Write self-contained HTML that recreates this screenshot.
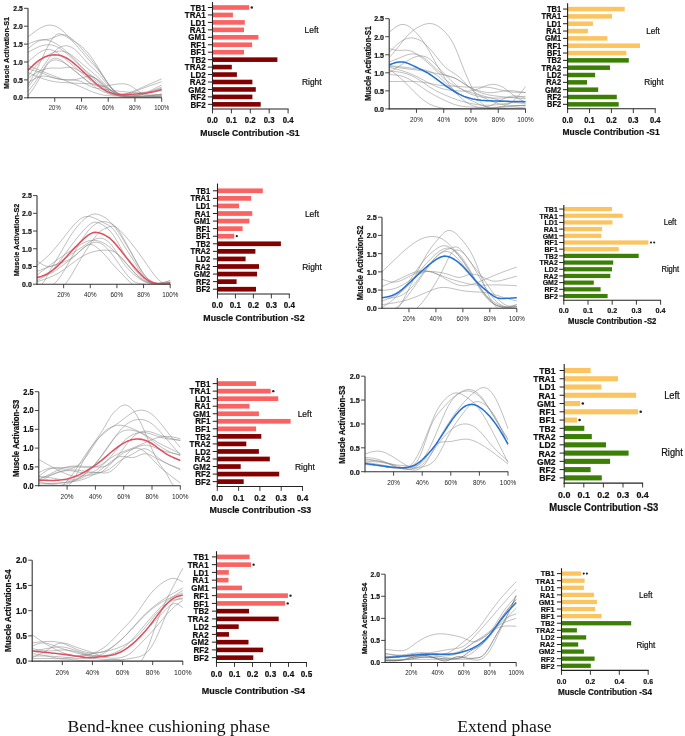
<!DOCTYPE html>
<html><head><meta charset="utf-8"><title>Muscle activation</title>
<style>html,body{margin:0;padding:0;background:#fff;width:685px;height:736px;overflow:hidden}svg{display:block;filter:blur(0.45px)}</style>
</head><body>
<svg width="685" height="736" viewBox="0 0 685 736">
<rect width="685" height="736" fill="#fff"/>
<clipPath id="c1"><rect x="28" y="-21.7" width="145.7" height="119.5"/></clipPath>
<g clip-path="url(#c1)" fill="none" stroke-linejoin="round">
<path d="M28,36.94L29.67,35.61L31.34,34.3L33.01,33.02L34.69,31.78L36.36,30.59L38.03,29.48L39.7,28.46L41.37,27.54L43.04,26.75L44.71,26.09L46.38,25.58L48.05,25.25L49.73,25.11L51.4,25.18L53.07,25.45L54.74,25.92L56.41,26.59L58.08,27.46L59.75,28.52L61.42,29.78L63.1,31.23L64.77,32.83L66.44,34.56L68.11,36.38L69.78,38.24L71.45,40.13L73.12,41.99L74.8,43.84L76.47,45.67L78.14,47.51L79.81,49.37L81.48,51.26L83.15,53.2L84.82,55.16L86.49,57.12L88.16,59.04L89.84,60.91L91.51,62.71L93.18,64.43L94.85,66.17L96.52,67.99L98.19,69.98L99.86,72.15L101.53,74.44L103.21,76.79L104.88,79.15L106.55,81.47L108.22,83.72L109.89,85.85L111.56,87.83L113.23,89.63L114.91,91.24L116.58,92.64L118.25,93.81L119.92,94.76L121.59,95.47L123.26,96L124.93,96.36L126.6,96.6L128.28,96.73L129.95,96.78L131.62,96.78L133.29,96.73L134.96,96.63L136.63,96.5L138.3,96.35L139.97,96.18L141.64,96.01L143.32,95.84L144.99,95.68L146.66,95.52L148.33,95.37L150,95.22L151.67,95.07L153.34,94.92L155.01,94.78L156.69,94.64L158.36,94.5L160.03,94.36L161.7,94.22" stroke="#8a8a8a" stroke-width="0.55"/>
<path d="M28,48.75L29.67,47.32L31.34,45.92L33.01,44.6L34.69,43.38L36.36,42.3L38.03,41.4L39.7,40.71L41.37,40.23L43.04,39.92L44.71,39.69L46.38,39.5L48.05,39.28L49.73,38.96L51.4,38.48L53.07,37.85L54.74,37.13L56.41,36.4L58.08,35.73L59.75,35.18L61.42,34.84L63.1,34.76L64.77,34.96L66.44,35.44L68.11,36.17L69.78,37.16L71.45,38.37L73.12,39.79L74.8,41.36L76.47,43.05L78.14,44.81L79.81,46.62L81.48,48.45L83.15,50.31L84.82,52.2L86.49,54.13L88.16,56.1L89.84,58.11L91.51,60.17L93.18,62.28L94.85,64.45L96.52,66.7L98.19,69.03L99.86,71.43L101.53,73.89L103.21,76.39L104.88,78.9L106.55,81.4L108.22,83.85L109.89,86.18L111.56,88.35L113.23,90.29L114.91,91.94L116.58,93.31L118.25,94.43L119.92,95.32L121.59,96.01L123.26,96.52L124.93,96.88L126.6,97.11L128.28,97.23L129.95,97.27L131.62,97.24L133.29,97.17L134.96,97.08L136.63,97L138.3,96.91L139.97,96.83L141.64,96.76L143.32,96.69L144.99,96.62L146.66,96.55L148.33,96.48L150,96.42L151.67,96.36L153.34,96.3L155.01,96.24L156.69,96.18L158.36,96.12L160.03,96.07L161.7,96.01" stroke="#8a8a8a" stroke-width="0.55"/>
<path d="M28,44.1L29.67,43.37L31.34,42.67L33.01,41.99L34.69,41.38L36.36,40.83L38.03,40.37L39.7,40.03L41.37,39.8L43.04,39.72L44.71,39.78L46.38,39.98L48.05,40.31L49.73,40.78L51.4,41.38L53.07,42.11L54.74,42.96L56.41,43.92L58.08,44.99L59.75,46.14L61.42,47.37L63.1,48.67L64.77,50.03L66.44,51.46L68.11,52.94L69.78,54.49L71.45,56.1L73.12,57.77L74.8,59.5L76.47,61.27L78.14,63.04L79.81,64.81L81.48,66.54L83.15,68.2L84.82,69.78L86.49,71.27L88.16,72.69L89.84,74.06L91.51,75.4L93.18,76.75L94.85,78.11L96.52,79.51L98.19,80.96L99.86,82.46L101.53,84L103.21,85.59L104.88,87.22L106.55,88.83L108.22,90.34L109.89,91.71L111.56,92.86L113.23,93.78L114.91,94.49L116.58,95.04L118.25,95.45L119.92,95.76L121.59,96.01L123.26,96.22L124.93,96.41L126.6,96.57L128.28,96.71L129.95,96.82L131.62,96.91L133.29,96.98L134.96,97.03L136.63,97.06L138.3,97.07L139.97,97.06L141.64,97.04L143.32,97L144.99,96.96L146.66,96.89L148.33,96.82L150,96.74L151.67,96.65L153.34,96.56L155.01,96.45L156.69,96.35L158.36,96.24L160.03,96.12L161.7,96.01" stroke="#8a8a8a" stroke-width="0.55"/>
<path d="M28,84.91L29.67,82.08L31.34,79.22L33.01,76.31L34.69,73.31L36.36,70.19L38.03,66.93L39.7,63.5L41.37,59.94L43.04,56.32L44.71,52.72L46.38,49.22L48.05,45.89L49.73,42.82L51.4,40.08L53.07,37.74L54.74,35.87L56.41,34.57L58.08,33.88L59.75,33.8L61.42,34.2L63.1,34.92L64.77,35.84L66.44,36.8L68.11,37.76L69.78,38.73L71.45,39.7L73.12,40.68L74.8,41.69L76.47,42.73L78.14,43.85L79.81,45.05L81.48,46.36L83.15,47.81L84.82,49.42L86.49,51.19L88.16,53.13L89.84,55.23L91.51,57.48L93.18,59.87L94.85,62.39L96.52,65L98.19,67.68L99.86,70.4L101.53,73.13L103.21,75.84L104.88,78.49L106.55,81.04L108.22,83.48L109.89,85.76L111.56,87.85L113.23,89.72L114.91,91.34L116.58,92.67L118.25,93.71L119.92,94.49L121.59,95.06L123.26,95.45L124.93,95.71L126.6,95.88L128.28,96.01L129.95,96.12L131.62,96.23L133.29,96.34L134.96,96.45L136.63,96.55L138.3,96.64L139.97,96.74L141.64,96.83L143.32,96.92L144.99,97.01L146.66,97.09L148.33,97.17L150,97.26L151.67,97.34L153.34,97.42L155.01,97.49L156.69,97.57L158.36,97.65L160.03,97.72L161.7,97.8" stroke="#8a8a8a" stroke-width="0.55"/>
<path d="M28,52.33L29.67,51.39L31.34,50.45L33.01,49.55L34.69,48.68L36.36,47.87L38.03,47.12L39.7,46.46L41.37,45.89L43.04,45.43L44.71,45.08L46.38,44.86L48.05,44.77L49.73,44.82L51.4,45.02L53.07,45.37L54.74,45.89L56.41,46.58L58.08,47.42L59.75,48.4L61.42,49.51L63.1,50.72L64.77,52.02L66.44,53.4L68.11,54.84L69.78,56.32L71.45,57.84L73.12,59.39L74.8,60.96L76.47,62.55L78.14,64.16L79.81,65.76L81.48,67.37L83.15,68.97L84.82,70.56L86.49,72.14L88.16,73.72L89.84,75.28L91.51,76.83L93.18,78.37L94.85,79.9L96.52,81.41L98.19,82.9L99.86,84.35L101.53,85.76L103.21,87.1L104.88,88.37L106.55,89.55L108.22,90.65L109.89,91.66L111.56,92.59L113.23,93.44L114.91,94.22L116.58,94.92L118.25,95.56L119.92,96.13L121.59,96.63L123.26,97.07L124.93,97.45L126.6,97.77L128.28,98.04L129.95,98.26L131.62,98.43L133.29,98.55L134.96,98.63L136.63,98.67L138.3,98.67L139.97,98.63L141.64,98.55L143.32,98.45L144.99,98.32L146.66,98.16L148.33,97.98L150,97.78L151.67,97.56L153.34,97.33L155.01,97.08L156.69,96.82L158.36,96.55L160.03,96.28L161.7,96.01" stroke="#8a8a8a" stroke-width="0.55"/>
<path d="M28,78.11L29.67,77L31.34,75.9L33.01,74.83L34.69,73.8L36.36,72.82L38.03,71.91L39.7,71.09L41.37,70.35L43.04,69.71L44.71,69.17L46.38,68.73L48.05,68.39L49.73,68.16L51.4,68.04L53.07,68.02L54.74,68.06L56.41,68.12L58.08,68.18L59.75,68.19L61.42,68.12L63.1,67.94L64.77,67.7L66.44,67.46L68.11,67.29L69.78,67.28L71.45,67.48L73.12,67.92L74.8,68.56L76.47,69.35L78.14,70.23L79.81,71.16L81.48,72.09L83.15,72.97L84.82,73.76L86.49,74.43L88.16,75.04L89.84,75.63L91.51,76.24L93.18,76.91L94.85,77.69L96.52,78.61L98.19,79.7L99.86,80.94L101.53,82.3L103.21,83.78L104.88,85.35L106.55,86.93L108.22,88.46L109.89,89.88L111.56,91.1L113.23,92.12L114.91,92.94L116.58,93.61L118.25,94.15L119.92,94.58L121.59,94.94L123.26,95.24L124.93,95.51L126.6,95.73L128.28,95.92L129.95,96.07L131.62,96.18L133.29,96.26L134.96,96.3L136.63,96.32L138.3,96.3L139.97,96.27L141.64,96.2L143.32,96.12L144.99,96.01L146.66,95.88L148.33,95.74L150,95.58L151.67,95.41L153.34,95.23L155.01,95.04L156.69,94.84L158.36,94.64L160.03,94.43L161.7,94.22" stroke="#8a8a8a" stroke-width="0.55"/>
<path d="M28,72.38L29.67,73.15L31.34,73.91L33.01,74.66L34.69,75.4L36.36,76.11L38.03,76.81L39.7,77.48L41.37,78.11L43.04,78.71L44.71,79.26L46.38,79.78L48.05,80.26L49.73,80.68L51.4,81.07L53.07,81.4L54.74,81.69L56.41,81.93L58.08,82.12L59.75,82.27L61.42,82.4L63.1,82.51L64.77,82.6L66.44,82.68L68.11,82.76L69.78,82.85L71.45,82.95L73.12,83.05L74.8,83.15L76.47,83.24L78.14,83.33L79.81,83.41L81.48,83.48L83.15,83.54L84.82,83.59L86.49,83.64L88.16,83.71L89.84,83.78L91.51,83.89L93.18,84.02L94.85,84.2L96.52,84.42L98.19,84.7L99.86,85.06L101.53,85.51L103.21,86.07L104.88,86.75L106.55,87.56L108.22,88.49L109.89,89.49L111.56,90.51L113.23,91.5L114.91,92.43L116.58,93.25L118.25,93.95L119.92,94.55L121.59,95.03L123.26,95.42L124.93,95.71L126.6,95.91L128.28,96.01L129.95,96.03L131.62,95.96L133.29,95.82L134.96,95.62L136.63,95.35L138.3,95.02L139.97,94.64L141.64,94.22L143.32,93.76L144.99,93.26L146.66,92.73L148.33,92.18L150,91.59L151.67,90.99L153.34,90.36L155.01,89.72L156.69,89.07L158.36,88.4L160.03,87.73L161.7,87.06" stroke="#8a8a8a" stroke-width="0.55"/>
<path d="M28,82.76L29.67,81.69L31.34,80.65L33.01,79.65L34.69,78.73L36.36,77.91L38.03,77.22L39.7,76.68L41.37,76.32L43.04,76.15L44.71,76.15L46.38,76.3L48.05,76.55L49.73,76.89L51.4,77.29L53.07,77.7L54.74,78.11L56.41,78.49L58.08,78.82L59.75,79.12L61.42,79.37L63.1,79.57L64.77,79.73L66.44,79.84L68.11,79.9L69.78,79.9L71.45,79.85L73.12,79.74L74.8,79.56L76.47,79.31L78.14,78.99L79.81,78.59L81.48,78.11L83.15,77.56L84.82,77.01L86.49,76.54L88.16,76.24L89.84,76.19L91.51,76.48L93.18,77.13L94.85,78.07L96.52,79.24L98.19,80.58L99.86,82.01L101.53,83.48L103.21,84.92L104.88,86.32L106.55,87.64L108.22,88.88L109.89,90.02L111.56,91.03L113.23,91.91L114.91,92.65L116.58,93.26L118.25,93.72L119.92,94.04L121.59,94.22L123.26,94.25L124.93,94.15L126.6,93.93L128.28,93.61L129.95,93.19L131.62,92.69L133.29,92.13L134.96,91.52L136.63,90.88L138.3,90.21L139.97,89.53L141.64,88.85L143.32,88.19L144.99,87.55L146.66,86.92L148.33,86.3L150,85.7L151.67,85.11L153.34,84.52L155.01,83.95L156.69,83.38L158.36,82.81L160.03,82.25L161.7,81.69" stroke="#8a8a8a" stroke-width="0.55"/>
<path d="M28,91.71L29.67,89.53L31.34,87.33L33.01,85.09L34.69,82.8L36.36,80.44L38.03,77.98L39.7,75.42L41.37,72.74L43.04,69.94L44.71,67.17L46.38,64.59L48.05,62.36L49.73,60.62L51.4,59.37L53.07,58.57L54.74,58.2L56.41,58.23L58.08,58.62L59.75,59.32L61.42,60.29L63.1,61.46L64.77,62.77L66.44,64.16L68.11,65.58L69.78,66.98L71.45,68.34L73.12,69.69L74.8,71.02L76.47,72.34L78.14,73.66L79.81,74.99L81.48,76.32L83.15,77.66L84.82,79L86.49,80.3L88.16,81.53L89.84,82.67L91.51,83.69L93.18,84.57L94.85,85.27L96.52,85.78L98.19,86.12L99.86,86.29L101.53,86.34L103.21,86.27L104.88,86.12L106.55,85.9L108.22,85.63L109.89,85.34L111.56,85.03L113.23,84.74L114.91,84.46L116.58,84.21L118.25,84L119.92,83.86L121.59,83.79L123.26,83.81L124.93,83.96L126.6,84.27L128.28,84.76L129.95,85.45L131.62,86.39L133.29,87.54L134.96,88.8L136.63,90.08L138.3,91.28L139.97,92.3L141.64,93.11L143.32,93.75L144.99,94.25L146.66,94.63L148.33,94.94L150,95.18L151.67,95.38L153.34,95.55L155.01,95.68L156.69,95.78L158.36,95.87L160.03,95.94L161.7,96.01" stroke="#8a8a8a" stroke-width="0.55"/>
<path d="M28,87.06L29.67,84.9L31.34,82.74L33.01,80.56L34.69,78.36L36.36,76.12L38.03,73.85L39.7,71.53L41.37,69.16L43.04,66.73L44.71,64.28L46.38,61.85L48.05,59.47L49.73,57.18L51.4,55.02L53.07,53.04L54.74,51.26L56.41,49.72L58.08,48.43L59.75,47.4L61.42,46.61L63.1,46.08L64.77,45.81L66.44,45.8L68.11,46.03L69.78,46.52L71.45,47.26L73.12,48.24L74.8,49.47L76.47,50.93L78.14,52.58L79.81,54.37L81.48,56.26L83.15,58.19L84.82,60.13L86.49,62.01L88.16,63.79L89.84,65.44L91.51,67L93.18,68.53L94.85,70.08L96.52,71.7L98.19,73.46L99.86,75.36L101.53,77.36L103.21,79.4L104.88,81.44L106.55,83.41L108.22,85.27L109.89,86.98L111.56,88.52L113.23,89.91L114.91,91.15L116.58,92.23L118.25,93.17L119.92,93.96L121.59,94.62L123.26,95.15L124.93,95.55L126.6,95.83L128.28,96.01L129.95,96.08L131.62,96.06L133.29,95.95L134.96,95.75L136.63,95.46L138.3,95.11L139.97,94.68L141.64,94.18L143.32,93.62L144.99,93.01L146.66,92.34L148.33,91.63L150,90.88L151.67,90.1L153.34,89.28L155.01,88.44L156.69,87.57L158.36,86.69L160.03,85.81L161.7,84.91" stroke="#8a8a8a" stroke-width="0.55"/>
<path d="M28,62L29.67,60.47L31.34,58.96L33.01,57.49L34.69,56.08L36.36,54.74L38.03,53.51L39.7,52.4L41.37,51.42L43.04,50.62L44.71,50L46.38,49.59L48.05,49.42L49.73,49.51L51.4,49.87L53.07,50.47L54.74,51.27L56.41,52.25L58.08,53.36L59.75,54.59L61.42,55.88L63.1,57.23L64.77,58.63L66.44,60.05L68.11,61.49L69.78,62.93L71.45,64.36L73.12,65.77L74.8,67.17L76.47,68.56L78.14,69.95L79.81,71.34L81.48,72.74L83.15,74.15L84.82,75.56L86.49,76.97L88.16,78.37L89.84,79.77L91.51,81.15L93.18,82.5L94.85,83.83L96.52,85.13L98.19,86.4L99.86,87.64L101.53,88.85L103.21,90.02L104.88,91.13L106.55,92.16L108.22,93.07L109.89,93.84L111.56,94.44L113.23,94.86L114.91,95.12L116.58,95.23L118.25,95.2L119.92,95.05L121.59,94.8L123.26,94.46L124.93,94.05L126.6,93.57L128.28,93.04L129.95,92.47L131.62,91.86L133.29,91.22L134.96,90.54L136.63,89.84L138.3,89.12L139.97,88.39L141.64,87.65L143.32,86.91L144.99,86.17L146.66,85.43L148.33,84.7L150,83.96L151.67,83.22L153.34,82.49L155.01,81.76L156.69,81.02L158.36,80.29L160.03,79.56L161.7,78.83" stroke="#8a8a8a" stroke-width="0.55"/>
<path d="M28,65.58L29.67,66.25L31.34,66.92L33.01,67.6L34.69,68.27L36.36,68.94L38.03,69.61L39.7,70.28L41.37,70.95L43.04,71.62L44.71,72.29L46.38,72.96L48.05,73.63L49.73,74.3L51.4,74.97L53.07,75.65L54.74,76.32L56.41,77L58.08,77.67L59.75,78.35L61.42,79.02L63.1,79.7L64.77,80.36L66.44,81.03L68.11,81.69L69.78,82.35L71.45,83L73.12,83.65L74.8,84.31L76.47,84.98L78.14,85.65L79.81,86.35L81.48,87.06L83.15,87.79L84.82,88.54L86.49,89.28L88.16,90.02L89.84,90.75L91.51,91.44L93.18,92.11L94.85,92.72L96.52,93.29L98.19,93.81L99.86,94.27L101.53,94.67L103.21,95L104.88,95.26L106.55,95.46L108.22,95.62L109.89,95.75L111.56,95.84L113.23,95.93L114.91,96.01L116.58,96.1L118.25,96.19L119.92,96.28L121.59,96.36L123.26,96.42L124.93,96.47L126.6,96.49L128.28,96.48L129.95,96.43L131.62,96.34L133.29,96.2L134.96,96.01L136.63,95.76L138.3,95.46L139.97,95.11L141.64,94.71L143.32,94.28L144.99,93.81L146.66,93.31L148.33,92.79L150,92.25L151.67,91.69L153.34,91.12L155.01,90.54L156.69,89.94L158.36,89.34L160.03,88.74L161.7,88.13" stroke="#8a8a8a" stroke-width="0.55"/>
<path d="M28,76.32L29.67,74.09L31.34,71.88L33.01,69.72L34.69,67.61L36.36,65.59L38.03,63.66L39.7,61.87L41.37,60.21L43.04,58.71L44.71,57.37L46.38,56.17L48.05,55.11L49.73,54.17L51.4,53.35L53.07,52.63L54.74,52.03L56.41,51.56L58.08,51.23L59.75,51.07L61.42,51.1L63.1,51.32L64.77,51.76L66.44,52.38L68.11,53.17L69.78,54.12L71.45,55.2L73.12,56.38L74.8,57.66L76.47,59L78.14,60.4L79.81,61.83L81.48,63.28L83.15,64.72L84.82,66.15L86.49,67.54L88.16,68.92L89.84,70.3L91.51,71.68L93.18,73.09L94.85,74.53L96.52,76.01L98.19,77.55L99.86,79.13L101.53,80.76L103.21,82.44L104.88,84.18L106.55,85.95L108.22,87.69L109.89,89.35L111.56,90.87L113.23,92.19L114.91,93.28L116.58,94.13L118.25,94.78L119.92,95.26L121.59,95.62L123.26,95.88L124.93,96.09L126.6,96.25L128.28,96.39L129.95,96.48L131.62,96.55L133.29,96.59L134.96,96.59L136.63,96.58L138.3,96.53L139.97,96.46L141.64,96.37L143.32,96.27L144.99,96.14L146.66,95.99L148.33,95.83L150,95.66L151.67,95.48L153.34,95.28L155.01,95.08L156.69,94.87L158.36,94.66L160.03,94.44L161.7,94.22" stroke="#8a8a8a" stroke-width="0.55"/>
<path d="M28,96.01L29.67,93.73L31.34,91.42L33.01,89.03L34.69,86.54L36.36,83.9L38.03,81.09L39.7,78.06L41.37,74.89L43.04,71.73L44.71,68.73L46.38,66.03L48.05,63.79L49.73,62.11L51.4,60.97L53.07,60.3L54.74,60.01L56.41,60.06L58.08,60.36L59.75,60.86L61.42,61.55L63.1,62.38L64.77,63.35L66.44,64.43L68.11,65.58L69.78,66.79L71.45,68.05L73.12,69.36L74.8,70.7L76.47,72.07L78.14,73.47L79.81,74.89L81.48,76.32L83.15,77.76L84.82,79.19L86.49,80.61L88.16,82L89.84,83.36L91.51,84.66L93.18,85.9L94.85,87.06L96.52,88.14L98.19,89.14L99.86,90.05L101.53,90.89L103.21,91.65L104.88,92.34L106.55,92.95L108.22,93.5L109.89,93.99L111.56,94.41L113.23,94.78L114.91,95.1L116.58,95.38L118.25,95.62L119.92,95.83L121.59,96.01L123.26,96.17L124.93,96.31L126.6,96.43L128.28,96.53L129.95,96.61L131.62,96.68L133.29,96.73L134.96,96.76L136.63,96.78L138.3,96.79L139.97,96.79L141.64,96.77L143.32,96.75L144.99,96.71L146.66,96.67L148.33,96.61L150,96.55L151.67,96.49L153.34,96.42L155.01,96.34L156.69,96.26L158.36,96.18L160.03,96.09L161.7,96.01" stroke="#8a8a8a" stroke-width="0.55"/>
<path d="M28,69.16L29.67,69.52L31.34,69.89L33.01,70.28L34.69,70.69L36.36,71.13L38.03,71.61L39.7,72.15L41.37,72.74L43.04,73.39L44.71,74.09L46.38,74.81L48.05,75.54L49.73,76.26L51.4,76.94L53.07,77.56L54.74,78.11L56.41,78.57L58.08,78.94L59.75,79.24L61.42,79.47L63.1,79.64L64.77,79.76L66.44,79.84L68.11,79.9L69.78,79.94L71.45,79.98L73.12,80.05L74.8,80.18L76.47,80.38L78.14,80.68L79.81,81.11L81.48,81.69L83.15,82.43L84.82,83.29L86.49,84.21L88.16,85.13L89.84,86.01L91.51,86.79L93.18,87.41L94.85,87.88L96.52,88.22L98.19,88.47L99.86,88.67L101.53,88.85L103.21,89.04L104.88,89.25L106.55,89.47L108.22,89.7L109.89,89.93L111.56,90.17L113.23,90.41L114.91,90.64L116.58,90.87L118.25,91.08L119.92,91.29L121.59,91.49L123.26,91.67L124.93,91.84L126.6,91.99L128.28,92.12L129.95,92.23L131.62,92.32L133.29,92.39L134.96,92.43L136.63,92.45L138.3,92.44L139.97,92.41L141.64,92.35L143.32,92.28L144.99,92.19L146.66,92.08L148.33,91.96L150,91.82L151.67,91.68L153.34,91.52L155.01,91.35L156.69,91.18L158.36,91L160.03,90.82L161.7,90.64" stroke="#8a8a8a" stroke-width="0.55"/>
<path d="M28,70.23L29.67,68.59L31.34,66.97L33.01,65.38L34.69,63.86L36.36,62.43L38.03,61.09L39.7,59.89L41.37,58.81L43.04,57.88L44.71,57.07L46.38,56.39L48.05,55.84L49.73,55.4L51.4,55.09L53.07,54.91L54.74,54.84L56.41,54.9L58.08,55.08L59.75,55.39L61.42,55.84L63.1,56.42L64.77,57.15L66.44,58.02L68.11,59.03L69.78,60.15L71.45,61.38L73.12,62.7L74.8,64.08L76.47,65.52L78.14,67L79.81,68.52L81.48,70.05L83.15,71.61L84.82,73.18L86.49,74.76L88.16,76.34L89.84,77.91L91.51,79.47L93.18,81L94.85,82.51L96.52,83.97L98.19,85.38L99.86,86.73L101.53,88L103.21,89.16L104.88,90.19L106.55,91.1L108.22,91.87L109.89,92.54L111.56,93.09L113.23,93.55L114.91,93.91L116.58,94.19L118.25,94.39L119.92,94.53L121.59,94.6L123.26,94.62L124.93,94.6L126.6,94.55L128.28,94.48L129.95,94.38L131.62,94.27L133.29,94.15L134.96,94.02L136.63,93.9L138.3,93.78L139.97,93.66L141.64,93.54L143.32,93.39L144.99,93.23L146.66,93.03L148.33,92.79L150,92.5L151.67,92.16L153.34,91.79L155.01,91.38L156.69,90.95L158.36,90.5L160.03,90.04L161.7,89.57" stroke="#e0505e" stroke-width="1.55"/>
</g>
<line x1="28" y1="8.3" x2="28" y2="98.35" stroke="#333" stroke-width="1.1"/>
<line x1="27.45" y1="97.8" x2="161.9" y2="97.8" stroke="#333" stroke-width="1.1"/>
<line x1="24" y1="97.8" x2="28" y2="97.8" stroke="#333" stroke-width="0.9"/>
<text x="22.8" y="100.25" font-size="6.8" font-weight="bold" text-anchor="end" fill="#111" stroke="#111" stroke-width="0.2" font-family='"Liberation Sans", sans-serif' transform="translate(0 97.8) scale(1 1.1) translate(0 -97.8)" >0.0</text>
<line x1="24" y1="79.9" x2="28" y2="79.9" stroke="#333" stroke-width="0.9"/>
<text x="22.8" y="82.35" font-size="6.8" font-weight="bold" text-anchor="end" fill="#111" stroke="#111" stroke-width="0.2" font-family='"Liberation Sans", sans-serif' transform="translate(0 79.9) scale(1 1.1) translate(0 -79.9)" >0.5</text>
<line x1="24" y1="62" x2="28" y2="62" stroke="#333" stroke-width="0.9"/>
<text x="22.8" y="64.45" font-size="6.8" font-weight="bold" text-anchor="end" fill="#111" stroke="#111" stroke-width="0.2" font-family='"Liberation Sans", sans-serif' transform="translate(0 62) scale(1 1.1) translate(0 -62)" >1.0</text>
<line x1="24" y1="44.1" x2="28" y2="44.1" stroke="#333" stroke-width="0.9"/>
<text x="22.8" y="46.55" font-size="6.8" font-weight="bold" text-anchor="end" fill="#111" stroke="#111" stroke-width="0.2" font-family='"Liberation Sans", sans-serif' transform="translate(0 44.1) scale(1 1.1) translate(0 -44.1)" >1.5</text>
<line x1="24" y1="26.2" x2="28" y2="26.2" stroke="#333" stroke-width="0.9"/>
<text x="22.8" y="28.65" font-size="6.8" font-weight="bold" text-anchor="end" fill="#111" stroke="#111" stroke-width="0.2" font-family='"Liberation Sans", sans-serif' transform="translate(0 26.2) scale(1 1.1) translate(0 -26.2)" >2.0</text>
<line x1="24" y1="8.3" x2="28" y2="8.3" stroke="#333" stroke-width="0.9"/>
<text x="22.8" y="10.75" font-size="6.8" font-weight="bold" text-anchor="end" fill="#111" stroke="#111" stroke-width="0.2" font-family='"Liberation Sans", sans-serif' transform="translate(0 8.3) scale(1 1.1) translate(0 -8.3)" >2.5</text>
<line x1="54.74" y1="97.8" x2="54.74" y2="101.8" stroke="#333" stroke-width="0.9"/>
<text x="54.74" y="109.82" font-size="5.9" font-weight="normal" text-anchor="middle" fill="#222" font-family='"Liberation Sans", sans-serif' transform="translate(0 107.7) scale(1 1.1) translate(0 -107.7)" >20%</text>
<line x1="81.48" y1="97.8" x2="81.48" y2="101.8" stroke="#333" stroke-width="0.9"/>
<text x="81.48" y="109.82" font-size="5.9" font-weight="normal" text-anchor="middle" fill="#222" font-family='"Liberation Sans", sans-serif' transform="translate(0 107.7) scale(1 1.1) translate(0 -107.7)" >40%</text>
<line x1="108.22" y1="97.8" x2="108.22" y2="101.8" stroke="#333" stroke-width="0.9"/>
<text x="108.22" y="109.82" font-size="5.9" font-weight="normal" text-anchor="middle" fill="#222" font-family='"Liberation Sans", sans-serif' transform="translate(0 107.7) scale(1 1.1) translate(0 -107.7)" >60%</text>
<line x1="134.96" y1="97.8" x2="134.96" y2="101.8" stroke="#333" stroke-width="0.9"/>
<text x="134.96" y="109.82" font-size="5.9" font-weight="normal" text-anchor="middle" fill="#222" font-family='"Liberation Sans", sans-serif' transform="translate(0 107.7) scale(1 1.1) translate(0 -107.7)" >80%</text>
<line x1="161.7" y1="97.8" x2="161.7" y2="101.8" stroke="#333" stroke-width="0.9"/>
<text x="161.7" y="109.82" font-size="5.9" font-weight="normal" text-anchor="middle" fill="#222" font-family='"Liberation Sans", sans-serif' transform="translate(0 107.7) scale(1 1.1) translate(0 -107.7)" >100%</text>
<text x="6.8" y="53" font-size="7.19" font-weight="bold" text-anchor="middle" fill="#111" stroke="#111" stroke-width="0.2" font-family='"Liberation Sans", sans-serif' transform="translate(6.8 53) scale(1.1 1) rotate(-90) translate(-6.8 -53)" dominant-baseline="central">Muscle Activation-S1</text>
<clipPath id="c2"><rect x="389.2" y="-11.35" width="148.3" height="120.25"/></clipPath>
<g clip-path="url(#c2)" fill="none" stroke-linejoin="round">
<path d="M389.2,32.37L390.9,30.87L392.61,29.42L394.31,28.07L396.01,26.86L397.72,25.84L399.42,25.06L401.13,24.56L402.83,24.4L404.53,24.59L406.24,25.1L407.94,25.89L409.64,26.94L411.35,28.22L413.05,29.68L414.76,31.3L416.46,33.06L418.16,34.95L419.87,36.98L421.57,39.18L423.27,41.55L424.98,44.11L426.68,46.86L428.39,49.78L430.09,52.8L431.79,55.87L433.5,58.95L435.2,61.97L436.9,64.91L438.61,67.8L440.31,70.62L442.02,73.39L443.72,76.12L445.42,78.81L447.13,81.43L448.83,83.94L450.53,86.33L452.24,88.56L453.94,90.63L455.65,92.56L457.35,94.36L459.05,96.07L460.76,97.68L462.46,99.21L464.16,100.62L465.87,101.91L467.57,103.06L469.28,104.07L470.98,104.92L472.68,105.64L474.39,106.23L476.09,106.71L477.79,107.09L479.5,107.39L481.2,107.6L482.91,107.74L484.61,107.82L486.31,107.85L488.02,107.82L489.72,107.75L491.42,107.66L493.13,107.53L494.83,107.39L496.54,107.24L498.24,107.09L499.94,106.95L501.65,106.81L503.35,106.68L505.06,106.55L506.76,106.43L508.46,106.31L510.17,106.2L511.87,106.09L513.57,105.98L515.28,105.88L516.98,105.77L518.68,105.68L520.39,105.58L522.09,105.48L523.8,105.39L525.5,105.29" stroke="#8a8a8a" stroke-width="0.55"/>
<path d="M389.2,57.64L390.9,55.72L392.61,53.78L394.31,51.8L396.01,49.78L397.72,47.68L399.42,45.53L401.13,43.35L402.83,41.19L404.53,39.08L406.24,37.06L407.94,35.17L409.64,33.45L411.35,31.9L413.05,30.51L414.76,29.27L416.46,28.15L418.16,27.14L419.87,26.24L421.57,25.44L423.27,24.75L424.98,24.2L426.68,23.8L428.39,23.57L430.09,23.53L431.79,23.69L433.5,24.07L435.2,24.67L436.9,25.48L438.61,26.49L440.31,27.69L442.02,29.09L443.72,30.67L445.42,32.42L447.13,34.34L448.83,36.48L450.53,38.9L452.24,41.69L453.94,44.92L455.65,48.61L457.35,52.68L459.05,56.98L460.76,61.39L462.46,65.8L464.16,70.07L465.87,74.17L467.57,78.12L469.28,81.92L470.98,85.58L472.68,89.08L474.39,92.37L476.09,95.43L477.79,98.18L479.5,100.6L481.2,102.67L482.91,104.4L484.61,105.82L486.31,106.93L488.02,107.76L489.72,108.33L491.42,108.7L493.13,108.9L494.83,108.98L496.54,108.96L498.24,108.9L499.94,108.82L501.65,108.74L503.35,108.65L505.06,108.55L506.76,108.45L508.46,108.35L510.17,108.23L511.87,108.12L513.57,108L515.28,107.88L516.98,107.75L518.68,107.62L520.39,107.49L522.09,107.36L523.8,107.23L525.5,107.09" stroke="#8a8a8a" stroke-width="0.55"/>
<path d="M389.2,52.58L390.9,50.76L392.61,48.96L394.31,47.22L396.01,45.56L397.72,44L399.42,42.59L401.13,41.33L402.83,40.27L404.53,39.41L406.24,38.75L407.94,38.29L409.64,38.02L411.35,37.94L413.05,38.05L414.76,38.34L416.46,38.81L418.16,39.46L419.87,40.29L421.57,41.31L423.27,42.52L424.98,43.92L426.68,45.48L428.39,47.19L430.09,49.04L431.79,51.01L433.5,53.09L435.2,55.25L436.9,57.44L438.61,59.61L440.31,61.73L442.02,63.73L443.72,65.58L445.42,67.23L447.13,68.67L448.83,69.94L450.53,71.1L452.24,72.19L453.94,73.27L455.65,74.4L457.35,75.61L459.05,76.96L460.76,78.49L462.46,80.17L464.16,81.95L465.87,83.79L467.57,85.61L469.28,87.38L470.98,89.05L472.68,90.56L474.39,91.93L476.09,93.18L477.79,94.31L479.5,95.35L481.2,96.31L482.91,97.21L484.61,98.07L486.31,98.9L488.02,99.69L489.72,100.44L491.42,101.15L493.13,101.82L494.83,102.43L496.54,102.99L498.24,103.48L499.94,103.92L501.65,104.29L503.35,104.6L505.06,104.86L506.76,105.07L508.46,105.23L510.17,105.35L511.87,105.44L513.57,105.49L515.28,105.52L516.98,105.52L518.68,105.5L520.39,105.46L522.09,105.41L523.8,105.35L525.5,105.29" stroke="#8a8a8a" stroke-width="0.55"/>
<path d="M389.2,48.61L390.9,49.07L392.61,49.49L394.31,49.87L396.01,50.17L397.72,50.36L399.42,50.43L401.13,50.38L402.83,50.28L404.53,50.19L406.24,50.18L407.94,50.32L409.64,50.67L411.35,51.23L413.05,51.99L414.76,52.91L416.46,53.97L418.16,55.14L419.87,56.39L421.57,57.69L423.27,59.03L424.98,60.41L426.68,61.82L428.39,63.29L430.09,64.81L431.79,66.4L433.5,68.06L435.2,69.77L436.9,71.52L438.61,73.27L440.31,74.99L442.02,76.65L443.72,78.22L445.42,79.67L447.13,81.01L448.83,82.25L450.53,83.39L452.24,84.46L453.94,85.45L455.65,86.37L457.35,87.24L459.05,88.06L460.76,88.84L462.46,89.58L464.16,90.27L465.87,90.92L467.57,91.54L469.28,92.11L470.98,92.66L472.68,93.16L474.39,93.64L476.09,94.09L477.79,94.53L479.5,94.96L481.2,95.39L482.91,95.82L484.61,96.27L486.31,96.72L488.02,97.19L489.72,97.66L491.42,98.13L493.13,98.59L494.83,99.04L496.54,99.47L498.24,99.88L499.94,100.25L501.65,100.6L503.35,100.92L505.06,101.21L506.76,101.48L508.46,101.73L510.17,101.96L511.87,102.18L513.57,102.37L515.28,102.56L516.98,102.73L518.68,102.89L520.39,103.05L522.09,103.2L523.8,103.34L525.5,103.48" stroke="#8a8a8a" stroke-width="0.55"/>
<path d="M389.2,61.97L390.9,61.31L392.61,60.65L394.31,59.99L396.01,59.31L397.72,58.63L399.42,57.92L401.13,57.21L402.83,56.49L404.53,55.8L406.24,55.17L407.94,54.64L409.64,54.24L411.35,53.99L413.05,53.93L414.76,54.04L416.46,54.34L418.16,54.83L419.87,55.5L421.57,56.36L423.27,57.41L424.98,58.62L426.68,59.97L428.39,61.44L430.09,62.99L431.79,64.6L433.5,66.24L435.2,67.88L436.9,69.47L438.61,70.98L440.31,72.37L442.02,73.59L443.72,74.61L445.42,75.39L447.13,75.99L448.83,76.48L450.53,76.92L452.24,77.39L453.94,77.95L455.65,78.67L457.35,79.54L459.05,80.55L460.76,81.64L462.46,82.78L464.16,83.93L465.87,85.06L467.57,86.12L469.28,87.08L470.98,87.93L472.68,88.68L474.39,89.34L476.09,89.93L477.79,90.46L479.5,90.94L481.2,91.38L482.91,91.77L484.61,92.1L486.31,92.37L488.02,92.55L489.72,92.65L491.42,92.66L493.13,92.56L494.83,92.38L496.54,92.14L498.24,91.86L499.94,91.57L501.65,91.29L503.35,91.04L505.06,90.85L506.76,90.73L508.46,90.68L510.17,90.69L511.87,90.76L513.57,90.89L515.28,91.06L516.98,91.26L518.68,91.5L520.39,91.77L522.09,92.05L523.8,92.35L525.5,92.66" stroke="#8a8a8a" stroke-width="0.55"/>
<path d="M389.2,81.46L390.9,81.48L392.61,81.49L394.31,81.49L396.01,81.5L397.72,81.5L399.42,81.49L401.13,81.48L402.83,81.46L404.53,81.44L406.24,81.41L407.94,81.38L409.64,81.37L411.35,81.37L413.05,81.4L414.76,81.45L416.46,81.54L418.16,81.66L419.87,81.82L421.57,82.01L423.27,82.24L424.98,82.5L426.68,82.78L428.39,83.1L430.09,83.44L431.79,83.79L433.5,84.14L435.2,84.49L436.9,84.81L438.61,85.1L440.31,85.35L442.02,85.55L443.72,85.7L445.42,85.8L447.13,85.88L448.83,85.94L450.53,86L452.24,86.05L453.94,86.12L455.65,86.22L457.35,86.33L459.05,86.47L460.76,86.61L462.46,86.76L464.16,86.89L465.87,87.02L467.57,87.12L469.28,87.2L470.98,87.24L472.68,87.24L474.39,87.21L476.09,87.16L477.79,87.1L479.5,87.05L481.2,87.02L482.91,87.02L484.61,87.06L486.31,87.15L488.02,87.31L489.72,87.54L491.42,87.83L493.13,88.17L494.83,88.54L496.54,88.94L498.24,89.36L499.94,89.78L501.65,90.19L503.35,90.58L505.06,90.95L506.76,91.27L508.46,91.55L510.17,91.79L511.87,91.98L513.57,92.14L515.28,92.27L516.98,92.37L518.68,92.46L520.39,92.52L522.09,92.57L523.8,92.62L525.5,92.66" stroke="#8a8a8a" stroke-width="0.55"/>
<path d="M389.2,69.19L390.9,70.47L392.61,71.76L394.31,73.07L396.01,74.41L397.72,75.79L399.42,77.23L401.13,78.73L402.83,80.3L404.53,81.94L406.24,83.63L407.94,85.36L409.64,87.11L411.35,88.87L413.05,90.61L414.76,92.32L416.46,93.98L418.16,95.58L419.87,97.11L421.57,98.56L423.27,99.92L424.98,101.18L426.68,102.34L428.39,103.37L430.09,104.28L431.79,105.08L433.5,105.78L435.2,106.38L436.9,106.9L438.61,107.33L440.31,107.69L442.02,107.99L443.72,108.23L445.42,108.42L447.13,108.56L448.83,108.67L450.53,108.75L452.24,108.8L453.94,108.84L455.65,108.87L457.35,108.9L459.05,108.93L460.76,108.96L462.46,109L464.16,109.03L465.87,109.07L467.57,109.1L469.28,109.12L470.98,109.14L472.68,109.16L474.39,109.16L476.09,109.15L477.79,109.13L479.5,109.1L481.2,109.05L482.91,108.98L484.61,108.9L486.31,108.8L488.02,108.67L489.72,108.52L491.42,108.33L493.13,108.11L494.83,107.85L496.54,107.55L498.24,107.21L499.94,106.81L501.65,106.36L503.35,105.86L505.06,105.29L506.76,104.65L508.46,103.92L510.17,103.04L511.87,102L513.57,100.74L515.28,99.25L516.98,97.5L518.68,95.55L520.39,93.44L522.09,91.2L523.8,88.88L525.5,86.52" stroke="#8a8a8a" stroke-width="0.55"/>
<path d="M389.2,71L390.9,71.14L392.61,71.29L394.31,71.45L396.01,71.64L397.72,71.86L399.42,72.13L401.13,72.43L402.83,72.8L404.53,73.23L406.24,73.72L407.94,74.29L409.64,74.92L411.35,75.63L413.05,76.41L414.76,77.27L416.46,78.22L418.16,79.24L419.87,80.33L421.57,81.46L423.27,82.63L424.98,83.81L426.68,84.98L428.39,86.13L430.09,87.24L431.79,88.3L433.5,89.3L435.2,90.25L436.9,91.16L438.61,92.03L440.31,92.87L442.02,93.68L443.72,94.46L445.42,95.22L447.13,95.96L448.83,96.68L450.53,97.37L452.24,98.04L453.94,98.68L455.65,99.29L457.35,99.88L459.05,100.42L460.76,100.94L462.46,101.43L464.16,101.9L465.87,102.33L467.57,102.74L469.28,103.12L470.98,103.48L472.68,103.82L474.39,104.14L476.09,104.42L477.79,104.67L479.5,104.89L481.2,105.07L482.91,105.2L484.61,105.29L486.31,105.33L488.02,105.33L489.72,105.28L491.42,105.2L493.13,105.08L494.83,104.94L496.54,104.76L498.24,104.57L499.94,104.35L501.65,104.13L503.35,103.89L505.06,103.65L506.76,103.42L508.46,103.19L510.17,102.97L511.87,102.76L513.57,102.58L515.28,102.42L516.98,102.27L518.68,102.14L520.39,102.01L522.09,101.9L523.8,101.79L525.5,101.68" stroke="#8a8a8a" stroke-width="0.55"/>
<path d="M389.2,67.39L390.9,67.79L392.61,68.21L394.31,68.63L396.01,69.06L397.72,69.51L399.42,69.98L401.13,70.47L402.83,71L404.53,71.55L406.24,72.13L407.94,72.75L409.64,73.4L411.35,74.1L413.05,74.83L414.76,75.6L416.46,76.41L418.16,77.26L419.87,78.15L421.57,79.06L423.27,79.99L424.98,80.91L426.68,81.84L428.39,82.75L430.09,83.63L431.79,84.48L433.5,85.29L435.2,86.06L436.9,86.78L438.61,87.44L440.31,88.04L442.02,88.58L443.72,89.05L445.42,89.44L447.13,89.77L448.83,90.04L450.53,90.26L452.24,90.45L453.94,90.6L455.65,90.73L457.35,90.85L459.05,90.96L460.76,91.06L462.46,91.14L464.16,91.18L465.87,91.17L467.57,91.12L469.28,90.99L470.98,90.8L472.68,90.52L474.39,90.14L476.09,89.66L477.79,89.08L479.5,88.42L481.2,87.72L482.91,87.01L484.61,86.33L486.31,85.69L488.02,85.14L489.72,84.72L491.42,84.44L493.13,84.34L494.83,84.44L496.54,84.73L498.24,85.2L499.94,85.83L501.65,86.62L503.35,87.55L505.06,88.62L506.76,89.82L508.46,91.12L510.17,92.48L511.87,93.87L513.57,95.22L515.28,96.5L516.98,97.67L518.68,98.67L520.39,99.54L522.09,100.31L523.8,101.01L525.5,101.68" stroke="#8a8a8a" stroke-width="0.55"/>
<path d="M389.2,66.3L390.9,66.56L392.61,66.81L394.31,67.06L396.01,67.31L397.72,67.56L399.42,67.81L401.13,68.05L402.83,68.29L404.53,68.52L406.24,68.75L407.94,68.97L409.64,69.19L411.35,69.4L413.05,69.61L414.76,69.81L416.46,70.03L418.16,70.25L419.87,70.48L421.57,70.73L423.27,71L424.98,71.28L426.68,71.59L428.39,71.91L430.09,72.24L431.79,72.57L433.5,72.9L435.2,73.22L436.9,73.52L438.61,73.81L440.31,74.1L442.02,74.39L443.72,74.7L445.42,75.05L447.13,75.44L448.83,75.89L450.53,76.41L452.24,77.01L453.94,77.71L455.65,78.52L457.35,79.42L459.05,80.41L460.76,81.45L462.46,82.55L464.16,83.66L465.87,84.77L467.57,85.87L469.28,86.93L470.98,87.96L472.68,88.94L474.39,89.86L476.09,90.73L477.79,91.53L479.5,92.26L481.2,92.9L482.91,93.47L484.61,93.97L486.31,94.4L488.02,94.77L489.72,95.1L491.42,95.38L493.13,95.63L494.83,95.86L496.54,96.07L498.24,96.27L499.94,96.46L501.65,96.65L503.35,96.84L505.06,97.03L506.76,97.21L508.46,97.38L510.17,97.55L511.87,97.71L513.57,97.86L515.28,98.01L516.98,98.15L518.68,98.28L520.39,98.41L522.09,98.54L523.8,98.67L525.5,98.79" stroke="#8a8a8a" stroke-width="0.55"/>
<path d="M389.2,74.61L390.9,74.67L392.61,74.75L394.31,74.87L396.01,75.02L397.72,75.24L399.42,75.54L401.13,75.92L402.83,76.41L404.53,77.02L406.24,77.73L407.94,78.55L409.64,79.44L411.35,80.41L413.05,81.44L414.76,82.52L416.46,83.63L418.16,84.77L419.87,85.92L421.57,87.08L423.27,88.23L424.98,89.38L426.68,90.5L428.39,91.6L430.09,92.66L431.79,93.67L433.5,94.65L435.2,95.58L436.9,96.49L438.61,97.37L440.31,98.22L442.02,99.05L443.72,99.88L445.42,100.68L447.13,101.47L448.83,102.23L450.53,102.95L452.24,103.63L453.94,104.25L455.65,104.81L457.35,105.29L459.05,105.69L460.76,106.03L462.46,106.3L464.16,106.51L465.87,106.69L467.57,106.84L469.28,106.97L470.98,107.09L472.68,107.21L474.39,107.32L476.09,107.41L477.79,107.47L479.5,107.48L481.2,107.43L482.91,107.31L484.61,107.12L486.31,106.83L488.02,106.44L489.72,105.93L491.42,105.29L493.13,104.52L494.83,103.65L496.54,102.7L498.24,101.72L499.94,100.73L501.65,99.77L503.35,98.87L505.06,98.07L506.76,97.39L508.46,96.85L510.17,96.43L511.87,96.14L513.57,95.98L515.28,95.95L516.98,96.04L518.68,96.27L520.39,96.61L522.09,97.04L523.8,97.54L525.5,98.07" stroke="#8a8a8a" stroke-width="0.55"/>
<path d="M389.2,65.58L390.9,65.76L392.61,65.93L394.31,66.11L396.01,66.29L397.72,66.48L399.42,66.67L401.13,66.86L402.83,67.06L404.53,67.26L406.24,67.47L407.94,67.69L409.64,67.91L411.35,68.14L413.05,68.36L414.76,68.59L416.46,68.83L418.16,69.05L419.87,69.28L421.57,69.51L423.27,69.77L424.98,70.08L426.68,70.47L428.39,70.95L430.09,71.54L431.79,72.28L433.5,73.18L435.2,74.24L436.9,75.45L438.61,76.77L440.31,78.18L442.02,79.66L443.72,81.18L445.42,82.71L447.13,84.24L448.83,85.74L450.53,87.2L452.24,88.63L453.94,90.01L455.65,91.33L457.35,92.59L459.05,93.78L460.76,94.9L462.46,95.94L464.16,96.91L465.87,97.83L467.57,98.71L469.28,99.56L470.98,100.38L472.68,101.19L474.39,102.01L476.09,102.82L477.79,103.61L479.5,104.38L481.2,105.1L482.91,105.76L484.61,106.35L486.31,106.85L488.02,107.24L489.72,107.52L491.42,107.71L493.13,107.82L494.83,107.84L496.54,107.81L498.24,107.72L499.94,107.6L501.65,107.44L503.35,107.27L505.06,107.09L506.76,106.92L508.46,106.76L510.17,106.6L511.87,106.44L513.57,106.29L515.28,106.14L516.98,105.99L518.68,105.85L520.39,105.71L522.09,105.57L523.8,105.43L525.5,105.29" stroke="#8a8a8a" stroke-width="0.55"/>
<path d="M389.2,72.8L390.9,71.67L392.61,70.54L394.31,69.41L396.01,68.28L397.72,67.15L399.42,66.02L401.13,64.9L402.83,63.78L404.53,62.66L406.24,61.56L407.94,60.51L409.64,59.51L411.35,58.6L413.05,57.79L414.76,57.1L416.46,56.56L418.16,56.17L419.87,55.96L421.57,55.95L423.27,56.16L424.98,56.6L426.68,57.29L428.39,58.25L430.09,59.45L431.79,60.87L433.5,62.45L435.2,64.15L436.9,65.93L438.61,67.75L440.31,69.56L442.02,71.37L443.72,73.16L445.42,74.93L447.13,76.67L448.83,78.37L450.53,80.02L452.24,81.62L453.94,83.16L455.65,84.64L457.35,86.05L459.05,87.38L460.76,88.63L462.46,89.78L464.16,90.85L465.87,91.82L467.57,92.69L469.28,93.47L470.98,94.17L472.68,94.8L474.39,95.35L476.09,95.84L477.79,96.27L479.5,96.64L481.2,96.96L482.91,97.23L484.61,97.46L486.31,97.65L488.02,97.8L489.72,97.92L491.42,98L493.13,98.05L494.83,98.08L496.54,98.09L498.24,98.07L499.94,98.04L501.65,97.99L503.35,97.93L505.06,97.85L506.76,97.76L508.46,97.66L510.17,97.55L511.87,97.43L513.57,97.31L515.28,97.17L516.98,97.03L518.68,96.88L520.39,96.73L522.09,96.58L523.8,96.42L525.5,96.27" stroke="#8a8a8a" stroke-width="0.55"/>
<path d="M389.2,64.86L390.9,64.23L392.61,63.62L394.31,63.07L396.01,62.6L397.72,62.23L399.42,62L401.13,61.93L402.83,62.04L404.53,62.34L406.24,62.8L407.94,63.39L409.64,64.09L411.35,64.85L413.05,65.67L414.76,66.5L416.46,67.32L418.16,68.13L419.87,68.94L421.57,69.77L423.27,70.62L424.98,71.51L426.68,72.45L428.39,73.45L430.09,74.51L431.79,75.64L433.5,76.81L435.2,78.02L436.9,79.26L438.61,80.51L440.31,81.78L442.02,83.05L443.72,84.3L445.42,85.55L447.13,86.77L448.83,87.96L450.53,89.11L452.24,90.22L453.94,91.28L455.65,92.29L457.35,93.23L459.05,94.11L460.76,94.92L462.46,95.68L464.16,96.37L465.87,97.01L467.57,97.58L469.28,98.09L470.98,98.55L472.68,98.95L474.39,99.3L476.09,99.61L477.79,99.87L479.5,100.09L481.2,100.28L482.91,100.43L484.61,100.56L486.31,100.67L488.02,100.75L489.72,100.82L491.42,100.88L493.13,100.94L494.83,100.99L496.54,101.04L498.24,101.09L499.94,101.14L501.65,101.19L503.35,101.23L505.06,101.28L506.76,101.32L508.46,101.36L510.17,101.4L511.87,101.43L513.57,101.47L515.28,101.5L516.98,101.53L518.68,101.56L520.39,101.59L522.09,101.62L523.8,101.65L525.5,101.68" stroke="#2472d4" stroke-width="1.55"/>
</g>
<line x1="389.2" y1="18.65" x2="389.2" y2="109.45" stroke="#333" stroke-width="1.1"/>
<line x1="388.65" y1="108.9" x2="525.7" y2="108.9" stroke="#333" stroke-width="1.1"/>
<line x1="385.2" y1="108.9" x2="389.2" y2="108.9" stroke="#333" stroke-width="0.9"/>
<text x="384" y="111.46" font-size="7.1" font-weight="bold" text-anchor="end" fill="#111" stroke="#111" stroke-width="0.2" font-family='"Liberation Sans", sans-serif' transform="translate(0 108.9) scale(1 1.1) translate(0 -108.9)" >0.0</text>
<line x1="385.2" y1="90.85" x2="389.2" y2="90.85" stroke="#333" stroke-width="0.9"/>
<text x="384" y="93.41" font-size="7.1" font-weight="bold" text-anchor="end" fill="#111" stroke="#111" stroke-width="0.2" font-family='"Liberation Sans", sans-serif' transform="translate(0 90.85) scale(1 1.1) translate(0 -90.85)" >0.5</text>
<line x1="385.2" y1="72.8" x2="389.2" y2="72.8" stroke="#333" stroke-width="0.9"/>
<text x="384" y="75.36" font-size="7.1" font-weight="bold" text-anchor="end" fill="#111" stroke="#111" stroke-width="0.2" font-family='"Liberation Sans", sans-serif' transform="translate(0 72.8) scale(1 1.1) translate(0 -72.8)" >1.0</text>
<line x1="385.2" y1="54.75" x2="389.2" y2="54.75" stroke="#333" stroke-width="0.9"/>
<text x="384" y="57.31" font-size="7.1" font-weight="bold" text-anchor="end" fill="#111" stroke="#111" stroke-width="0.2" font-family='"Liberation Sans", sans-serif' transform="translate(0 54.75) scale(1 1.1) translate(0 -54.75)" >1.5</text>
<line x1="385.2" y1="36.7" x2="389.2" y2="36.7" stroke="#333" stroke-width="0.9"/>
<text x="384" y="39.26" font-size="7.1" font-weight="bold" text-anchor="end" fill="#111" stroke="#111" stroke-width="0.2" font-family='"Liberation Sans", sans-serif' transform="translate(0 36.7) scale(1 1.1) translate(0 -36.7)" >2.0</text>
<line x1="385.2" y1="18.65" x2="389.2" y2="18.65" stroke="#333" stroke-width="0.9"/>
<text x="384" y="21.21" font-size="7.1" font-weight="bold" text-anchor="end" fill="#111" stroke="#111" stroke-width="0.2" font-family='"Liberation Sans", sans-serif' transform="translate(0 18.65) scale(1 1.1) translate(0 -18.65)" >2.5</text>
<line x1="416.46" y1="108.9" x2="416.46" y2="112.9" stroke="#333" stroke-width="0.9"/>
<text x="416.46" y="122.1" font-size="6.4" font-weight="normal" text-anchor="middle" fill="#222" font-family='"Liberation Sans", sans-serif' transform="translate(0 119.8) scale(1 1.1) translate(0 -119.8)" >20%</text>
<line x1="443.72" y1="108.9" x2="443.72" y2="112.9" stroke="#333" stroke-width="0.9"/>
<text x="443.72" y="122.1" font-size="6.4" font-weight="normal" text-anchor="middle" fill="#222" font-family='"Liberation Sans", sans-serif' transform="translate(0 119.8) scale(1 1.1) translate(0 -119.8)" >40%</text>
<line x1="470.98" y1="108.9" x2="470.98" y2="112.9" stroke="#333" stroke-width="0.9"/>
<text x="470.98" y="122.1" font-size="6.4" font-weight="normal" text-anchor="middle" fill="#222" font-family='"Liberation Sans", sans-serif' transform="translate(0 119.8) scale(1 1.1) translate(0 -119.8)" >60%</text>
<line x1="498.24" y1="108.9" x2="498.24" y2="112.9" stroke="#333" stroke-width="0.9"/>
<text x="498.24" y="122.1" font-size="6.4" font-weight="normal" text-anchor="middle" fill="#222" font-family='"Liberation Sans", sans-serif' transform="translate(0 119.8) scale(1 1.1) translate(0 -119.8)" >80%</text>
<line x1="525.5" y1="108.9" x2="525.5" y2="112.9" stroke="#333" stroke-width="0.9"/>
<text x="525.5" y="122.1" font-size="6.4" font-weight="normal" text-anchor="middle" fill="#222" font-family='"Liberation Sans", sans-serif' transform="translate(0 119.8) scale(1 1.1) translate(0 -119.8)" >100%</text>
<text x="368.3" y="63.6" font-size="7.48" font-weight="bold" text-anchor="middle" fill="#111" stroke="#111" stroke-width="0.2" font-family='"Liberation Sans", sans-serif' transform="translate(368.3 63.6) scale(1.1 1) rotate(-90) translate(-368.3 -63.6)" dominant-baseline="central">Muscle Activation-S1</text>
<clipPath id="c3"><rect x="37" y="165.6" width="145.2" height="118.6"/></clipPath>
<g clip-path="url(#c3)" fill="none" stroke-linejoin="round">
<path d="M37,265.42L38.66,264.06L40.33,262.69L41.99,261.3L43.66,259.87L45.33,258.39L46.99,256.84L48.66,255.22L50.32,253.52L51.98,251.75L53.65,249.9L55.31,247.99L56.98,246.02L58.64,244L60.31,241.92L61.98,239.8L63.64,237.66L65.3,235.51L66.97,233.37L68.63,231.26L70.3,229.18L71.97,227.16L73.63,225.23L75.29,223.41L76.96,221.74L78.62,220.25L80.29,218.97L81.95,217.94L83.62,217.18L85.28,216.71L86.95,216.49L88.62,216.51L90.28,216.75L91.94,217.18L93.61,217.76L95.27,218.45L96.94,219.24L98.6,220.07L100.27,220.94L101.93,221.82L103.6,222.7L105.26,223.57L106.93,224.43L108.59,225.33L110.26,226.41L111.92,227.81L113.59,229.6L115.25,231.72L116.92,234.12L118.58,236.71L120.25,239.42L121.92,242.19L123.58,244.94L125.25,247.63L126.91,250.26L128.57,252.86L130.24,255.43L131.91,258.01L133.57,260.61L135.24,263.26L136.9,265.94L138.56,268.61L140.23,271.21L141.89,273.68L143.56,275.96L145.22,277.99L146.89,279.72L148.55,281.1L150.22,282.16L151.88,282.96L153.55,283.53L155.21,283.93L156.88,284.2L158.54,284.38L160.21,284.49L161.88,284.54L163.54,284.53L165.2,284.49L166.87,284.41L168.53,284.31L170.2,284.2" stroke="#8a8a8a" stroke-width="0.55"/>
<path d="M37,284.2L38.66,284.74L40.33,284.83L41.99,284.04L43.66,282.13L45.33,279.4L46.99,276.26L48.66,273.11L50.32,270.1L51.98,267.19L53.65,264.37L55.31,261.59L56.98,258.82L58.64,256.03L60.31,253.18L61.98,250.29L63.64,247.38L65.3,244.48L66.97,241.62L68.63,238.84L70.3,236.17L71.97,233.64L73.63,231.26L75.29,229.03L76.96,226.94L78.62,224.98L80.29,223.15L81.95,221.44L83.62,219.85L85.28,218.4L86.95,217.11L88.62,216.01L90.28,215.12L91.94,214.48L93.61,214.1L95.27,214.01L96.94,214.2L98.6,214.61L100.27,215.19L101.93,215.91L103.6,216.76L105.26,217.77L106.93,218.95L108.59,220.3L110.26,221.85L111.92,223.61L113.59,225.58L115.25,227.73L116.92,230.04L118.58,232.48L120.25,235.03L121.92,237.65L123.58,240.33L125.25,243.04L126.91,245.79L128.57,248.57L130.24,251.39L131.91,254.25L133.57,257.15L135.24,260.1L136.9,263.09L138.56,266.03L140.23,268.87L141.89,271.54L143.56,273.94L145.22,276.02L146.89,277.77L148.55,279.21L150.22,280.39L151.88,281.35L153.55,282.14L155.21,282.77L156.88,283.27L158.54,283.65L160.21,283.93L161.88,284.11L163.54,284.22L165.2,284.27L166.87,284.27L168.53,284.24L170.2,284.2" stroke="#8a8a8a" stroke-width="0.55"/>
<path d="M37,284.2L38.66,284.79L40.33,285.35L41.99,285.84L43.66,286.21L45.33,286.44L46.99,286.48L48.66,286.31L50.32,285.88L51.98,285.16L53.65,284.1L55.31,282.7L56.98,280.97L58.64,278.96L60.31,276.69L61.98,274.21L63.64,271.54L65.3,268.73L66.97,265.81L68.63,262.82L70.3,259.79L71.97,256.75L73.63,253.74L75.29,250.78L76.96,247.86L78.62,245.02L80.29,242.26L81.95,239.61L83.62,237.08L85.28,234.68L86.95,232.44L88.62,230.38L90.28,228.51L91.94,226.85L93.61,225.42L95.27,224.22L96.94,223.24L98.6,222.5L100.27,221.97L101.93,221.67L103.6,221.58L105.26,221.7L106.93,222.03L108.59,222.54L110.26,223.24L111.92,224.12L113.59,225.16L115.25,226.36L116.92,227.69L118.58,229.15L120.25,230.73L121.92,232.4L123.58,234.16L125.25,236L126.91,237.91L128.57,239.88L130.24,241.91L131.91,244L133.57,246.14L135.24,248.31L136.9,250.53L138.56,252.79L140.23,255.08L141.89,257.4L143.56,259.76L145.22,262.14L146.89,264.55L148.55,266.97L150.22,269.38L151.88,271.73L153.55,273.98L155.21,276.08L156.88,278.01L158.54,279.72L160.21,281.14L161.88,282.24L163.54,282.96L165.2,283.27L166.87,283.19L168.53,282.87L170.2,282.43" stroke="#8a8a8a" stroke-width="0.55"/>
<path d="M37,284.2L38.66,285.17L40.33,286.12L41.99,287.03L43.66,287.88L45.33,288.65L46.99,289.32L48.66,289.86L50.32,290.26L51.98,290.5L53.65,290.56L55.31,290.41L56.98,290.04L58.64,289.43L60.31,288.55L61.98,287.38L63.64,285.92L65.3,284.12L66.97,282L68.63,279.59L70.3,276.96L71.97,274.17L73.63,271.27L75.29,268.34L76.96,265.42L78.62,262.56L80.29,259.78L81.95,257.05L83.62,254.37L85.28,251.73L86.95,249.12L88.62,246.53L90.28,243.96L91.94,241.44L93.61,239.04L95.27,236.78L96.94,234.72L98.6,232.91L100.27,231.39L101.93,230.2L103.6,229.25L105.26,228.47L106.93,227.77L108.59,227.08L110.26,226.45L111.92,226.08L113.59,226.15L115.25,226.83L116.92,228.25L118.58,230.29L120.25,232.81L121.92,235.63L123.58,238.61L125.25,241.61L126.91,244.63L128.57,247.66L130.24,250.69L131.91,253.71L133.57,256.74L135.24,259.75L136.9,262.75L138.56,265.68L140.23,268.5L141.89,271.18L143.56,273.66L145.22,275.9L146.89,277.86L148.55,279.52L150.22,280.89L151.88,282L153.55,282.86L155.21,283.49L156.88,283.9L158.54,284.13L160.21,284.19L161.88,284.11L163.54,283.92L165.2,283.63L166.87,283.27L168.53,282.86L170.2,282.43" stroke="#8a8a8a" stroke-width="0.55"/>
<path d="M37,281.72L38.66,281.2L40.33,280.67L41.99,280.13L43.66,279.58L45.33,279L46.99,278.39L48.66,277.76L50.32,277.08L51.98,276.36L53.65,275.6L55.31,274.77L56.98,273.89L58.64,272.94L60.31,271.93L61.98,270.84L63.64,269.7L65.3,268.51L66.97,267.29L68.63,266.05L70.3,264.8L71.97,263.54L73.63,262.3L75.29,261.08L76.96,259.89L78.62,258.74L80.29,257.65L81.95,256.63L83.62,255.68L85.28,254.82L86.95,254.03L88.62,253.32L90.28,252.69L91.94,252.13L93.61,251.65L95.27,251.24L96.94,250.89L98.6,250.62L100.27,250.41L101.93,250.27L103.6,250.19L105.26,250.17L106.93,250.21L108.59,250.33L110.26,250.56L111.92,250.93L113.59,251.48L115.25,252.24L116.92,253.25L118.58,254.52L120.25,256.05L121.92,257.79L123.58,259.68L125.25,261.67L126.91,263.71L128.57,265.76L130.24,267.75L131.91,269.66L133.57,271.48L135.24,273.2L136.9,274.81L138.56,276.31L140.23,277.67L141.89,278.89L143.56,279.97L145.22,280.9L146.89,281.69L148.55,282.34L150.22,282.84L151.88,283.2L153.55,283.41L155.21,283.5L156.88,283.48L158.54,283.35L160.21,283.13L161.88,282.84L163.54,282.48L165.2,282.07L166.87,281.62L168.53,281.14L170.2,280.66" stroke="#8a8a8a" stroke-width="0.55"/>
<path d="M37,271.44L38.66,270.79L40.33,270.14L41.99,269.5L43.66,268.86L45.33,268.24L46.99,267.62L48.66,267.03L50.32,266.46L51.98,265.9L53.65,265.38L55.31,264.87L56.98,264.38L58.64,263.88L60.31,263.36L61.98,262.79L63.64,262.18L65.3,261.49L66.97,260.72L68.63,259.85L70.3,258.85L71.97,257.72L73.63,256.47L75.29,255.12L76.96,253.7L78.62,252.25L80.29,250.79L81.95,249.35L83.62,247.98L85.28,246.68L86.95,245.5L88.62,244.47L90.28,243.61L91.94,242.95L93.61,242.5L95.27,242.28L96.94,242.31L98.6,242.61L100.27,243.2L101.93,244.09L103.6,245.25L105.26,246.65L106.93,248.27L108.59,250.08L110.26,252.05L111.92,254.15L113.59,256.36L115.25,258.64L116.92,260.98L118.58,263.35L120.25,265.73L121.92,268.08L123.58,270.39L125.25,272.62L126.91,274.74L128.57,276.69L130.24,278.45L131.91,279.97L133.57,281.21L135.24,282.17L136.9,282.89L138.56,283.41L140.23,283.77L141.89,284.02L143.56,284.2L145.22,284.34L146.89,284.46L148.55,284.54L150.22,284.61L151.88,284.65L153.55,284.68L155.21,284.68L156.88,284.67L158.54,284.64L160.21,284.6L161.88,284.55L163.54,284.49L165.2,284.43L166.87,284.35L168.53,284.28L170.2,284.2" stroke="#8a8a8a" stroke-width="0.55"/>
<path d="M37,277.11L38.66,276.84L40.33,276.55L41.99,276.22L43.66,275.85L45.33,275.42L46.99,274.9L48.66,274.29L50.32,273.57L51.98,272.72L53.65,271.77L55.31,270.72L56.98,269.59L58.64,268.41L60.31,267.19L61.98,265.95L63.64,264.71L65.3,263.47L66.97,262.24L68.63,260.99L70.3,259.72L71.97,258.4L73.63,257.03L75.29,255.6L76.96,254.08L78.62,252.47L80.29,250.85L81.95,249.26L83.62,247.8L85.28,246.52L86.95,245.49L88.62,244.8L90.28,244.5L91.94,244.66L93.61,245.27L95.27,246.24L96.94,247.48L98.6,248.9L100.27,250.42L101.93,252L103.6,253.64L105.26,255.39L106.93,257.28L108.59,259.29L110.26,261.33L111.92,263.33L113.59,265.22L115.25,267.03L116.92,268.78L118.58,270.49L120.25,272.18L121.92,273.88L123.58,275.62L125.25,277.39L126.91,279.16L128.57,280.85L130.24,282.43L131.91,283.83L133.57,285.07L135.24,286.15L136.9,287.06L138.56,287.84L140.23,288.47L141.89,288.96L143.56,289.33L145.22,289.59L146.89,289.73L148.55,289.77L150.22,289.71L151.88,289.56L153.55,289.33L155.21,289.03L156.88,288.66L158.54,288.23L160.21,287.75L161.88,287.23L163.54,286.67L165.2,286.08L166.87,285.46L168.53,284.84L170.2,284.2" stroke="#8a8a8a" stroke-width="0.55"/>
<path d="M37,274.99L38.66,273.72L40.33,272.45L41.99,271.18L43.66,269.92L45.33,268.66L46.99,267.41L48.66,266.16L50.32,264.92L51.98,263.69L53.65,262.46L55.31,261.25L56.98,260.04L58.64,258.85L60.31,257.67L61.98,256.5L63.64,255.35L65.3,254.21L66.97,253.08L68.63,251.97L70.3,250.88L71.97,249.79L73.63,248.73L75.29,247.67L76.96,246.63L78.62,245.61L80.29,244.63L81.95,243.7L83.62,242.85L85.28,242.09L86.95,241.45L88.62,240.95L90.28,240.59L91.94,240.39L93.61,240.35L95.27,240.45L96.94,240.69L98.6,241.08L100.27,241.62L101.93,242.29L103.6,243.1L105.26,244.05L106.93,245.13L108.59,246.33L110.26,247.64L111.92,249.05L113.59,250.55L115.25,252.11L116.92,253.72L118.58,255.38L120.25,257.07L121.92,258.81L123.58,260.58L125.25,262.38L126.91,264.23L128.57,266.1L130.24,268.01L131.91,269.92L133.57,271.8L135.24,273.62L136.9,275.34L138.56,276.94L140.23,278.37L141.89,279.6L143.56,280.63L145.22,281.48L146.89,282.17L148.55,282.72L150.22,283.14L151.88,283.45L153.55,283.67L155.21,283.79L156.88,283.84L158.54,283.82L160.21,283.73L161.88,283.6L163.54,283.42L165.2,283.2L166.87,282.96L168.53,282.7L170.2,282.43" stroke="#8a8a8a" stroke-width="0.55"/>
<path d="M37,260.81L38.66,262.01L40.33,263.16L41.99,264.22L43.66,265.14L45.33,265.86L46.99,266.36L48.66,266.57L50.32,266.51L51.98,266.18L53.65,265.63L55.31,264.88L56.98,263.96L58.64,262.91L60.31,261.77L61.98,260.58L63.64,259.39L65.3,258.23L66.97,257.1L68.63,255.99L70.3,254.9L71.97,253.82L73.63,252.73L75.29,251.64L76.96,250.53L78.62,249.4L80.29,248.26L81.95,247.11L83.62,245.97L85.28,244.85L86.95,243.75L88.62,242.69L90.28,241.67L91.94,240.71L93.61,239.85L95.27,239.12L96.94,238.57L98.6,238.22L100.27,238.13L101.93,238.32L103.6,238.8L105.26,239.57L106.93,240.64L108.59,242L110.26,243.67L111.92,245.63L113.59,247.89L115.25,250.36L116.92,252.96L118.58,255.64L120.25,258.31L121.92,260.89L123.58,263.31L125.25,265.52L126.91,267.54L128.57,269.38L130.24,271.08L131.91,272.65L133.57,274.12L135.24,275.5L136.9,276.83L138.56,278.07L140.23,279.23L141.89,280.29L143.56,281.22L145.22,282.02L146.89,282.67L148.55,283.17L150.22,283.52L151.88,283.75L153.55,283.85L155.21,283.84L156.88,283.74L158.54,283.54L160.21,283.27L161.88,282.94L163.54,282.55L165.2,282.11L166.87,281.65L168.53,281.16L170.2,280.66" stroke="#8a8a8a" stroke-width="0.55"/>
<path d="M37,280.66L38.66,279.76L40.33,278.85L41.99,277.89L43.66,276.88L45.33,275.78L46.99,274.58L48.66,273.26L50.32,271.8L51.98,270.18L53.65,268.41L55.31,266.52L56.98,264.53L58.64,262.44L60.31,260.29L61.98,258.09L63.64,255.85L65.3,253.59L66.97,251.34L68.63,249.08L70.3,246.83L71.97,244.61L73.63,242.41L75.29,240.25L76.96,238.13L78.62,236.06L80.29,234.06L81.95,232.13L83.62,230.27L85.28,228.51L86.95,226.84L88.62,225.31L90.28,224L91.94,222.97L93.61,222.32L95.27,222.11L96.94,222.32L98.6,222.85L100.27,223.61L101.93,224.49L103.6,225.48L105.26,226.61L106.93,227.91L108.59,229.43L110.26,231.2L111.92,233.25L113.59,235.59L115.25,238.18L116.92,240.96L118.58,243.87L120.25,246.84L121.92,249.83L123.58,252.77L125.25,255.62L126.91,258.36L128.57,261L130.24,263.51L131.91,265.9L133.57,268.16L135.24,270.27L136.9,272.24L138.56,274.05L140.23,275.71L141.89,277.21L143.56,278.55L145.22,279.73L146.89,280.73L148.55,281.57L150.22,282.24L151.88,282.77L153.55,283.17L155.21,283.44L156.88,283.61L158.54,283.67L160.21,283.66L161.88,283.56L163.54,283.41L165.2,283.21L166.87,282.97L168.53,282.7L170.2,282.43" stroke="#8a8a8a" stroke-width="0.55"/>
<path d="M37,277.82L38.66,277.28L40.33,276.72L41.99,276.13L43.66,275.48L45.33,274.75L46.99,273.93L48.66,272.99L50.32,271.94L51.98,270.77L53.65,269.5L55.31,268.12L56.98,266.64L58.64,265.07L60.31,263.41L61.98,261.68L63.64,259.88L65.3,258.04L66.97,256.18L68.63,254.32L70.3,252.47L71.97,250.66L73.63,248.88L75.29,247.14L76.96,245.45L78.62,243.79L80.29,242.17L81.95,240.58L83.62,239.04L85.28,237.56L86.95,236.18L88.62,234.95L90.28,233.91L91.94,233.11L93.61,232.58L95.27,232.37L96.94,232.46L98.6,232.78L100.27,233.25L101.93,233.83L103.6,234.52L105.26,235.35L106.93,236.31L108.59,237.43L110.26,238.73L111.92,240.21L113.59,241.88L115.25,243.71L116.92,245.66L118.58,247.71L120.25,249.81L121.92,251.94L123.58,254.06L125.25,256.15L126.91,258.21L128.57,260.24L130.24,262.24L131.91,264.22L133.57,266.18L135.24,268.13L136.9,270.06L138.56,271.94L140.23,273.75L141.89,275.46L143.56,277.04L145.22,278.45L146.89,279.68L148.55,280.71L150.22,281.54L151.88,282.2L153.55,282.7L155.21,283.07L156.88,283.33L158.54,283.5L160.21,283.58L161.88,283.61L163.54,283.58L165.2,283.5L166.87,283.4L168.53,283.27L170.2,283.14" stroke="#e0505e" stroke-width="1.55"/>
</g>
<line x1="37" y1="195.6" x2="37" y2="284.75" stroke="#333" stroke-width="1.1"/>
<line x1="36.45" y1="284.2" x2="170.4" y2="284.2" stroke="#333" stroke-width="1.1"/>
<line x1="33" y1="284.2" x2="37" y2="284.2" stroke="#333" stroke-width="0.9"/>
<text x="31.8" y="286.72" font-size="7" font-weight="bold" text-anchor="end" fill="#111" stroke="#111" stroke-width="0.2" font-family='"Liberation Sans", sans-serif' transform="translate(0 284.2) scale(1 1.1) translate(0 -284.2)" >0.0</text>
<line x1="33" y1="266.48" x2="37" y2="266.48" stroke="#333" stroke-width="0.9"/>
<text x="31.8" y="269" font-size="7" font-weight="bold" text-anchor="end" fill="#111" stroke="#111" stroke-width="0.2" font-family='"Liberation Sans", sans-serif' transform="translate(0 266.48) scale(1 1.1) translate(0 -266.48)" >0.5</text>
<line x1="33" y1="248.76" x2="37" y2="248.76" stroke="#333" stroke-width="0.9"/>
<text x="31.8" y="251.28" font-size="7" font-weight="bold" text-anchor="end" fill="#111" stroke="#111" stroke-width="0.2" font-family='"Liberation Sans", sans-serif' transform="translate(0 248.76) scale(1 1.1) translate(0 -248.76)" >1.0</text>
<line x1="33" y1="231.04" x2="37" y2="231.04" stroke="#333" stroke-width="0.9"/>
<text x="31.8" y="233.56" font-size="7" font-weight="bold" text-anchor="end" fill="#111" stroke="#111" stroke-width="0.2" font-family='"Liberation Sans", sans-serif' transform="translate(0 231.04) scale(1 1.1) translate(0 -231.04)" >1.5</text>
<line x1="33" y1="213.32" x2="37" y2="213.32" stroke="#333" stroke-width="0.9"/>
<text x="31.8" y="215.84" font-size="7" font-weight="bold" text-anchor="end" fill="#111" stroke="#111" stroke-width="0.2" font-family='"Liberation Sans", sans-serif' transform="translate(0 213.32) scale(1 1.1) translate(0 -213.32)" >2.0</text>
<line x1="33" y1="195.6" x2="37" y2="195.6" stroke="#333" stroke-width="0.9"/>
<text x="31.8" y="198.12" font-size="7" font-weight="bold" text-anchor="end" fill="#111" stroke="#111" stroke-width="0.2" font-family='"Liberation Sans", sans-serif' transform="translate(0 195.6) scale(1 1.1) translate(0 -195.6)" >2.5</text>
<line x1="63.64" y1="284.2" x2="63.64" y2="288.2" stroke="#333" stroke-width="0.9"/>
<text x="63.64" y="297.07" font-size="6.3" font-weight="normal" text-anchor="middle" fill="#222" font-family='"Liberation Sans", sans-serif' transform="translate(0 294.8) scale(1 1.1) translate(0 -294.8)" >20%</text>
<line x1="90.28" y1="284.2" x2="90.28" y2="288.2" stroke="#333" stroke-width="0.9"/>
<text x="90.28" y="297.07" font-size="6.3" font-weight="normal" text-anchor="middle" fill="#222" font-family='"Liberation Sans", sans-serif' transform="translate(0 294.8) scale(1 1.1) translate(0 -294.8)" >40%</text>
<line x1="116.92" y1="284.2" x2="116.92" y2="288.2" stroke="#333" stroke-width="0.9"/>
<text x="116.92" y="297.07" font-size="6.3" font-weight="normal" text-anchor="middle" fill="#222" font-family='"Liberation Sans", sans-serif' transform="translate(0 294.8) scale(1 1.1) translate(0 -294.8)" >60%</text>
<line x1="143.56" y1="284.2" x2="143.56" y2="288.2" stroke="#333" stroke-width="0.9"/>
<text x="143.56" y="297.07" font-size="6.3" font-weight="normal" text-anchor="middle" fill="#222" font-family='"Liberation Sans", sans-serif' transform="translate(0 294.8) scale(1 1.1) translate(0 -294.8)" >80%</text>
<line x1="170.2" y1="284.2" x2="170.2" y2="288.2" stroke="#333" stroke-width="0.9"/>
<text x="170.2" y="297.07" font-size="6.3" font-weight="normal" text-anchor="middle" fill="#222" font-family='"Liberation Sans", sans-serif' transform="translate(0 294.8) scale(1 1.1) translate(0 -294.8)" >100%</text>
<text x="16" y="240" font-size="7.24" font-weight="bold" text-anchor="middle" fill="#111" stroke="#111" stroke-width="0.2" font-family='"Liberation Sans", sans-serif' transform="translate(16 240) scale(1.1 1) rotate(-90) translate(-16 -240)" dominant-baseline="central">Muscle Activation-S2</text>
<clipPath id="c4"><rect x="382" y="187.2" width="146.8" height="121.1"/></clipPath>
<g clip-path="url(#c4)" fill="none" stroke-linejoin="round">
<path d="M382,271.86L383.69,270.22L385.37,268.59L387.06,266.96L388.74,265.33L390.43,263.7L392.11,262.08L393.8,260.46L395.48,258.85L397.17,257.25L398.85,255.66L400.53,254.09L402.22,252.55L403.9,251.04L405.59,249.57L407.27,248.15L408.96,246.78L410.64,245.47L412.33,244.22L414.01,243.04L415.7,241.95L417.38,240.93L419.07,240.01L420.75,239.19L422.44,238.47L424.12,237.86L425.81,237.36L427.5,236.98L429.18,236.72L430.87,236.56L432.55,236.51L434.24,236.58L435.92,236.78L437.6,237.13L439.29,237.65L440.97,238.37L442.66,239.29L444.34,240.41L446.03,241.71L447.71,243.15L449.4,244.73L451.08,246.42L452.77,248.21L454.45,250.09L456.14,252.08L457.82,254.17L459.51,256.37L461.19,258.69L462.88,261.1L464.56,263.61L466.25,266.19L467.93,268.83L469.62,271.52L471.3,274.23L472.99,276.94L474.67,279.64L476.36,282.29L478.04,284.86L479.73,287.32L481.41,289.64L483.1,291.79L484.78,293.78L486.47,295.61L488.15,297.29L489.84,298.82L491.52,300.23L493.21,301.51L494.89,302.67L496.58,303.7L498.26,304.61L499.95,305.37L501.63,306L503.32,306.48L505,306.81L506.69,307.01L508.37,307.09L510.06,307.08L511.75,307L513.43,306.86L515.12,306.68L516.8,306.48" stroke="#8a8a8a" stroke-width="0.55"/>
<path d="M382,308.3L383.69,309.11L385.37,309.85L387.06,310.48L388.74,310.94L390.43,311.17L392.11,311.1L393.8,310.69L395.48,309.87L397.17,308.59L398.85,306.78L400.53,304.47L402.22,301.75L403.9,298.72L405.59,295.49L407.27,292.15L408.96,288.79L410.64,285.41L412.33,282.01L414.01,278.61L415.7,275.21L417.38,271.83L419.07,268.48L420.75,265.19L422.44,261.98L424.12,258.88L425.81,255.93L427.5,253.14L429.18,250.54L430.87,248.13L432.55,245.87L434.24,243.72L435.92,241.65L437.6,239.63L439.29,237.62L440.97,235.69L442.66,233.92L444.34,232.42L446.03,231.27L447.71,230.59L449.4,230.41L451.08,230.69L452.77,231.39L454.45,232.43L456.14,233.77L457.82,235.35L459.51,237.11L461.19,238.99L462.88,240.95L464.56,243.02L466.25,245.23L467.93,247.63L469.62,250.27L471.3,253.18L472.99,256.41L474.67,260L476.36,263.99L478.04,268.33L479.73,272.88L481.41,277.5L483.1,282.04L484.78,286.4L486.47,290.51L488.15,294.31L489.84,297.73L491.52,300.74L493.21,303.33L494.89,305.52L496.58,307.32L498.26,308.74L499.95,309.81L501.63,310.57L503.32,311.03L505,311.25L506.69,311.24L508.37,311.04L510.06,310.68L511.75,310.2L513.43,309.62L515.12,308.98L516.8,308.3" stroke="#8a8a8a" stroke-width="0.55"/>
<path d="M382,307.57L383.69,306.47L385.37,305.36L387.06,304.22L388.74,303.03L390.43,301.77L392.11,300.44L393.8,299.01L395.48,297.48L397.17,295.82L398.85,294.05L400.53,292.17L402.22,290.19L403.9,288.11L405.59,285.95L407.27,283.69L408.96,281.37L410.64,278.97L412.33,276.52L414.01,274.04L415.7,271.57L417.38,269.13L419.07,266.74L420.75,264.43L422.44,262.23L424.12,260.16L425.81,258.24L427.5,256.46L429.18,254.81L430.87,253.28L432.55,251.85L434.24,250.52L435.92,249.27L437.6,248.1L439.29,247.07L440.97,246.27L442.66,245.76L444.34,245.62L446.03,245.87L447.71,246.47L449.4,247.36L451.08,248.49L452.77,249.82L454.45,251.3L456.14,252.93L457.82,254.72L459.51,256.65L461.19,258.72L462.88,260.93L464.56,263.27L466.25,265.72L467.93,268.26L469.62,270.88L471.3,273.55L472.99,276.24L474.67,278.95L476.36,281.65L478.04,284.31L479.73,286.91L481.41,289.44L483.1,291.87L484.78,294.17L486.47,296.34L488.15,298.34L489.84,300.17L491.52,301.81L493.21,303.24L494.89,304.44L496.58,305.41L498.26,306.15L499.95,306.68L501.63,307.02L503.32,307.19L505,307.21L506.69,307.09L508.37,306.86L510.06,306.53L511.75,306.13L513.43,305.67L515.12,305.17L516.8,304.66" stroke="#8a8a8a" stroke-width="0.55"/>
<path d="M382,308.3L383.69,308.71L385.37,309.08L387.06,309.37L388.74,309.53L390.43,309.54L392.11,309.34L393.8,308.89L395.48,308.16L397.17,307.13L398.85,305.81L400.53,304.26L402.22,302.5L403.9,300.56L405.59,298.49L407.27,296.32L408.96,294.08L410.64,291.81L412.33,289.53L414.01,287.22L415.7,284.88L417.38,282.53L419.07,280.14L420.75,277.73L422.44,275.29L424.12,272.82L425.81,270.33L427.5,267.85L429.18,265.41L430.87,263.06L432.55,260.82L434.24,258.73L435.92,256.83L437.6,255.16L439.29,253.74L440.97,252.55L442.66,251.57L444.34,250.74L446.03,250.02L447.71,249.38L449.4,248.77L451.08,248.15L452.77,247.52L454.45,247.06L456.14,246.95L457.82,247.39L459.51,248.42L461.19,249.94L462.88,251.83L464.56,253.99L466.25,256.3L467.93,258.64L469.62,260.93L471.3,263.14L472.99,265.3L474.67,267.42L476.36,269.55L478.04,271.69L479.73,273.87L481.41,276.12L483.1,278.45L484.78,280.87L486.47,283.35L488.15,285.84L489.84,288.33L491.52,290.76L493.21,293.11L494.89,295.34L496.58,297.42L498.26,299.3L499.95,300.98L501.63,302.45L503.32,303.68L505,304.68L506.69,305.42L508.37,305.91L510.06,306.12L511.75,306.06L513.43,305.73L515.12,305.24L516.8,304.66" stroke="#8a8a8a" stroke-width="0.55"/>
<path d="M382,308.3L383.69,309.01L385.37,309.71L387.06,310.39L388.74,311.05L390.43,311.66L392.11,312.22L393.8,312.71L395.48,313.14L397.17,313.49L398.85,313.75L400.53,313.9L402.22,313.94L403.9,313.87L405.59,313.66L407.27,313.3L408.96,312.8L410.64,312.14L412.33,311.3L414.01,310.28L415.7,309.07L417.38,307.65L419.07,306.04L420.75,304.24L422.44,302.28L424.12,300.16L425.81,297.91L427.5,295.55L429.18,293.09L430.87,290.55L432.55,287.94L434.24,285.25L435.92,282.47L437.6,279.59L439.29,276.59L440.97,273.47L442.66,270.2L444.34,266.78L446.03,263.2L447.71,259.6L449.4,256.28L451.08,253.55L452.77,251.63L454.45,250.49L456.14,249.99L457.82,250.04L459.51,250.55L461.19,251.46L462.88,252.74L464.56,254.35L466.25,256.26L467.93,258.43L469.62,260.82L471.3,263.39L472.99,266.12L474.67,268.95L476.36,271.86L478.04,274.8L479.73,277.76L481.41,280.69L483.1,283.56L484.78,286.36L486.47,289.04L488.15,291.59L489.84,293.98L491.52,296.19L493.21,298.22L494.89,300.06L496.58,301.69L498.26,303.1L499.95,304.29L501.63,305.27L503.32,306.07L505,306.71L506.69,307.2L508.37,307.57L510.06,307.84L511.75,308.03L513.43,308.15L515.12,308.24L516.8,308.3" stroke="#8a8a8a" stroke-width="0.55"/>
<path d="M382,279.15L383.69,279.78L385.37,280.38L387.06,280.94L388.74,281.41L390.43,281.79L392.11,282.03L393.8,282.12L395.48,282.04L397.17,281.76L398.85,281.3L400.53,280.71L402.22,280L403.9,279.2L405.59,278.33L407.27,277.43L408.96,276.52L410.64,275.63L412.33,274.77L414.01,273.97L415.7,273.23L417.38,272.58L419.07,272.02L420.75,271.58L422.44,271.27L424.12,271.11L425.81,271.1L427.5,271.24L429.18,271.51L430.87,271.9L432.55,272.41L434.24,273.03L435.92,273.74L437.6,274.54L439.29,275.41L440.97,276.34L442.66,277.3L444.34,278.29L446.03,279.29L447.71,280.26L449.4,281.21L451.08,282.1L452.77,282.92L454.45,283.66L456.14,284.3L457.82,284.84L459.51,285.27L461.19,285.56L462.88,285.71L464.56,285.71L466.25,285.57L467.93,285.31L469.62,284.95L471.3,284.5L472.99,283.98L474.67,283.41L476.36,282.79L478.04,282.15L479.73,281.5L481.41,280.83L483.1,280.14L484.78,279.45L486.47,278.74L488.15,278.03L489.84,277.33L491.52,276.62L493.21,275.91L494.89,275.21L496.58,274.52L498.26,273.84L499.95,273.16L501.63,272.5L503.32,271.86L505,271.23L506.69,270.62L508.37,270.02L510.06,269.42L511.75,268.84L513.43,268.27L515.12,267.69L516.8,267.12" stroke="#8a8a8a" stroke-width="0.55"/>
<path d="M382,286.44L383.69,285.74L385.37,285.05L387.06,284.35L388.74,283.65L390.43,282.95L392.11,282.23L393.8,281.51L395.48,280.77L397.17,280.02L398.85,279.26L400.53,278.48L402.22,277.69L403.9,276.88L405.59,276.07L407.27,275.26L408.96,274.48L410.64,273.73L412.33,273.03L414.01,272.4L415.7,271.85L417.38,271.39L419.07,271.03L420.75,270.8L422.44,270.69L424.12,270.72L425.81,270.86L427.5,271.1L429.18,271.43L430.87,271.84L432.55,272.32L434.24,272.86L435.92,273.44L437.6,274.06L439.29,274.71L440.97,275.37L442.66,276.04L444.34,276.7L446.03,277.34L447.71,277.96L449.4,278.55L451.08,279.11L452.77,279.64L454.45,280.15L456.14,280.65L457.82,281.12L459.51,281.59L461.19,282.05L462.88,282.49L464.56,282.93L466.25,283.34L467.93,283.73L469.62,284.09L471.3,284.4L472.99,284.67L474.67,284.89L476.36,285.05L478.04,285.14L479.73,285.19L481.41,285.2L483.1,285.18L484.78,285.14L486.47,285.08L488.15,285.03L489.84,284.98L491.52,284.94L493.21,284.92L494.89,284.92L496.58,284.93L498.26,284.95L499.95,284.98L501.63,285.03L503.32,285.08L505,285.14L506.69,285.21L508.37,285.28L510.06,285.36L511.75,285.44L513.43,285.53L515.12,285.62L516.8,285.71" stroke="#8a8a8a" stroke-width="0.55"/>
<path d="M382,304.66L383.69,304.43L385.37,304.21L387.06,303.98L388.74,303.74L390.43,303.49L392.11,303.23L393.8,302.96L395.48,302.66L397.17,302.35L398.85,302.01L400.53,301.65L402.22,301.26L403.9,300.84L405.59,300.38L407.27,299.9L408.96,299.37L410.64,298.8L412.33,298.19L414.01,297.55L415.7,296.89L417.38,296.2L419.07,295.49L420.75,294.77L422.44,294.04L424.12,293.31L425.81,292.59L427.5,291.87L429.18,291.16L430.87,290.47L432.55,289.81L434.24,289.19L435.92,288.63L437.6,288.15L439.29,287.78L440.97,287.52L442.66,287.4L444.34,287.4L446.03,287.51L447.71,287.7L449.4,287.96L451.08,288.27L452.77,288.62L454.45,288.99L456.14,289.37L457.82,289.75L459.51,290.1L461.19,290.43L462.88,290.72L464.56,290.96L466.25,291.17L467.93,291.35L469.62,291.51L471.3,291.64L472.99,291.75L474.67,291.85L476.36,291.95L478.04,292.04L479.73,292.14L481.41,292.25L483.1,292.39L484.78,292.56L486.47,292.77L488.15,293.04L489.84,293.36L491.52,293.75L493.21,294.19L494.89,294.68L496.58,295.2L498.26,295.74L499.95,296.29L501.63,296.83L503.32,297.37L505,297.88L506.69,298.37L508.37,298.84L510.06,299.29L511.75,299.73L513.43,300.16L515.12,300.59L516.8,301.01" stroke="#8a8a8a" stroke-width="0.55"/>
<path d="M382,290.44L383.69,290.31L385.37,290.17L387.06,290L388.74,289.78L390.43,289.52L392.11,289.18L393.8,288.77L395.48,288.26L397.17,287.64L398.85,286.93L400.53,286.12L402.22,285.23L403.9,284.26L405.59,283.22L407.27,282.12L408.96,280.97L410.64,279.78L412.33,278.57L414.01,277.37L415.7,276.22L417.38,275.13L419.07,274.15L420.75,273.29L422.44,272.59L424.12,272.06L425.81,271.7L427.5,271.49L429.18,271.4L430.87,271.41L432.55,271.5L434.24,271.66L435.92,271.86L437.6,272.08L439.29,272.34L440.97,272.62L442.66,272.95L444.34,273.32L446.03,273.75L447.71,274.23L449.4,274.78L451.08,275.38L452.77,276L454.45,276.57L456.14,277.03L457.82,277.32L459.51,277.38L461.19,277.16L462.88,276.69L464.56,276.08L466.25,275.44L467.93,274.87L469.62,274.47L471.3,274.27L472.99,274.25L474.67,274.4L476.36,274.7L478.04,275.16L479.73,275.76L481.41,276.47L483.1,277.25L484.78,278.05L486.47,278.85L488.15,279.6L489.84,280.24L491.52,280.75L493.21,281.08L494.89,281.21L496.58,281.18L498.26,281L499.95,280.72L501.63,280.34L503.32,279.9L505,279.43L506.69,278.96L508.37,278.49L510.06,278.03L511.75,277.57L513.43,277.13L515.12,276.68L516.8,276.23" stroke="#8a8a8a" stroke-width="0.55"/>
<path d="M382,301.01L383.69,300.45L385.37,299.87L387.06,299.28L388.74,298.64L390.43,297.97L392.11,297.23L393.8,296.43L395.48,295.55L397.17,294.57L398.85,293.5L400.53,292.32L402.22,291.03L403.9,289.62L405.59,288.09L407.27,286.42L408.96,284.61L410.64,282.67L412.33,280.61L414.01,278.47L415.7,276.3L417.38,274.12L419.07,271.97L420.75,269.89L422.44,267.89L424.12,265.95L425.81,264.08L427.5,262.26L429.18,260.49L430.87,258.76L432.55,257.08L434.24,255.46L435.92,253.93L437.6,252.53L439.29,251.27L440.97,250.19L442.66,249.31L444.34,248.65L446.03,248.23L447.71,248.06L449.4,248.17L451.08,248.57L452.77,249.25L454.45,250.21L456.14,251.44L457.82,252.93L459.51,254.69L461.19,256.7L462.88,258.93L464.56,261.37L466.25,263.97L467.93,266.7L469.62,269.54L471.3,272.44L472.99,275.39L474.67,278.33L476.36,281.25L478.04,284.12L479.73,286.9L481.41,289.56L483.1,292.08L484.78,294.44L486.47,296.62L488.15,298.61L489.84,300.41L491.52,301.99L493.21,303.35L494.89,304.49L496.58,305.41L498.26,306.15L499.95,306.71L501.63,307.12L503.32,307.39L505,307.53L506.69,307.58L508.37,307.53L510.06,307.41L511.75,307.23L513.43,307L515.12,306.75L516.8,306.48" stroke="#8a8a8a" stroke-width="0.55"/>
<path d="M382,297.37L383.69,297.53L385.37,297.68L387.06,297.8L388.74,297.87L390.43,297.87L392.11,297.8L393.8,297.64L395.48,297.37L397.17,296.97L398.85,296.44L400.53,295.78L402.22,294.96L403.9,293.99L405.59,292.86L407.27,291.56L408.96,290.08L410.64,288.42L412.33,286.6L414.01,284.64L415.7,282.58L417.38,280.42L419.07,278.2L420.75,275.95L422.44,273.68L424.12,271.42L425.81,269.19L427.5,267.01L429.18,264.88L430.87,262.83L432.55,260.87L434.24,259.01L435.92,257.28L437.6,255.7L439.29,254.31L440.97,253.15L442.66,252.28L444.34,251.74L446.03,251.56L447.71,251.74L449.4,252.23L451.08,253.03L452.77,254.1L454.45,255.43L456.14,256.97L457.82,258.69L459.51,260.55L461.19,262.53L462.88,264.57L464.56,266.66L466.25,268.8L467.93,271L469.62,273.28L471.3,275.65L472.99,278.13L474.67,280.71L476.36,283.39L478.04,286.09L479.73,288.75L481.41,291.33L483.1,293.76L484.78,295.97L486.47,297.93L488.15,299.66L489.84,301.16L491.52,302.46L493.21,303.56L494.89,304.49L496.58,305.26L498.26,305.88L499.95,306.36L501.63,306.72L503.32,306.97L505,307.13L506.69,307.19L508.37,307.19L510.06,307.12L511.75,307L513.43,306.85L515.12,306.67L516.8,306.48" stroke="#8a8a8a" stroke-width="0.55"/>
<path d="M382,297.73L383.69,297.47L385.37,297.18L387.06,296.86L388.74,296.48L390.43,296.01L392.11,295.45L393.8,294.77L395.48,293.95L397.17,292.98L398.85,291.87L400.53,290.64L402.22,289.31L403.9,287.9L405.59,286.41L407.27,284.88L408.96,283.3L410.64,281.71L412.33,280.1L414.01,278.49L415.7,276.88L417.38,275.27L419.07,273.68L420.75,272.1L422.44,270.54L424.12,269.01L425.81,267.51L427.5,266.05L429.18,264.64L430.87,263.29L432.55,262L434.24,260.8L435.92,259.67L437.6,258.65L439.29,257.73L440.97,256.96L442.66,256.4L444.34,256.13L446.03,256.16L447.71,256.45L449.4,256.98L451.08,257.68L452.77,258.53L454.45,259.53L456.14,260.66L457.82,261.93L459.51,263.34L461.19,264.87L462.88,266.53L464.56,268.3L466.25,270.14L467.93,272.04L469.62,273.97L471.3,275.9L472.99,277.8L474.67,279.67L476.36,281.45L478.04,283.16L479.73,284.79L481.41,286.35L483.1,287.85L484.78,289.3L486.47,290.69L488.15,292.04L489.84,293.36L491.52,294.64L493.21,295.82L494.89,296.84L496.58,297.63L498.26,298.14L499.95,298.41L501.63,298.5L503.32,298.48L505,298.42L506.69,298.35L508.37,298.26L510.06,298.17L511.75,298.06L513.43,297.96L515.12,297.85L516.8,297.73" stroke="#2472d4" stroke-width="1.55"/>
</g>
<line x1="382" y1="217.2" x2="382" y2="308.85" stroke="#333" stroke-width="1.1"/>
<line x1="381.45" y1="308.3" x2="517" y2="308.3" stroke="#333" stroke-width="1.1"/>
<line x1="378" y1="308.3" x2="382" y2="308.3" stroke="#333" stroke-width="0.9"/>
<text x="376.8" y="310.93" font-size="7.3" font-weight="bold" text-anchor="end" fill="#111" stroke="#111" stroke-width="0.2" font-family='"Liberation Sans", sans-serif' transform="translate(0 308.3) scale(1 1.1) translate(0 -308.3)" >0.0</text>
<line x1="378" y1="290.08" x2="382" y2="290.08" stroke="#333" stroke-width="0.9"/>
<text x="376.8" y="292.71" font-size="7.3" font-weight="bold" text-anchor="end" fill="#111" stroke="#111" stroke-width="0.2" font-family='"Liberation Sans", sans-serif' transform="translate(0 290.08) scale(1 1.1) translate(0 -290.08)" >0.5</text>
<line x1="378" y1="271.86" x2="382" y2="271.86" stroke="#333" stroke-width="0.9"/>
<text x="376.8" y="274.49" font-size="7.3" font-weight="bold" text-anchor="end" fill="#111" stroke="#111" stroke-width="0.2" font-family='"Liberation Sans", sans-serif' transform="translate(0 271.86) scale(1 1.1) translate(0 -271.86)" >1.0</text>
<line x1="378" y1="253.64" x2="382" y2="253.64" stroke="#333" stroke-width="0.9"/>
<text x="376.8" y="256.27" font-size="7.3" font-weight="bold" text-anchor="end" fill="#111" stroke="#111" stroke-width="0.2" font-family='"Liberation Sans", sans-serif' transform="translate(0 253.64) scale(1 1.1) translate(0 -253.64)" >1.5</text>
<line x1="378" y1="235.42" x2="382" y2="235.42" stroke="#333" stroke-width="0.9"/>
<text x="376.8" y="238.05" font-size="7.3" font-weight="bold" text-anchor="end" fill="#111" stroke="#111" stroke-width="0.2" font-family='"Liberation Sans", sans-serif' transform="translate(0 235.42) scale(1 1.1) translate(0 -235.42)" >2.0</text>
<line x1="378" y1="217.2" x2="382" y2="217.2" stroke="#333" stroke-width="0.9"/>
<text x="376.8" y="219.83" font-size="7.3" font-weight="bold" text-anchor="end" fill="#111" stroke="#111" stroke-width="0.2" font-family='"Liberation Sans", sans-serif' transform="translate(0 217.2) scale(1 1.1) translate(0 -217.2)" >2.5</text>
<line x1="408.96" y1="308.3" x2="408.96" y2="312.3" stroke="#333" stroke-width="0.9"/>
<text x="408.96" y="320.97" font-size="6.3" font-weight="normal" text-anchor="middle" fill="#222" font-family='"Liberation Sans", sans-serif' transform="translate(0 318.7) scale(1 1.1) translate(0 -318.7)" >20%</text>
<line x1="435.92" y1="308.3" x2="435.92" y2="312.3" stroke="#333" stroke-width="0.9"/>
<text x="435.92" y="320.97" font-size="6.3" font-weight="normal" text-anchor="middle" fill="#222" font-family='"Liberation Sans", sans-serif' transform="translate(0 318.7) scale(1 1.1) translate(0 -318.7)" >40%</text>
<line x1="462.88" y1="308.3" x2="462.88" y2="312.3" stroke="#333" stroke-width="0.9"/>
<text x="462.88" y="320.97" font-size="6.3" font-weight="normal" text-anchor="middle" fill="#222" font-family='"Liberation Sans", sans-serif' transform="translate(0 318.7) scale(1 1.1) translate(0 -318.7)" >60%</text>
<line x1="489.84" y1="308.3" x2="489.84" y2="312.3" stroke="#333" stroke-width="0.9"/>
<text x="489.84" y="320.97" font-size="6.3" font-weight="normal" text-anchor="middle" fill="#222" font-family='"Liberation Sans", sans-serif' transform="translate(0 318.7) scale(1 1.1) translate(0 -318.7)" >80%</text>
<line x1="516.8" y1="308.3" x2="516.8" y2="312.3" stroke="#333" stroke-width="0.9"/>
<text x="516.8" y="320.97" font-size="6.3" font-weight="normal" text-anchor="middle" fill="#222" font-family='"Liberation Sans", sans-serif' transform="translate(0 318.7) scale(1 1.1) translate(0 -318.7)" >100%</text>
<text x="360" y="262.9" font-size="7.45" font-weight="bold" text-anchor="middle" fill="#111" stroke="#111" stroke-width="0.2" font-family='"Liberation Sans", sans-serif' transform="translate(360 262.9) scale(1.1 1) rotate(-90) translate(-360 -262.9)" dominant-baseline="central">Muscle Activation-S2</text>
<clipPath id="c5"><rect x="38.8" y="361.7" width="153.5" height="124"/></clipPath>
<g clip-path="url(#c5)" fill="none" stroke-linejoin="round">
<path d="M38.8,485.7L40.57,485.53L42.34,485.36L44.11,485.21L45.88,485.08L47.64,484.98L49.41,484.91L51.18,484.89L52.95,484.92L54.72,485.01L56.49,485.17L58.26,485.39L60.02,485.7L61.79,486.07L63.56,486.36L65.33,486.42L67.1,486.09L68.87,485.21L70.64,483.63L72.41,481.42L74.17,478.68L75.94,475.55L77.71,472.15L79.48,468.59L81.25,465.02L83.02,461.54L84.79,458.2L86.56,454.99L88.32,451.91L90.09,448.96L91.86,446.13L93.63,443.41L95.4,440.8L97.17,438.27L98.94,435.74L100.71,433.15L102.47,430.44L104.24,427.54L106.01,424.43L107.78,421.29L109.55,418.31L111.32,415.7L113.09,413.46L114.86,411.51L116.62,409.75L118.39,408.12L120.16,406.72L121.93,405.66L123.7,405.06L125.47,404.99L127.24,405.43L129.01,406.35L130.77,407.73L132.54,409.54L134.31,411.77L136.08,414.38L137.85,417.34L139.62,420.65L141.39,424.26L143.16,428.14L144.93,432.24L146.69,436.47L148.46,440.75L150.23,445L152,449.15L153.77,453.11L155.54,456.8L157.31,460.15L159.07,463.09L160.84,465.7L162.61,468.13L164.38,470.58L166.15,473.2L167.92,476.17L169.69,479.54L171.46,482.8L173.23,485.26L174.99,486.52L176.76,486.79L178.53,486.41L180.3,485.7" stroke="#8a8a8a" stroke-width="0.55"/>
<path d="M38.8,485.7L40.57,486.27L42.34,486.83L44.11,487.34L45.88,487.79L47.64,488.16L49.41,488.43L51.18,488.57L52.95,488.57L54.72,488.4L56.49,488.05L58.26,487.5L60.02,486.72L61.79,485.69L63.56,484.4L65.33,482.84L67.1,481.04L68.87,479.02L70.64,476.82L72.41,474.46L74.17,471.97L75.94,469.38L77.71,466.72L79.48,464L81.25,461.27L83.02,458.54L84.79,455.86L86.56,453.24L88.32,450.71L90.09,448.3L91.86,446L93.63,443.82L95.4,441.76L97.17,439.81L98.94,437.97L100.71,436.24L102.47,434.62L104.24,433.11L106.01,431.67L107.78,430.32L109.55,429.02L111.32,427.78L113.09,426.56L114.86,425.35L116.62,424.14L118.39,422.9L120.16,421.61L121.93,420.27L123.7,418.9L125.47,417.51L127.24,416.16L129.01,414.88L130.77,413.7L132.54,412.65L134.31,411.76L136.08,411.06L137.85,410.56L139.62,410.25L141.39,410.17L143.16,410.31L144.93,410.68L146.69,411.29L148.46,412.13L150.23,413.19L152,414.47L153.77,415.96L155.54,417.64L157.31,419.52L159.07,421.55L160.84,423.7L162.61,425.93L164.38,428.2L166.15,430.46L167.92,432.69L169.69,434.87L171.46,437.01L173.23,439.12L174.99,441.2L176.76,443.26L178.53,445.31L180.3,447.35" stroke="#8a8a8a" stroke-width="0.55"/>
<path d="M38.8,476.3L40.57,476.51L42.34,476.72L44.11,476.93L45.88,477.16L47.64,477.39L49.41,477.64L51.18,477.9L52.95,478.18L54.72,478.48L56.49,478.79L58.26,479.09L60.02,479.37L61.79,479.63L63.56,479.83L65.33,479.98L67.1,480.06L68.87,480.05L70.64,479.95L72.41,479.74L74.17,479.41L75.94,478.94L77.71,478.34L79.48,477.57L81.25,476.64L83.02,475.52L84.79,474.24L86.56,472.79L88.32,471.2L90.09,469.49L91.86,467.66L93.63,465.73L95.4,463.73L97.17,461.65L98.94,459.49L100.71,457.27L102.47,454.97L104.24,452.6L106.01,450.16L107.78,447.65L109.55,445.08L111.32,442.48L113.09,439.89L114.86,437.34L116.62,434.88L118.39,432.55L120.16,430.38L121.93,428.42L123.7,426.66L125.47,425.11L127.24,423.75L129.01,422.6L130.77,421.63L132.54,420.84L134.31,420.23L136.08,419.8L137.85,419.54L139.62,419.44L141.39,419.51L143.16,419.76L144.93,420.2L146.69,420.82L148.46,421.63L150.23,422.65L152,423.87L153.77,425.3L155.54,426.9L157.31,428.65L159.07,430.52L160.84,432.47L162.61,434.49L164.38,436.53L166.15,438.57L167.92,440.61L169.69,442.65L171.46,444.69L173.23,446.72L174.99,448.76L176.76,450.8L178.53,452.83L180.3,454.87" stroke="#8a8a8a" stroke-width="0.55"/>
<path d="M38.8,472.54L40.57,471.65L42.34,470.78L44.11,469.98L45.88,469.26L47.64,468.67L49.41,468.22L51.18,467.95L52.95,467.87L54.72,467.93L56.49,468.1L58.26,468.33L60.02,468.58L61.79,468.83L63.56,469.02L65.33,469.13L67.1,469.14L68.87,469.02L70.64,468.75L72.41,468.28L74.17,467.61L75.94,466.7L77.71,465.53L79.48,464.12L81.25,462.47L83.02,460.6L84.79,458.51L86.56,456.22L88.32,453.74L90.09,451.09L91.86,448.33L93.63,445.54L95.4,442.8L97.17,440.18L98.94,437.76L100.71,435.58L102.47,433.63L104.24,431.9L106.01,430.38L107.78,429.07L109.55,427.95L111.32,427.02L113.09,426.29L114.86,425.73L116.62,425.37L118.39,425.19L120.16,425.19L121.93,425.35L123.7,425.67L125.47,426.11L127.24,426.65L129.01,427.28L130.77,427.98L132.54,428.71L134.31,429.47L136.08,430.25L137.85,431.05L139.62,431.88L141.39,432.75L143.16,433.66L144.93,434.62L146.69,435.63L148.46,436.69L150.23,437.77L152,438.87L153.77,439.97L155.54,441.05L157.31,442.09L159.07,443.09L160.84,444.05L162.61,444.96L164.38,445.85L166.15,446.72L167.92,447.58L169.69,448.45L171.46,449.32L173.23,450.19L174.99,451.08L176.76,451.96L178.53,452.85L180.3,453.74" stroke="#8a8a8a" stroke-width="0.55"/>
<path d="M38.8,459.38L40.57,460.41L42.34,461.45L44.11,462.48L45.88,463.5L47.64,464.51L49.41,465.51L51.18,466.5L52.95,467.48L54.72,468.43L56.49,469.36L58.26,470.27L60.02,471.14L61.79,471.99L63.56,472.79L65.33,473.56L67.1,474.26L68.87,474.89L70.64,475.42L72.41,475.85L74.17,476.15L75.94,476.32L77.71,476.35L79.48,476.26L81.25,476.08L83.02,475.85L84.79,475.6L86.56,475.35L88.32,475.14L90.09,474.98L91.86,474.82L93.63,474.62L95.4,474.33L97.17,473.9L98.94,473.28L100.71,472.42L102.47,471.31L104.24,469.96L106.01,468.44L107.78,466.77L109.55,465.02L111.32,463.22L113.09,461.42L114.86,459.67L116.62,458L118.39,456.46L120.16,455.1L121.93,453.92L123.7,452.9L125.47,452.01L127.24,451.21L129.01,450.47L130.77,449.76L132.54,449.06L134.31,448.32L136.08,447.57L137.85,446.85L139.62,446.2L141.39,445.67L143.16,445.29L144.93,445.1L146.69,445.15L148.46,445.42L150.23,445.87L152,446.46L153.77,447.14L155.54,447.86L157.31,448.6L159.07,449.29L160.84,449.94L162.61,450.53L164.38,451.09L166.15,451.6L167.92,452.09L169.69,452.54L171.46,452.97L173.23,453.37L174.99,453.76L176.76,454.14L178.53,454.5L180.3,454.87" stroke="#8a8a8a" stroke-width="0.55"/>
<path d="M38.8,476.3L40.57,474.92L42.34,473.57L44.11,472.29L45.88,471.12L47.64,470.09L49.41,469.22L51.18,468.57L52.95,468.13L54.72,467.86L56.49,467.72L58.26,467.67L60.02,467.67L61.79,467.67L63.56,467.63L65.33,467.54L67.1,467.41L68.87,467.27L70.64,467.12L72.41,467L74.17,466.92L75.94,466.9L77.71,466.96L79.48,467.07L81.25,467.21L83.02,467.37L84.79,467.5L86.56,467.61L88.32,467.65L90.09,467.62L91.86,467.5L93.63,467.26L95.4,466.9L97.17,466.4L98.94,465.74L100.71,464.91L102.47,463.9L104.24,462.69L106.01,461.3L107.78,459.72L109.55,457.95L111.32,456L113.09,453.89L114.86,451.7L116.62,449.48L118.39,447.27L120.16,445.15L121.93,443.17L123.7,441.35L125.47,439.69L127.24,438.2L129.01,436.88L130.77,435.73L132.54,434.76L134.31,433.96L136.08,433.34L137.85,432.88L139.62,432.58L141.39,432.44L143.16,432.45L144.93,432.6L146.69,432.9L148.46,433.31L150.23,433.82L152,434.39L153.77,435L155.54,435.63L157.31,436.25L159.07,436.82L160.84,437.33L162.61,437.79L164.38,438.19L166.15,438.54L167.92,438.84L169.69,439.11L171.46,439.34L173.23,439.55L174.99,439.73L176.76,439.9L178.53,440.05L180.3,440.2" stroke="#8a8a8a" stroke-width="0.55"/>
<path d="M38.8,482.32L40.57,481.21L42.34,480.11L44.11,479.03L45.88,477.97L47.64,476.95L49.41,475.97L51.18,475.04L52.95,474.17L54.72,473.37L56.49,472.65L58.26,472.01L60.02,471.46L61.79,470.99L63.56,470.6L65.33,470.3L67.1,470.07L68.87,469.93L70.64,469.86L72.41,469.86L74.17,469.92L75.94,470.04L77.71,470.21L79.48,470.42L81.25,470.66L83.02,470.93L84.79,471.22L86.56,471.5L88.32,471.78L90.09,472.04L91.86,472.26L93.63,472.43L95.4,472.54L97.17,472.58L98.94,472.52L100.71,472.34L102.47,472.03L104.24,471.55L106.01,470.89L107.78,470.03L109.55,468.94L111.32,467.68L113.09,466.3L114.86,464.86L116.62,463.42L118.39,462.04L120.16,460.77L121.93,459.64L123.7,458.62L125.47,457.68L127.24,456.78L129.01,455.89L130.77,454.98L132.54,454.02L134.31,452.98L136.08,451.91L137.85,450.88L139.62,449.97L141.39,449.27L143.16,448.84L144.93,448.78L146.69,449.15L148.46,449.93L150.23,451.03L152,452.37L153.77,453.87L155.54,455.43L157.31,456.97L159.07,458.41L160.84,459.72L162.61,460.92L164.38,462.01L166.15,463L167.92,463.91L169.69,464.74L171.46,465.51L173.23,466.23L174.99,466.91L176.76,467.55L178.53,468.17L180.3,468.78" stroke="#8a8a8a" stroke-width="0.55"/>
<path d="M38.8,483.82L40.57,483.76L42.34,483.7L44.11,483.64L45.88,483.58L47.64,483.51L49.41,483.44L51.18,483.36L52.95,483.28L54.72,483.19L56.49,483.1L58.26,483L60.02,482.89L61.79,482.77L63.56,482.64L65.33,482.5L67.1,482.34L68.87,482.16L70.64,481.95L72.41,481.71L74.17,481.44L75.94,481.12L77.71,480.76L79.48,480.35L81.25,479.88L83.02,479.34L84.79,478.74L86.56,478.06L88.32,477.3L90.09,476.45L91.86,475.53L93.63,474.52L95.4,473.43L97.17,472.27L98.94,471.04L100.71,469.75L102.47,468.39L104.24,467L106.01,465.57L107.78,464.14L109.55,462.72L111.32,461.34L113.09,460.02L114.86,458.83L116.62,457.81L118.39,457.02L120.16,456.49L121.93,456.29L123.7,456.37L125.47,456.63L127.24,456.98L129.01,457.32L130.77,457.54L132.54,457.55L134.31,457.26L136.08,456.71L137.85,456L139.62,455.25L141.39,454.55L143.16,454.01L144.93,453.75L146.69,453.85L148.46,454.31L150.23,455.02L152,455.92L153.77,456.9L155.54,457.89L157.31,458.83L159.07,459.74L160.84,460.61L162.61,461.47L164.38,462.3L166.15,463.14L167.92,463.98L169.69,464.82L171.46,465.66L173.23,466.51L174.99,467.36L176.76,468.21L178.53,469.06L180.3,469.91" stroke="#8a8a8a" stroke-width="0.55"/>
<path d="M38.8,485.7L40.57,485.81L42.34,485.9L44.11,485.99L45.88,486.07L47.64,486.12L49.41,486.15L51.18,486.14L52.95,486.1L54.72,486.02L56.49,485.89L58.26,485.7L60.02,485.46L61.79,485.16L63.56,484.79L65.33,484.34L67.1,483.82L68.87,483.21L70.64,482.52L72.41,481.75L74.17,480.9L75.94,479.97L77.71,478.95L79.48,477.86L81.25,476.69L83.02,475.44L84.79,474.11L86.56,472.68L88.32,471.14L90.09,469.48L91.86,467.69L93.63,465.75L95.4,463.67L97.17,461.44L98.94,459.1L100.71,456.67L102.47,454.18L104.24,451.66L106.01,449.13L107.78,446.62L109.55,444.17L111.32,441.79L113.09,439.53L114.86,437.43L116.62,435.54L118.39,433.9L120.16,432.56L121.93,431.53L123.7,430.79L125.47,430.3L127.24,430.03L129.01,429.96L130.77,430.05L132.54,430.28L134.31,430.65L136.08,431.15L137.85,431.78L139.62,432.54L141.39,433.43L143.16,434.44L144.93,435.55L146.69,436.74L148.46,437.99L150.23,439.28L152,440.58L153.77,441.88L155.54,443.16L157.31,444.42L159.07,445.65L160.84,446.82L162.61,447.95L164.38,449L166.15,449.98L167.92,450.88L169.69,451.69L171.46,452.45L173.23,453.15L174.99,453.8L176.76,454.43L178.53,455.03L180.3,455.62" stroke="#8a8a8a" stroke-width="0.55"/>
<path d="M38.8,481.94L40.57,482.29L42.34,482.63L44.11,482.95L45.88,483.24L47.64,483.48L49.41,483.66L51.18,483.78L52.95,483.82L54.72,483.77L56.49,483.65L58.26,483.46L60.02,483.22L61.79,482.93L63.56,482.61L65.33,482.28L67.1,481.94L68.87,481.6L70.64,481.25L72.41,480.88L74.17,480.47L75.94,480.01L77.71,479.49L79.48,478.88L81.25,478.18L83.02,477.38L84.79,476.52L86.56,475.64L88.32,474.79L90.09,474L91.86,473.34L93.63,472.84L95.4,472.54L97.17,472.47L98.94,472.58L100.71,472.76L102.47,472.94L104.24,473.03L106.01,472.94L107.78,472.6L109.55,471.93L111.32,470.93L113.09,469.65L114.86,468.1L116.62,466.34L118.39,464.39L120.16,462.28L121.93,460.08L123.7,457.85L125.47,455.68L127.24,453.64L129.01,451.81L130.77,450.27L132.54,449.1L134.31,448.37L136.08,448.08L137.85,448.19L139.62,448.67L141.39,449.46L143.16,450.54L144.93,451.86L146.69,453.38L148.46,455.07L150.23,456.87L152,458.75L153.77,460.65L155.54,462.54L157.31,464.38L159.07,466.12L160.84,467.76L162.61,469.3L164.38,470.78L166.15,472.21L167.92,473.6L169.69,474.97L171.46,476.33L173.23,477.68L174.99,479.03L176.76,480.38L178.53,481.72L180.3,483.07" stroke="#8a8a8a" stroke-width="0.55"/>
<path d="M38.8,478.18L40.57,477.76L42.34,477.34L44.11,476.91L45.88,476.46L47.64,475.99L49.41,475.5L51.18,474.98L52.95,474.42L54.72,473.83L56.49,473.22L58.26,472.63L60.02,472.07L61.79,471.57L63.56,471.15L65.33,470.84L67.1,470.66L68.87,470.63L70.64,470.73L72.41,470.94L74.17,471.22L75.94,471.54L77.71,471.89L79.48,472.23L81.25,472.54L83.02,472.79L84.79,472.95L86.56,472.99L88.32,472.9L90.09,472.65L91.86,472.21L93.63,471.55L95.4,470.66L97.17,469.51L98.94,468.16L100.71,466.66L102.47,465.07L104.24,463.44L106.01,461.83L107.78,460.31L109.55,458.91L111.32,457.65L113.09,456.51L114.86,455.47L116.62,454.53L118.39,453.67L120.16,452.87L121.93,452.13L123.7,451.42L125.47,450.75L127.24,450.08L129.01,449.42L130.77,448.74L132.54,448.04L134.31,447.32L136.08,446.58L137.85,445.83L139.62,445.06L141.39,444.28L143.16,443.5L144.93,442.71L146.69,441.93L148.46,441.15L150.23,440.39L152,439.66L153.77,438.98L155.54,438.35L157.31,437.79L159.07,437.31L160.84,436.91L162.61,436.62L164.38,436.44L166.15,436.38L167.92,436.43L169.69,436.58L171.46,436.8L173.23,437.1L174.99,437.45L176.76,437.85L178.53,438.27L180.3,438.7" stroke="#8a8a8a" stroke-width="0.55"/>
<path d="M38.8,480.06L40.57,479.1L42.34,478.14L44.11,477.18L45.88,476.23L47.64,475.29L49.41,474.36L51.18,473.44L52.95,472.54L54.72,471.66L56.49,470.8L58.26,469.98L60.02,469.22L61.79,468.52L63.56,467.89L65.33,467.35L67.1,466.9L68.87,466.56L70.64,466.31L72.41,466.15L74.17,466.06L75.94,466.02L77.71,466.03L79.48,466.08L81.25,466.15L83.02,466.23L84.79,466.31L86.56,466.4L88.32,466.5L90.09,466.6L91.86,466.7L93.63,466.8L95.4,466.9L97.17,466.99L98.94,467.04L100.71,467L102.47,466.83L104.24,466.49L106.01,465.94L107.78,465.14L109.55,464.04L111.32,462.68L113.09,461.06L114.86,459.24L116.62,457.24L118.39,455.09L120.16,452.82L121.93,450.47L123.7,448.09L125.47,445.72L127.24,443.41L129.01,441.2L130.77,439.15L132.54,437.3L134.31,435.69L136.08,434.33L137.85,433.23L139.62,432.37L141.39,431.74L143.16,431.35L144.93,431.18L146.69,431.23L148.46,431.46L150.23,431.85L152,432.36L153.77,432.95L155.54,433.6L157.31,434.28L159.07,434.94L160.84,435.56L162.61,436.15L164.38,436.7L166.15,437.21L167.92,437.7L169.69,438.16L171.46,438.59L173.23,439.01L174.99,439.42L176.76,439.81L178.53,440.2L180.3,440.58" stroke="#8a8a8a" stroke-width="0.55"/>
<path d="M38.8,480.06L40.57,480.14L42.34,480.22L44.11,480.29L45.88,480.35L47.64,480.39L49.41,480.43L51.18,480.44L52.95,480.43L54.72,480.39L56.49,480.31L58.26,480.2L60.02,480.05L61.79,479.85L63.56,479.6L65.33,479.29L67.1,478.92L68.87,478.5L70.64,478.01L72.41,477.46L74.17,476.84L75.94,476.16L77.71,475.41L79.48,474.59L81.25,473.72L83.02,472.79L84.79,471.81L86.56,470.79L88.32,469.74L90.09,468.64L91.86,467.51L93.63,466.33L95.4,465.11L97.17,463.83L98.94,462.49L100.71,461.09L102.47,459.63L104.24,458.12L106.01,456.59L107.78,455.05L109.55,453.53L111.32,452.03L113.09,450.57L114.86,449.15L116.62,447.79L118.39,446.5L120.16,445.28L121.93,444.14L123.7,443.1L125.47,442.16L127.24,441.33L129.01,440.61L130.77,440.02L132.54,439.56L134.31,439.23L136.08,439.05L137.85,439.02L139.62,439.12L141.39,439.37L143.16,439.76L144.93,440.3L146.69,440.97L148.46,441.77L150.23,442.71L152,443.77L153.77,444.94L155.54,446.19L157.31,447.5L159.07,448.83L160.84,450.16L162.61,451.44L164.38,452.66L166.15,453.78L167.92,454.82L169.69,455.77L171.46,456.66L173.23,457.5L174.99,458.29L176.76,459.05L178.53,459.78L180.3,460.51" stroke="#e0505e" stroke-width="1.55"/>
</g>
<line x1="38.8" y1="391.7" x2="38.8" y2="486.25" stroke="#333" stroke-width="1.1"/>
<line x1="38.25" y1="485.7" x2="180.5" y2="485.7" stroke="#333" stroke-width="1.1"/>
<line x1="34.8" y1="485.7" x2="38.8" y2="485.7" stroke="#333" stroke-width="0.9"/>
<text x="33.6" y="488.36" font-size="7.4" font-weight="bold" text-anchor="end" fill="#111" stroke="#111" stroke-width="0.2" font-family='"Liberation Sans", sans-serif' transform="translate(0 485.7) scale(1 1.1) translate(0 -485.7)" >0.0</text>
<line x1="34.8" y1="466.9" x2="38.8" y2="466.9" stroke="#333" stroke-width="0.9"/>
<text x="33.6" y="469.56" font-size="7.4" font-weight="bold" text-anchor="end" fill="#111" stroke="#111" stroke-width="0.2" font-family='"Liberation Sans", sans-serif' transform="translate(0 466.9) scale(1 1.1) translate(0 -466.9)" >0.5</text>
<line x1="34.8" y1="448.1" x2="38.8" y2="448.1" stroke="#333" stroke-width="0.9"/>
<text x="33.6" y="450.76" font-size="7.4" font-weight="bold" text-anchor="end" fill="#111" stroke="#111" stroke-width="0.2" font-family='"Liberation Sans", sans-serif' transform="translate(0 448.1) scale(1 1.1) translate(0 -448.1)" >1.0</text>
<line x1="34.8" y1="429.3" x2="38.8" y2="429.3" stroke="#333" stroke-width="0.9"/>
<text x="33.6" y="431.96" font-size="7.4" font-weight="bold" text-anchor="end" fill="#111" stroke="#111" stroke-width="0.2" font-family='"Liberation Sans", sans-serif' transform="translate(0 429.3) scale(1 1.1) translate(0 -429.3)" >1.5</text>
<line x1="34.8" y1="410.5" x2="38.8" y2="410.5" stroke="#333" stroke-width="0.9"/>
<text x="33.6" y="413.16" font-size="7.4" font-weight="bold" text-anchor="end" fill="#111" stroke="#111" stroke-width="0.2" font-family='"Liberation Sans", sans-serif' transform="translate(0 410.5) scale(1 1.1) translate(0 -410.5)" >2.0</text>
<line x1="34.8" y1="391.7" x2="38.8" y2="391.7" stroke="#333" stroke-width="0.9"/>
<text x="33.6" y="394.36" font-size="7.4" font-weight="bold" text-anchor="end" fill="#111" stroke="#111" stroke-width="0.2" font-family='"Liberation Sans", sans-serif' transform="translate(0 391.7) scale(1 1.1) translate(0 -391.7)" >2.5</text>
<line x1="67.1" y1="485.7" x2="67.1" y2="489.7" stroke="#333" stroke-width="0.9"/>
<text x="67.1" y="499.24" font-size="6.5" font-weight="normal" text-anchor="middle" fill="#222" font-family='"Liberation Sans", sans-serif' transform="translate(0 496.9) scale(1 1.1) translate(0 -496.9)" >20%</text>
<line x1="95.4" y1="485.7" x2="95.4" y2="489.7" stroke="#333" stroke-width="0.9"/>
<text x="95.4" y="499.24" font-size="6.5" font-weight="normal" text-anchor="middle" fill="#222" font-family='"Liberation Sans", sans-serif' transform="translate(0 496.9) scale(1 1.1) translate(0 -496.9)" >40%</text>
<line x1="123.7" y1="485.7" x2="123.7" y2="489.7" stroke="#333" stroke-width="0.9"/>
<text x="123.7" y="499.24" font-size="6.5" font-weight="normal" text-anchor="middle" fill="#222" font-family='"Liberation Sans", sans-serif' transform="translate(0 496.9) scale(1 1.1) translate(0 -496.9)" >60%</text>
<line x1="152" y1="485.7" x2="152" y2="489.7" stroke="#333" stroke-width="0.9"/>
<text x="152" y="499.24" font-size="6.5" font-weight="normal" text-anchor="middle" fill="#222" font-family='"Liberation Sans", sans-serif' transform="translate(0 496.9) scale(1 1.1) translate(0 -496.9)" >80%</text>
<line x1="180.3" y1="485.7" x2="180.3" y2="489.7" stroke="#333" stroke-width="0.9"/>
<text x="180.3" y="499.24" font-size="6.5" font-weight="normal" text-anchor="middle" fill="#222" font-family='"Liberation Sans", sans-serif' transform="translate(0 496.9) scale(1 1.1) translate(0 -496.9)" >100%</text>
<text x="16.5" y="438.4" font-size="7.75" font-weight="bold" text-anchor="middle" fill="#111" stroke="#111" stroke-width="0.2" font-family='"Liberation Sans", sans-serif' transform="translate(16.5 438.4) scale(1.1 1) rotate(-90) translate(-16.5 -438.4)" dominant-baseline="central">Muscle Activation-S3</text>
<clipPath id="c6"><rect x="365" y="346.2" width="155" height="125.5"/></clipPath>
<g clip-path="url(#c6)" fill="none" stroke-linejoin="round">
<path d="M365,454.03L366.79,453.41L368.57,452.82L370.36,452.27L372.15,451.8L373.94,451.43L375.73,451.19L377.51,451.11L379.3,451.19L381.09,451.47L382.88,451.93L384.66,452.54L386.45,453.29L388.24,454.16L390.02,455.12L391.81,456.16L393.6,457.25L395.39,458.39L397.18,459.55L398.96,460.72L400.75,461.89L402.54,463.03L404.32,464.15L406.11,465.2L407.9,466.16L409.69,466.95L411.48,467.53L413.26,467.85L415.05,467.86L416.84,467.53L418.62,466.87L420.41,465.87L422.2,464.54L423.99,462.87L425.77,460.92L427.56,458.73L429.35,456.37L431.14,453.9L432.93,451.36L434.71,448.81L436.5,446.31L438.29,443.87L440.07,441.52L441.86,439.27L443.65,437.14L445.44,435.12L447.23,433.25L449.01,431.52L450.8,429.97L452.59,428.58L454.38,427.36L456.16,426.32L457.95,425.47L459.74,424.8L461.52,424.31L463.31,424.02L465.1,423.93L466.89,424.04L468.68,424.35L470.46,424.88L472.25,425.63L474.04,426.61L475.82,427.82L477.61,429.28L479.4,430.96L481.19,432.84L482.98,434.86L484.76,436.98L486.55,439.15L488.34,441.33L490.12,443.48L491.91,445.55L493.7,447.52L495.49,449.42L497.27,451.24L499.06,452.99L500.85,454.7L502.64,456.36L504.43,457.99L506.21,459.6L508,461.19" stroke="#8a8a8a" stroke-width="0.55"/>
<path d="M365,458.81L366.79,459.07L368.57,459.34L370.36,459.62L372.15,459.91L373.94,460.21L375.73,460.53L377.51,460.88L379.3,461.26L381.09,461.66L382.88,462.11L384.66,462.59L386.45,463.11L388.24,463.69L390.02,464.31L391.81,464.99L393.6,465.74L395.39,466.52L397.18,467.27L398.96,467.93L400.75,468.42L402.54,468.69L404.32,468.66L406.11,468.26L407.9,467.42L409.69,466.13L411.48,464.4L413.26,462.24L415.05,459.67L416.84,456.71L418.62,453.39L420.41,449.71L422.2,445.7L423.99,441.42L425.77,436.96L427.56,432.41L429.35,427.86L431.14,423.39L432.93,419.1L434.71,415.07L436.5,411.4L438.29,408.16L440.07,405.35L441.86,402.9L443.65,400.78L445.44,398.91L447.23,397.27L449.01,395.83L450.8,394.63L452.59,393.72L454.38,393.13L456.16,392.91L457.95,393.05L459.74,393.53L461.52,394.26L463.31,395.2L465.1,396.28L466.89,397.44L468.68,398.67L470.46,400.01L472.25,401.49L474.04,403.13L475.82,404.98L477.61,407.06L479.4,409.38L481.19,411.93L482.98,414.67L484.76,417.59L486.55,420.65L488.34,423.83L490.12,427.12L491.91,430.48L493.7,433.9L495.49,437.38L497.27,440.9L499.06,444.46L500.85,448.05L502.64,451.67L504.43,455.31L506.21,458.97L508,462.63" stroke="#8a8a8a" stroke-width="0.55"/>
<path d="M365,459.76L366.79,459.9L368.57,460.04L370.36,460.19L372.15,460.35L373.94,460.53L375.73,460.74L377.51,460.96L379.3,461.22L381.09,461.51L382.88,461.84L384.66,462.21L386.45,462.63L388.24,463.09L390.02,463.61L391.81,464.15L393.6,464.73L395.39,465.33L397.18,465.94L398.96,466.55L400.75,467.17L402.54,467.76L404.32,468.28L406.11,468.69L407.9,468.93L409.69,468.96L411.48,468.74L413.26,468.22L415.05,467.35L416.84,466.12L418.62,464.54L420.41,462.63L422.2,460.39L423.99,457.83L425.77,454.98L427.56,451.83L429.35,448.41L431.14,444.74L432.93,440.86L434.71,436.8L436.5,432.61L438.29,428.32L440.07,424L441.86,419.73L443.65,415.59L445.44,411.65L447.23,408.01L449.01,404.73L450.8,401.87L452.59,399.42L454.38,397.32L456.16,395.54L457.95,394.03L459.74,392.76L461.52,391.67L463.31,390.78L465.1,390.11L466.89,389.68L468.68,389.51L470.46,389.63L472.25,390.06L474.04,390.79L475.82,391.83L477.61,393.18L479.4,394.84L481.19,396.82L482.98,399.1L484.76,401.64L486.55,404.38L488.34,407.28L490.12,410.27L491.91,413.3L493.7,416.31L495.49,419.27L497.27,422.16L499.06,425.01L500.85,427.81L502.64,430.57L504.43,433.31L506.21,436.04L508,438.75" stroke="#8a8a8a" stroke-width="0.55"/>
<path d="M365,462.15L366.79,462.45L368.57,462.74L370.36,463.04L372.15,463.34L373.94,463.64L375.73,463.94L377.51,464.24L379.3,464.54L381.09,464.84L382.88,465.14L384.66,465.44L386.45,465.74L388.24,466.04L390.02,466.34L391.81,466.64L393.6,466.93L395.39,467.21L397.18,467.5L398.96,467.78L400.75,468.07L402.54,468.36L404.32,468.67L406.11,468.98L407.9,469.31L409.69,469.65L411.48,469.93L413.26,470.11L415.05,470.1L416.84,469.84L418.62,469.27L420.41,468.33L422.2,466.94L423.99,465.11L425.77,462.88L427.56,460.29L429.35,457.38L431.14,454.19L432.93,450.81L434.71,447.35L436.5,443.87L438.29,440.48L440.07,437.21L441.86,434.03L443.65,430.96L445.44,427.97L447.23,425.08L449.01,422.28L450.8,419.55L452.59,416.92L454.38,414.37L456.16,411.91L457.95,409.54L459.74,407.27L461.52,405.09L463.31,403.01L465.1,401.03L466.89,399.14L468.68,397.35L470.46,395.64L472.25,394.03L474.04,392.49L475.82,391.05L477.61,389.77L479.4,388.72L481.19,387.97L482.98,387.61L484.76,387.7L486.55,388.25L488.34,389.27L490.12,390.77L491.91,392.78L493.7,395.3L495.49,398.33L497.27,401.82L499.06,405.7L500.85,409.91L502.64,414.39L504.43,419.06L506.21,423.86L508,428.73" stroke="#8a8a8a" stroke-width="0.55"/>
<path d="M365,464.54L366.79,464.68L368.57,464.83L370.36,464.99L372.15,465.15L373.94,465.33L375.73,465.52L377.51,465.73L379.3,465.97L381.09,466.23L382.88,466.51L384.66,466.78L386.45,467.06L388.24,467.32L390.02,467.55L391.81,467.74L393.6,467.88L395.39,467.97L397.18,467.99L398.96,467.96L400.75,467.87L402.54,467.72L404.32,467.51L406.11,467.25L407.9,466.93L409.69,466.52L411.48,465.92L413.26,464.99L415.05,463.57L416.84,461.54L418.62,458.74L420.41,455.05L422.2,450.58L423.99,445.57L425.77,440.29L427.56,435L429.35,429.99L431.14,425.49L432.93,421.69L434.71,418.48L436.5,415.74L438.29,413.37L440.07,411.24L441.86,409.23L443.65,407.24L445.44,405.27L447.23,403.34L449.01,401.48L450.8,399.71L452.59,398.04L454.38,396.52L456.16,395.14L457.95,393.95L459.74,392.94L461.52,392.13L463.31,391.53L465.1,391.13L466.89,390.96L468.68,391.02L470.46,391.31L472.25,391.85L474.04,392.63L475.82,393.65L477.61,394.93L479.4,396.46L481.19,398.24L482.98,400.28L484.76,402.54L486.55,405L488.34,407.63L490.12,410.4L491.91,413.27L493.7,416.23L495.49,419.23L497.27,422.26L499.06,425.28L500.85,428.28L502.64,431.27L504.43,434.25L506.21,437.22L508,440.19" stroke="#8a8a8a" stroke-width="0.55"/>
<path d="M365,461.19L366.79,461.26L368.57,461.33L370.36,461.41L372.15,461.5L373.94,461.62L375.73,461.76L377.51,461.94L379.3,462.15L381.09,462.4L382.88,462.69L384.66,462.99L386.45,463.31L388.24,463.64L390.02,463.96L391.81,464.26L393.6,464.54L395.39,464.78L397.18,465L398.96,465.19L400.75,465.36L402.54,465.52L404.32,465.67L406.11,465.82L407.9,465.97L409.69,466.12L411.48,466.21L413.26,466.18L415.05,465.98L416.84,465.54L418.62,464.79L420.41,463.68L422.2,462.15L423.99,460.16L425.77,457.82L427.56,455.28L429.35,452.66L431.14,450.11L432.93,447.77L434.71,445.78L436.5,444.26L438.29,443.18L440.07,442.48L441.86,442.05L443.65,441.84L445.44,441.75L447.23,441.7L449.01,441.61L450.8,441.43L452.59,441.15L454.38,440.82L456.16,440.45L457.95,440.09L459.74,439.74L461.52,439.46L463.31,439.25L465.1,439.16L466.89,439.2L468.68,439.41L470.46,439.78L472.25,440.29L474.04,440.94L475.82,441.7L477.61,442.56L479.4,443.51L481.19,444.52L482.98,445.6L484.76,446.73L486.55,447.9L488.34,449.11L490.12,450.36L491.91,451.65L493.7,452.96L495.49,454.3L497.27,455.66L499.06,457.03L500.85,458.42L502.64,459.82L504.43,461.23L506.21,462.64L508,464.06" stroke="#8a8a8a" stroke-width="0.55"/>
<path d="M365,457.38L366.79,457.54L368.57,457.71L370.36,457.91L372.15,458.15L373.94,458.44L375.73,458.8L377.51,459.23L379.3,459.76L381.09,460.39L382.88,461.1L384.66,461.88L386.45,462.7L388.24,463.54L390.02,464.37L391.81,465.19L393.6,465.97L395.39,466.69L397.18,467.33L398.96,467.9L400.75,468.38L402.54,468.77L404.32,469.06L406.11,469.25L407.9,469.31L409.69,469.26L411.48,469.1L413.26,468.85L415.05,468.54L416.84,468.17L418.62,467.77L420.41,467.35L422.2,466.93L423.99,466.51L425.77,466.03L427.56,465.43L429.35,464.62L431.14,463.52L432.93,462.08L434.71,460.2L436.5,457.83L438.29,455.01L440.07,451.86L441.86,448.45L443.65,444.9L445.44,441.3L447.23,437.74L449.01,434.32L450.8,431.13L452.59,428.14L454.38,425.33L456.16,422.67L457.95,420.13L459.74,417.69L461.52,415.32L463.31,412.98L465.1,410.68L466.89,408.49L468.68,406.48L470.46,404.72L472.25,403.3L474.04,402.3L475.82,401.74L477.61,401.62L479.4,401.88L481.19,402.48L482.98,403.4L484.76,404.58L486.55,406.01L488.34,407.67L490.12,409.61L491.91,411.84L493.7,414.38L495.49,417.27L497.27,420.52L499.06,424.13L500.85,428.03L502.64,432.18L504.43,436.5L506.21,440.94L508,445.44" stroke="#8a8a8a" stroke-width="0.55"/>
<path d="M365,463.58L366.79,463.81L368.57,464.05L370.36,464.28L372.15,464.52L373.94,464.77L375.73,465.02L377.51,465.27L379.3,465.54L381.09,465.81L382.88,466.08L384.66,466.35L386.45,466.61L388.24,466.86L390.02,467.08L391.81,467.28L393.6,467.45L395.39,467.59L397.18,467.68L398.96,467.73L400.75,467.75L402.54,467.71L404.32,467.63L406.11,467.5L407.9,467.28L409.69,466.96L411.48,466.48L413.26,465.84L415.05,464.99L416.84,463.94L418.62,462.7L420.41,461.31L422.2,459.78L423.99,458.13L425.77,456.38L427.56,454.53L429.35,452.56L431.14,450.48L432.93,448.27L434.71,445.92L436.5,443.44L438.29,440.84L440.07,438.14L441.86,435.39L443.65,432.6L445.44,429.8L447.23,427.03L449.01,424.32L450.8,421.69L452.59,419.16L454.38,416.76L456.16,414.51L457.95,412.43L459.74,410.55L461.52,408.88L463.31,407.45L465.1,406.27L466.89,405.37L468.68,404.75L470.46,404.42L472.25,404.4L474.04,404.68L475.82,405.23L477.61,406.04L479.4,407.07L481.19,408.31L482.98,409.72L484.76,411.29L486.55,412.99L488.34,414.84L490.12,416.82L491.91,418.95L493.7,421.23L495.49,423.65L497.27,426.22L499.06,428.94L500.85,431.79L502.64,434.75L504.43,437.79L506.21,440.89L508,444" stroke="#2472d4" stroke-width="1.55"/>
</g>
<line x1="365" y1="376.2" x2="365" y2="472.25" stroke="#333" stroke-width="1.1"/>
<line x1="364.45" y1="471.7" x2="508.2" y2="471.7" stroke="#333" stroke-width="1.1"/>
<line x1="361" y1="471.7" x2="365" y2="471.7" stroke="#333" stroke-width="0.9"/>
<text x="359.8" y="474.33" font-size="7.3" font-weight="bold" text-anchor="end" fill="#111" stroke="#111" stroke-width="0.2" font-family='"Liberation Sans", sans-serif' transform="translate(0 471.7) scale(1 1.1) translate(0 -471.7)" >0.0</text>
<line x1="361" y1="447.82" x2="365" y2="447.82" stroke="#333" stroke-width="0.9"/>
<text x="359.8" y="450.45" font-size="7.3" font-weight="bold" text-anchor="end" fill="#111" stroke="#111" stroke-width="0.2" font-family='"Liberation Sans", sans-serif' transform="translate(0 447.82) scale(1 1.1) translate(0 -447.82)" >0.5</text>
<line x1="361" y1="423.95" x2="365" y2="423.95" stroke="#333" stroke-width="0.9"/>
<text x="359.8" y="426.58" font-size="7.3" font-weight="bold" text-anchor="end" fill="#111" stroke="#111" stroke-width="0.2" font-family='"Liberation Sans", sans-serif' transform="translate(0 423.95) scale(1 1.1) translate(0 -423.95)" >1.0</text>
<line x1="361" y1="400.07" x2="365" y2="400.07" stroke="#333" stroke-width="0.9"/>
<text x="359.8" y="402.7" font-size="7.3" font-weight="bold" text-anchor="end" fill="#111" stroke="#111" stroke-width="0.2" font-family='"Liberation Sans", sans-serif' transform="translate(0 400.07) scale(1 1.1) translate(0 -400.07)" >1.5</text>
<line x1="361" y1="376.2" x2="365" y2="376.2" stroke="#333" stroke-width="0.9"/>
<text x="359.8" y="378.83" font-size="7.3" font-weight="bold" text-anchor="end" fill="#111" stroke="#111" stroke-width="0.2" font-family='"Liberation Sans", sans-serif' transform="translate(0 376.2) scale(1 1.1) translate(0 -376.2)" >2.0</text>
<line x1="393.6" y1="471.7" x2="393.6" y2="475.7" stroke="#333" stroke-width="0.9"/>
<text x="393.6" y="484.9" font-size="6.4" font-weight="normal" text-anchor="middle" fill="#222" font-family='"Liberation Sans", sans-serif' transform="translate(0 482.6) scale(1 1.1) translate(0 -482.6)" >20%</text>
<line x1="422.2" y1="471.7" x2="422.2" y2="475.7" stroke="#333" stroke-width="0.9"/>
<text x="422.2" y="484.9" font-size="6.4" font-weight="normal" text-anchor="middle" fill="#222" font-family='"Liberation Sans", sans-serif' transform="translate(0 482.6) scale(1 1.1) translate(0 -482.6)" >40%</text>
<line x1="450.8" y1="471.7" x2="450.8" y2="475.7" stroke="#333" stroke-width="0.9"/>
<text x="450.8" y="484.9" font-size="6.4" font-weight="normal" text-anchor="middle" fill="#222" font-family='"Liberation Sans", sans-serif' transform="translate(0 482.6) scale(1 1.1) translate(0 -482.6)" >60%</text>
<line x1="479.4" y1="471.7" x2="479.4" y2="475.7" stroke="#333" stroke-width="0.9"/>
<text x="479.4" y="484.9" font-size="6.4" font-weight="normal" text-anchor="middle" fill="#222" font-family='"Liberation Sans", sans-serif' transform="translate(0 482.6) scale(1 1.1) translate(0 -482.6)" >80%</text>
<line x1="508" y1="471.7" x2="508" y2="475.7" stroke="#333" stroke-width="0.9"/>
<text x="508" y="484.9" font-size="6.4" font-weight="normal" text-anchor="middle" fill="#222" font-family='"Liberation Sans", sans-serif' transform="translate(0 482.6) scale(1 1.1) translate(0 -482.6)" >100%</text>
<text x="342.4" y="424.6" font-size="7.81" font-weight="bold" text-anchor="middle" fill="#111" stroke="#111" stroke-width="0.2" font-family='"Liberation Sans", sans-serif' transform="translate(342.4 424.6) scale(1.1 1) rotate(-90) translate(-342.4 -424.6)" dominant-baseline="central">Muscle Activation-S3</text>
<clipPath id="c7"><rect x="32.2" y="530.2" width="162.6" height="130.9"/></clipPath>
<g clip-path="url(#c7)" fill="none" stroke-linejoin="round">
<path d="M32.2,634.87L34.08,636.17L35.97,637.46L37.85,638.74L39.73,640.01L41.61,641.26L43.5,642.48L45.38,643.66L47.26,644.82L49.14,645.93L51.03,646.99L52.91,648.02L54.79,649L56.67,649.93L58.56,650.82L60.44,651.66L62.32,652.46L64.2,653.19L66.09,653.87L67.97,654.48L69.85,655L71.73,655.44L73.62,655.78L75.5,656.02L77.38,656.15L79.26,656.16L81.15,656.07L83.03,655.88L84.91,655.58L86.79,655.2L88.68,654.73L90.56,654.17L92.44,653.53L94.32,652.82L96.21,652.02L98.09,651.11L99.97,650.1L101.85,648.96L103.74,647.69L105.62,646.27L107.5,644.69L109.38,642.97L111.27,641.14L113.15,639.22L115.03,637.25L116.91,635.24L118.8,633.24L120.68,631.26L122.56,629.32L124.44,627.4L126.33,625.48L128.21,623.52L130.09,621.49L131.97,619.36L133.86,617.11L135.74,614.69L137.62,612.11L139.5,609.41L141.39,606.64L143.27,603.85L145.15,601.09L147.03,598.41L148.92,595.86L150.8,593.49L152.68,591.32L154.56,589.34L156.45,587.54L158.33,585.91L160.21,584.42L162.09,583.07L163.98,581.85L165.86,580.74L167.74,579.77L169.62,579.01L171.5,578.52L173.39,578.36L175.27,578.58L177.15,579.13L179.04,579.91L180.92,580.86L182.8,581.89" stroke="#8a8a8a" stroke-width="0.55"/>
<path d="M32.2,642.94L34.08,642.68L35.97,642.44L37.85,642.2L39.73,641.98L41.61,641.79L43.5,641.63L45.38,641.51L47.26,641.43L49.14,641.4L51.03,641.42L52.91,641.51L54.79,641.68L56.67,641.92L58.56,642.26L60.44,642.71L62.32,643.26L64.2,643.93L66.09,644.67L67.97,645.48L69.85,646.32L71.73,647.17L73.62,648.02L75.5,648.83L77.38,649.6L79.26,650.29L81.15,650.92L83.03,651.48L84.91,651.96L86.79,652.36L88.68,652.67L90.56,652.88L92.44,653L94.32,653.02L96.21,652.94L98.09,652.73L99.97,652.41L101.85,651.97L103.74,651.39L105.62,650.67L107.5,649.8L109.38,648.8L111.27,647.66L113.15,646.39L115.03,645L116.91,643.51L118.8,641.91L120.68,640.21L122.56,638.42L124.44,636.55L126.33,634.61L128.21,632.6L130.09,630.54L131.97,628.43L133.86,626.31L135.74,624.18L137.62,622.07L139.5,619.99L141.39,617.96L143.27,616.01L145.15,614.13L147.03,612.34L148.92,610.61L150.8,608.96L152.68,607.37L154.56,605.84L156.45,604.38L158.33,602.97L160.21,601.61L162.09,600.3L163.98,599.04L165.86,597.81L167.74,596.62L169.62,595.47L171.5,594.34L173.39,593.24L175.27,592.16L177.15,591.09L179.04,590.04L180.92,588.99L182.8,587.95" stroke="#8a8a8a" stroke-width="0.55"/>
<path d="M32.2,645.97L34.08,645.21L35.97,644.51L37.85,643.88L39.73,643.38L41.61,643.05L43.5,642.93L45.38,643.06L47.26,643.4L49.14,643.91L51.03,644.54L52.91,645.24L54.79,645.97L56.67,646.67L58.56,647.35L60.44,648L62.32,648.63L64.2,649.25L66.09,649.85L67.97,650.44L69.85,651.01L71.73,651.58L73.62,652.13L75.5,652.67L77.38,653.19L79.26,653.69L81.15,654.17L83.03,654.62L84.91,655.05L86.79,655.43L88.68,655.77L90.56,656.01L92.44,656.15L94.32,656.15L96.21,655.98L98.09,655.62L99.97,655.05L101.85,654.24L103.74,653.22L105.62,652.05L107.5,650.74L109.38,649.35L111.27,647.91L113.15,646.44L115.03,644.93L116.91,643.38L118.8,641.78L120.68,640.12L122.56,638.4L124.44,636.6L126.33,634.74L128.21,632.83L130.09,630.88L131.97,628.89L133.86,626.89L135.74,624.88L137.62,622.87L139.5,620.87L141.39,618.91L143.27,616.98L145.15,615.11L147.03,613.3L148.92,611.58L150.8,609.94L152.68,608.4L154.56,606.96L156.45,605.6L158.33,604.33L160.21,603.13L162.09,602.01L163.98,600.96L165.86,599.98L167.74,599.05L169.62,598.18L171.5,597.35L173.39,596.56L175.27,595.81L177.15,595.08L179.04,594.37L180.92,593.68L182.8,592.99" stroke="#8a8a8a" stroke-width="0.55"/>
<path d="M32.2,657.57L34.08,656.78L35.97,655.97L37.85,655.14L39.73,654.26L41.61,653.34L43.5,652.35L45.38,651.28L47.26,650.12L49.14,648.89L51.03,647.63L52.91,646.41L54.79,645.28L56.67,644.3L58.56,643.54L60.44,643.05L62.32,642.89L64.2,643.04L66.09,643.45L67.97,644.04L69.85,644.75L71.73,645.51L73.62,646.26L75.5,646.96L77.38,647.62L79.26,648.24L81.15,648.86L83.03,649.46L84.91,650.06L86.79,650.68L88.68,651.32L90.56,651.99L92.44,652.71L94.32,653.45L96.21,654.19L98.09,654.93L99.97,655.63L101.85,656.28L103.74,656.86L105.62,657.34L107.5,657.73L109.38,658.02L111.27,658.2L113.15,658.28L115.03,658.26L116.91,658.13L118.8,657.9L120.68,657.55L122.56,657.09L124.44,656.5L126.33,655.72L128.21,654.75L130.09,653.53L131.97,652.07L133.86,650.39L135.74,648.55L137.62,646.62L139.5,644.63L141.39,642.66L143.27,640.71L145.15,638.78L147.03,636.85L148.92,634.89L150.8,632.89L152.68,630.83L154.56,628.69L156.45,626.5L158.33,624.27L160.21,622.02L162.09,619.79L163.98,617.58L165.86,615.42L167.74,613.32L169.62,611.32L171.5,609.41L173.39,607.62L175.27,605.96L177.15,604.46L179.04,603.08L180.92,601.8L182.8,600.56" stroke="#8a8a8a" stroke-width="0.55"/>
<path d="M32.2,656.06L34.08,656.03L35.97,656.01L37.85,655.99L39.73,655.98L41.61,655.98L43.5,655.99L45.38,656.01L47.26,656.06L49.14,656.11L51.03,656.19L52.91,656.29L54.79,656.41L56.67,656.54L58.56,656.7L60.44,656.87L62.32,657.06L64.2,657.28L66.09,657.5L67.97,657.73L69.85,657.94L71.73,658.15L73.62,658.33L75.5,658.47L77.38,658.58L79.26,658.63L81.15,658.65L83.03,658.64L84.91,658.61L86.79,658.58L88.68,658.56L90.56,658.55L92.44,658.58L94.32,658.64L96.21,658.74L98.09,658.86L99.97,659L101.85,659.15L103.74,659.3L105.62,659.45L107.5,659.59L109.38,659.7L111.27,659.79L113.15,659.85L115.03,659.88L116.91,659.87L118.8,659.82L120.68,659.73L122.56,659.59L124.44,659.39L126.33,659.15L128.21,658.87L130.09,658.56L131.97,658.22L133.86,657.86L135.74,657.49L137.62,657.1L139.5,656.61L141.39,655.95L143.27,655.07L145.15,653.89L147.03,652.33L148.92,650.33L150.8,647.82L152.68,644.8L154.56,641.32L156.45,637.47L158.33,633.31L160.21,628.92L162.09,624.36L163.98,619.74L165.86,615.24L167.74,611.02L169.62,607.29L171.5,604.21L173.39,601.94L175.27,600.44L177.15,599.56L179.04,599.13L180.92,599.01L182.8,599.05" stroke="#8a8a8a" stroke-width="0.55"/>
<path d="M32.2,658.58L34.08,658.55L35.97,658.52L37.85,658.5L39.73,658.48L41.61,658.46L43.5,658.45L45.38,658.45L47.26,658.45L49.14,658.47L51.03,658.49L52.91,658.53L54.79,658.58L56.67,658.64L58.56,658.72L60.44,658.81L62.32,658.91L64.2,659.02L66.09,659.15L67.97,659.28L69.85,659.42L71.73,659.58L73.62,659.74L75.5,659.91L77.38,660.09L79.26,660.28L81.15,660.46L83.03,660.64L84.91,660.81L86.79,660.97L88.68,661.1L90.56,661.2L92.44,661.27L94.32,661.3L96.21,661.29L98.09,661.22L99.97,661.1L101.85,660.92L103.74,660.7L105.62,660.45L107.5,660.22L109.38,660L111.27,659.84L113.15,659.75L115.03,659.74L116.91,659.86L118.8,660.1L120.68,660.51L122.56,661.1L124.44,661.87L126.33,662.74L128.21,663.61L130.09,664.36L131.97,664.91L133.86,665.14L135.74,664.95L137.62,664.24L139.5,662.9L141.39,660.84L143.27,657.94L145.15,654.21L147.03,649.8L148.92,644.88L150.8,639.61L152.68,634.14L154.56,628.66L156.45,623.31L158.33,618.25L160.21,613.54L162.09,609.11L163.98,604.94L165.86,600.97L167.74,597.16L169.62,593.46L171.5,589.82L173.39,586.21L175.27,582.62L177.15,579.02L179.04,575.44L180.92,571.85L182.8,568.27" stroke="#8a8a8a" stroke-width="0.55"/>
<path d="M32.2,651.01L34.08,650.71L35.97,650.41L37.85,650.1L39.73,649.79L41.61,649.48L43.5,649.16L45.38,648.83L47.26,648.49L49.14,648.14L51.03,647.8L52.91,647.49L54.79,647.22L56.67,647.02L58.56,646.89L60.44,646.87L62.32,646.97L64.2,647.21L66.09,647.56L67.97,648.01L69.85,648.53L71.73,649.12L73.62,649.74L75.5,650.38L77.38,651.01L79.26,651.62L81.15,652.21L83.03,652.76L84.91,653.29L86.79,653.78L88.68,654.24L90.56,654.66L92.44,655.05L94.32,655.39L96.21,655.68L98.09,655.92L99.97,656.09L101.85,656.2L103.74,656.24L105.62,656.19L107.5,656.06L109.38,655.83L111.27,655.5L113.15,655.06L115.03,654.51L116.91,653.83L118.8,653.03L120.68,652.09L122.56,651.01L124.44,649.78L126.33,648.43L128.21,646.95L130.09,645.38L131.97,643.72L133.86,641.99L135.74,640.21L137.62,638.4L139.5,636.56L141.39,634.71L143.27,632.84L145.15,630.95L147.03,629.05L148.92,627.13L150.8,625.2L152.68,623.26L154.56,621.31L156.45,619.35L158.33,617.37L160.21,615.4L162.09,613.42L163.98,611.44L165.86,609.47L167.74,607.58L169.62,605.91L171.5,604.6L173.39,603.78L175.27,603.59L177.15,604.03L179.04,604.96L180.92,606.21L182.8,607.62" stroke="#8a8a8a" stroke-width="0.55"/>
<path d="M32.2,653.53L34.08,653.8L35.97,654.08L37.85,654.36L39.73,654.66L41.61,654.97L43.5,655.31L45.38,655.67L47.26,656.06L49.14,656.47L51.03,656.9L52.91,657.33L54.79,657.72L56.67,658.06L58.56,658.33L60.44,658.51L62.32,658.58L64.2,658.51L66.09,658.34L67.97,658.07L69.85,657.72L71.73,657.33L73.62,656.91L75.5,656.48L77.38,656.06L79.26,655.66L81.15,655.3L83.03,654.97L84.91,654.65L86.79,654.35L88.68,654.07L90.56,653.8L92.44,653.53L94.32,653.27L96.21,653L98.09,652.73L99.97,652.44L101.85,652.12L103.74,651.79L105.62,651.42L107.5,651.01L109.38,650.56L111.27,650.06L113.15,649.52L115.03,648.92L116.91,648.27L118.8,647.56L120.68,646.79L122.56,645.97L124.44,645.07L126.33,644.1L128.21,643.04L130.09,641.87L131.97,640.58L133.86,639.16L135.74,637.6L137.62,635.88L139.5,633.99L141.39,631.95L143.27,629.8L145.15,627.55L147.03,625.25L148.92,622.9L150.8,620.55L152.68,618.22L154.56,615.93L156.45,613.71L158.33,611.58L160.21,609.57L162.09,607.69L163.98,605.96L165.86,604.42L167.74,603.08L169.62,601.96L171.5,601.03L173.39,600.28L175.27,599.66L177.15,599.16L179.04,598.74L180.92,598.37L182.8,598.04" stroke="#8a8a8a" stroke-width="0.55"/>
<path d="M32.2,648.49L34.08,648.94L35.97,649.38L37.85,649.79L39.73,650.16L41.61,650.48L43.5,650.74L45.38,650.92L47.26,651.01L49.14,651L51.03,650.91L52.91,650.77L54.79,650.59L56.67,650.4L58.56,650.22L60.44,650.08L62.32,650L64.2,650L66.09,650.08L67.97,650.23L69.85,650.45L71.73,650.75L73.62,651.11L75.5,651.54L77.38,652.02L79.26,652.56L81.15,653.13L83.03,653.71L84.91,654.29L86.79,654.83L88.68,655.32L90.56,655.74L92.44,656.06L94.32,656.26L96.21,656.36L98.09,656.35L99.97,656.24L101.85,656.06L103.74,655.79L105.62,655.45L107.5,655.05L109.38,654.58L111.27,654.05L113.15,653.43L115.03,652.71L116.91,651.87L118.8,650.9L120.68,649.78L122.56,648.49L124.44,647.02L126.33,645.4L128.21,643.63L130.09,641.74L131.97,639.75L133.86,637.67L135.74,635.53L137.62,633.35L139.5,631.15L141.39,628.92L143.27,626.7L145.15,624.47L147.03,622.24L148.92,620.04L150.8,617.85L152.68,615.7L154.56,613.58L156.45,611.51L158.33,609.49L160.21,607.54L162.09,605.66L163.98,603.87L165.86,602.16L167.74,600.56L169.62,599.06L171.5,597.66L173.39,596.33L175.27,595.08L177.15,593.88L179.04,592.72L180.92,591.59L182.8,590.47" stroke="#8a8a8a" stroke-width="0.55"/>
<path d="M32.2,651.01L34.08,651.21L35.97,651.41L37.85,651.61L39.73,651.81L41.61,652.01L43.5,652.2L45.38,652.39L47.26,652.58L49.14,652.77L51.03,652.96L52.91,653.15L54.79,653.34L56.67,653.53L58.56,653.74L60.44,653.94L62.32,654.16L64.2,654.39L66.09,654.62L67.97,654.87L69.85,655.13L71.73,655.39L73.62,655.68L75.5,655.97L77.38,656.28L79.26,656.58L81.15,656.88L83.03,657.14L84.91,657.36L86.79,657.52L88.68,657.6L90.56,657.6L92.44,657.53L94.32,657.41L96.21,657.25L98.09,657.06L99.97,656.85L101.85,656.62L103.74,656.38L105.62,656.11L107.5,655.82L109.38,655.49L111.27,655.11L113.15,654.67L115.03,654.15L116.91,653.54L118.8,652.82L120.68,651.98L122.56,651.02L124.44,649.93L126.33,648.71L128.21,647.39L130.09,645.96L131.97,644.42L133.86,642.79L135.74,641.07L137.62,639.27L139.5,637.38L141.39,635.41L143.27,633.35L145.15,631.2L147.03,628.96L148.92,626.63L150.8,624.2L152.68,621.71L154.56,619.16L156.45,616.61L158.33,614.08L160.21,611.61L162.09,609.23L163.98,606.97L165.86,604.87L167.74,602.95L169.62,601.23L171.5,599.71L173.39,598.43L175.27,597.38L177.15,596.58L179.04,595.95L180.92,595.45L182.8,595.01" stroke="#e0505e" stroke-width="1.55"/>
</g>
<line x1="32.2" y1="560.2" x2="32.2" y2="661.65" stroke="#333" stroke-width="1.1"/>
<line x1="31.65" y1="661.1" x2="183" y2="661.1" stroke="#333" stroke-width="1.1"/>
<line x1="28.2" y1="661.1" x2="32.2" y2="661.1" stroke="#333" stroke-width="0.9"/>
<text x="27" y="663.98" font-size="8" font-weight="bold" text-anchor="end" fill="#111" stroke="#111" stroke-width="0.2" font-family='"Liberation Sans", sans-serif' transform="translate(0 661.1) scale(1 1.1) translate(0 -661.1)" >0.0</text>
<line x1="28.2" y1="635.88" x2="32.2" y2="635.88" stroke="#333" stroke-width="0.9"/>
<text x="27" y="638.75" font-size="8" font-weight="bold" text-anchor="end" fill="#111" stroke="#111" stroke-width="0.2" font-family='"Liberation Sans", sans-serif' transform="translate(0 635.88) scale(1 1.1) translate(0 -635.88)" >0.5</text>
<line x1="28.2" y1="610.65" x2="32.2" y2="610.65" stroke="#333" stroke-width="0.9"/>
<text x="27" y="613.53" font-size="8" font-weight="bold" text-anchor="end" fill="#111" stroke="#111" stroke-width="0.2" font-family='"Liberation Sans", sans-serif' transform="translate(0 610.65) scale(1 1.1) translate(0 -610.65)" >1.0</text>
<line x1="28.2" y1="585.42" x2="32.2" y2="585.42" stroke="#333" stroke-width="0.9"/>
<text x="27" y="588.3" font-size="8" font-weight="bold" text-anchor="end" fill="#111" stroke="#111" stroke-width="0.2" font-family='"Liberation Sans", sans-serif' transform="translate(0 585.42) scale(1 1.1) translate(0 -585.42)" >1.5</text>
<line x1="28.2" y1="560.2" x2="32.2" y2="560.2" stroke="#333" stroke-width="0.9"/>
<text x="27" y="563.08" font-size="8" font-weight="bold" text-anchor="end" fill="#111" stroke="#111" stroke-width="0.2" font-family='"Liberation Sans", sans-serif' transform="translate(0 560.2) scale(1 1.1) translate(0 -560.2)" >2.0</text>
<line x1="62.32" y1="661.1" x2="62.32" y2="665.1" stroke="#333" stroke-width="0.9"/>
<text x="62.32" y="675.18" font-size="6.9" font-weight="normal" text-anchor="middle" fill="#222" font-family='"Liberation Sans", sans-serif' transform="translate(0 672.7) scale(1 1.1) translate(0 -672.7)" >20%</text>
<line x1="92.44" y1="661.1" x2="92.44" y2="665.1" stroke="#333" stroke-width="0.9"/>
<text x="92.44" y="675.18" font-size="6.9" font-weight="normal" text-anchor="middle" fill="#222" font-family='"Liberation Sans", sans-serif' transform="translate(0 672.7) scale(1 1.1) translate(0 -672.7)" >40%</text>
<line x1="122.56" y1="661.1" x2="122.56" y2="665.1" stroke="#333" stroke-width="0.9"/>
<text x="122.56" y="675.18" font-size="6.9" font-weight="normal" text-anchor="middle" fill="#222" font-family='"Liberation Sans", sans-serif' transform="translate(0 672.7) scale(1 1.1) translate(0 -672.7)" >60%</text>
<line x1="152.68" y1="661.1" x2="152.68" y2="665.1" stroke="#333" stroke-width="0.9"/>
<text x="152.68" y="675.18" font-size="6.9" font-weight="normal" text-anchor="middle" fill="#222" font-family='"Liberation Sans", sans-serif' transform="translate(0 672.7) scale(1 1.1) translate(0 -672.7)" >80%</text>
<line x1="182.8" y1="661.1" x2="182.8" y2="665.1" stroke="#333" stroke-width="0.9"/>
<text x="182.8" y="675.18" font-size="6.9" font-weight="normal" text-anchor="middle" fill="#222" font-family='"Liberation Sans", sans-serif' transform="translate(0 672.7) scale(1 1.1) translate(0 -672.7)" >100%</text>
<text x="7.4" y="610.8" font-size="8.24" font-weight="bold" text-anchor="middle" fill="#111" stroke="#111" stroke-width="0.2" font-family='"Liberation Sans", sans-serif' transform="translate(7.4 610.8) scale(1.1 1) rotate(-90) translate(-7.4 -610.8)" dominant-baseline="central">Muscle Activation-S4</text>
<clipPath id="c8"><rect x="385.1" y="544.2" width="143.1" height="118.3"/></clipPath>
<g clip-path="url(#c8)" fill="none" stroke-linejoin="round">
<path d="M385.1,649.25L386.74,649.46L388.38,649.66L390.02,649.86L391.66,650.05L393.29,650.23L394.93,650.4L396.57,650.55L398.21,650.68L399.85,650.76L401.49,650.73L403.13,650.54L404.77,650.14L406.4,649.49L408.04,648.63L409.68,647.61L411.32,646.47L412.96,645.26L414.6,644.04L416.24,642.84L417.88,641.7L419.51,640.64L421.15,639.64L422.79,638.72L424.43,637.87L426.07,637.1L427.71,636.41L429.35,635.8L430.99,635.27L432.62,634.82L434.26,634.45L435.9,634.17L437.54,633.96L439.18,633.84L440.82,633.8L442.46,633.83L444.1,633.95L445.73,634.12L447.37,634.34L449.01,634.6L450.65,634.89L452.29,635.19L453.93,635.5L455.57,635.82L457.21,636.18L458.84,636.59L460.48,637.06L462.12,637.59L463.76,638.22L465.4,638.93L467.04,639.67L468.68,640.39L470.32,641.03L471.95,641.51L473.59,641.79L475.23,641.79L476.87,641.46L478.51,640.83L480.15,639.95L481.79,638.87L483.43,637.63L485.06,636.31L486.7,634.94L488.34,633.58L489.98,632.28L491.62,631.09L493.26,630.04L494.9,629.13L496.54,628.35L498.17,627.69L499.81,627.14L501.45,626.71L503.09,626.38L504.73,626.15L506.37,626.01L508.01,625.94L509.65,625.94L511.28,625.98L512.92,626.07L514.56,626.18L516.2,626.3" stroke="#8a8a8a" stroke-width="0.55"/>
<path d="M385.1,653.67L386.74,653.95L388.38,654.23L390.02,654.51L391.66,654.79L393.29,655.07L394.93,655.34L396.57,655.61L398.21,655.88L399.85,656.14L401.49,656.39L403.13,656.61L404.77,656.82L406.4,656.98L408.04,657.11L409.68,657.18L411.32,657.2L412.96,657.16L414.6,657.06L416.24,656.92L417.88,656.74L419.51,656.54L421.15,656.32L422.79,656.1L424.43,655.88L426.07,655.67L427.71,655.48L429.35,655.3L430.99,655.13L432.62,654.97L434.26,654.82L435.9,654.68L437.54,654.55L439.18,654.42L440.82,654.28L442.46,654.09L444.1,653.82L445.73,653.47L447.37,652.99L449.01,652.36L450.65,651.56L452.29,650.59L453.93,649.47L455.57,648.25L457.21,646.95L458.84,645.6L460.48,644.24L462.12,642.9L463.76,641.6L465.4,640.35L467.04,639.1L468.68,637.82L470.32,636.5L471.95,635.1L473.59,633.59L475.23,631.94L476.87,630.13L478.51,628.18L480.15,626.09L481.79,623.91L483.43,621.65L485.06,619.36L486.7,617.04L488.34,614.73L489.98,612.44L491.62,610.2L493.26,607.99L494.9,605.83L496.54,603.71L498.17,601.64L499.81,599.62L501.45,597.65L503.09,595.74L504.73,593.88L506.37,592.06L508.01,590.28L509.65,588.53L511.28,586.8L512.92,585.09L514.56,583.4L516.2,581.71" stroke="#8a8a8a" stroke-width="0.55"/>
<path d="M385.1,658.09L386.74,657.98L388.38,657.88L390.02,657.77L391.66,657.66L393.29,657.55L394.93,657.44L396.57,657.32L398.21,657.2L399.85,657.08L401.49,656.94L403.13,656.8L404.77,656.65L406.4,656.48L408.04,656.3L409.68,656.1L411.32,655.88L412.96,655.64L414.6,655.38L416.24,655.11L417.88,654.83L419.51,654.54L421.15,654.25L422.79,653.96L424.43,653.67L426.07,653.39L427.71,653.12L429.35,652.85L430.99,652.58L432.62,652.31L434.26,652.03L435.9,651.75L437.54,651.46L439.18,651.16L440.82,650.85L442.46,650.55L444.1,650.25L445.73,649.97L447.37,649.7L449.01,649.46L450.65,649.25L452.29,649.08L453.93,648.91L455.57,648.71L457.21,648.44L458.84,648.08L460.48,647.57L462.12,646.9L463.76,646.02L465.4,644.94L467.04,643.68L468.68,642.27L470.32,640.74L471.95,639.1L473.59,637.38L475.23,635.6L476.87,633.8L478.51,631.99L480.15,630.18L481.79,628.35L483.43,626.52L485.06,624.67L486.7,622.8L488.34,620.92L489.98,619.02L491.62,617.11L493.26,615.19L494.9,613.26L496.54,611.33L498.17,609.41L499.81,607.5L501.45,605.61L503.09,603.74L504.73,601.88L506.37,600.04L508.01,598.22L509.65,596.4L511.28,594.6L512.92,592.8L514.56,591L516.2,589.21" stroke="#8a8a8a" stroke-width="0.55"/>
<path d="M385.1,660.73L386.74,660.81L388.38,660.88L390.02,660.93L391.66,660.95L393.29,660.94L394.93,660.88L396.57,660.76L398.21,660.59L399.85,660.35L401.49,660.06L403.13,659.72L404.77,659.34L406.4,658.93L408.04,658.49L409.68,658.03L411.32,657.56L412.96,657.1L414.6,656.66L416.24,656.26L417.88,655.92L419.51,655.66L421.15,655.49L422.79,655.43L424.43,655.49L426.07,655.66L427.71,655.94L429.35,656.3L430.99,656.75L432.62,657.26L434.26,657.84L435.9,658.47L437.54,659.11L439.18,659.72L440.82,660.26L442.46,660.66L444.1,660.88L445.73,660.87L447.37,660.58L449.01,660.04L450.65,659.32L452.29,658.53L453.93,657.78L455.57,657.15L457.21,656.76L458.84,656.67L460.48,656.82L462.12,657.13L463.76,657.52L465.4,657.9L467.04,658.18L468.68,658.34L470.32,658.39L471.95,658.35L473.59,658.25L475.23,658.12L476.87,657.95L478.51,657.69L480.15,657.22L481.79,656.43L483.43,655.21L485.06,653.5L486.7,651.36L488.34,648.9L489.98,646.18L491.62,643.31L493.26,640.36L494.9,637.43L496.54,634.57L498.17,631.76L499.81,628.96L501.45,626.14L503.09,623.26L504.73,620.28L506.37,617.17L508.01,613.88L509.65,610.41L511.28,606.79L512.92,603.05L514.56,599.24L516.2,595.39" stroke="#333" stroke-width="0.55"/>
<path d="M385.1,660.29L386.74,660.33L388.38,660.36L390.02,660.38L391.66,660.4L393.29,660.4L394.93,660.38L396.57,660.35L398.21,660.29L399.85,660.21L401.49,660.1L403.13,659.97L404.77,659.82L406.4,659.64L408.04,659.44L409.68,659.21L411.32,658.97L412.96,658.7L414.6,658.43L416.24,658.15L417.88,657.89L419.51,657.65L421.15,657.45L422.79,657.3L424.43,657.2L426.07,657.17L427.71,657.2L429.35,657.28L430.99,657.4L432.62,657.55L434.26,657.73L435.9,657.91L437.54,658.09L439.18,658.26L440.82,658.41L442.46,658.56L444.1,658.68L445.73,658.79L447.37,658.87L449.01,658.93L450.65,658.97L452.29,658.97L453.93,658.91L455.57,658.77L457.21,658.52L458.84,658.14L460.48,657.58L462.12,656.84L463.76,655.88L465.4,654.7L467.04,653.4L468.68,652.14L470.32,651.03L471.95,650.06L473.59,649.18L475.23,648.33L476.87,647.46L478.51,646.51L480.15,645.42L481.79,644.13L483.43,642.6L485.06,640.83L486.7,638.88L488.34,636.76L489.98,634.51L491.62,632.16L493.26,629.76L494.9,627.33L496.54,624.9L498.17,622.49L499.81,620.1L501.45,617.76L503.09,615.45L504.73,613.21L506.37,611.04L508.01,608.94L509.65,606.93L511.28,604.98L512.92,603.08L514.56,601.21L516.2,599.37" stroke="#333" stroke-width="0.55"/>
<path d="M385.1,659.41L386.74,659.41L388.38,659.41L390.02,659.42L391.66,659.42L393.29,659.42L394.93,659.42L396.57,659.43L398.21,659.43L399.85,659.43L401.49,659.43L403.13,659.43L404.77,659.42L406.4,659.42L408.04,659.42L409.68,659.41L411.32,659.41L412.96,659.4L414.6,659.4L416.24,659.39L417.88,659.38L419.51,659.38L421.15,659.37L422.79,659.36L424.43,659.36L426.07,659.36L427.71,659.36L429.35,659.36L430.99,659.36L432.62,659.37L434.26,659.38L435.9,659.39L437.54,659.41L439.18,659.43L440.82,659.45L442.46,659.48L444.1,659.5L445.73,659.52L447.37,659.53L449.01,659.54L450.65,659.54L452.29,659.53L453.93,659.5L455.57,659.46L457.21,659.41L458.84,659.34L460.48,659.26L462.12,659.2L463.76,659.15L465.4,659.13L467.04,659.16L468.68,659.25L470.32,659.41L471.95,659.64L473.59,659.88L475.23,660.07L476.87,660.14L478.51,660.02L480.15,659.65L481.79,658.95L483.43,657.9L485.06,656.51L486.7,654.79L488.34,652.73L489.98,650.35L491.62,647.65L493.26,644.65L494.9,641.39L496.54,637.97L498.17,634.49L499.81,631.03L501.45,627.7L503.09,624.59L504.73,621.77L506.37,619.26L508.01,617.01L509.65,614.98L511.28,613.13L512.92,611.41L514.56,609.78L516.2,608.2" stroke="#8a8a8a" stroke-width="0.55"/>
<path d="M385.1,655.88L386.74,656.18L388.38,656.48L390.02,656.75L391.66,656.97L393.29,657.14L394.93,657.25L396.57,657.27L398.21,657.2L399.85,657.03L401.49,656.77L403.13,656.44L404.77,656.07L406.4,655.68L408.04,655.28L409.68,654.9L411.32,654.55L412.96,654.26L414.6,654.03L416.24,653.86L417.88,653.73L419.51,653.65L421.15,653.61L422.79,653.62L424.43,653.67L426.07,653.75L427.71,653.86L429.35,653.99L430.99,654.13L432.62,654.26L434.26,654.38L435.9,654.48L437.54,654.55L439.18,654.58L440.82,654.57L442.46,654.52L444.1,654.43L445.73,654.3L447.37,654.13L449.01,653.92L450.65,653.67L452.29,653.38L453.93,653.03L455.57,652.62L457.21,652.14L458.84,651.58L460.48,650.91L462.12,650.14L463.76,649.25L465.4,648.24L467.04,647.14L468.68,645.97L470.32,644.77L471.95,643.59L473.59,642.45L475.23,641.38L476.87,640.42L478.51,639.6L480.15,638.85L481.79,638.1L483.43,637.29L485.06,636.34L486.7,635.18L488.34,633.74L489.98,631.97L491.62,629.91L493.26,627.62L494.9,625.16L496.54,622.57L498.17,619.92L499.81,617.27L501.45,614.67L503.09,612.17L504.73,609.82L506.37,607.62L508.01,605.54L509.65,603.57L511.28,601.67L512.92,599.84L514.56,598.05L516.2,596.27" stroke="#8a8a8a" stroke-width="0.55"/>
<path d="M385.1,653.67L386.74,653.86L388.38,654.04L390.02,654.23L391.66,654.41L393.29,654.6L394.93,654.78L396.57,654.97L398.21,655.15L399.85,655.33L401.49,655.52L403.13,655.7L404.77,655.88L406.4,656.06L408.04,656.23L409.68,656.4L411.32,656.56L412.96,656.71L414.6,656.84L416.24,656.96L417.88,657.06L419.51,657.13L421.15,657.18L422.79,657.21L424.43,657.2L426.07,657.17L427.71,657.1L429.35,657.01L430.99,656.91L432.62,656.78L434.26,656.65L435.9,656.51L437.54,656.37L439.18,656.23L440.82,656.1L442.46,655.98L444.1,655.88L445.73,655.79L447.37,655.69L449.01,655.57L450.65,655.39L452.29,655.14L453.93,654.78L455.57,654.3L457.21,653.67L458.84,652.87L460.48,651.93L462.12,650.87L463.76,649.72L465.4,648.51L467.04,647.28L468.68,646.05L470.32,644.84L471.95,643.69L473.59,642.58L475.23,641.49L476.87,640.43L478.51,639.36L480.15,638.28L481.79,637.17L483.43,636.01L485.06,634.8L486.7,633.55L488.34,632.29L489.98,631.03L491.62,629.8L493.26,628.61L494.9,627.49L496.54,626.46L498.17,625.5L499.81,624.62L501.45,623.8L503.09,623.05L504.73,622.34L506.37,621.69L508.01,621.07L509.65,620.49L511.28,619.93L512.92,619.39L514.56,618.87L516.2,618.35" stroke="#8a8a8a" stroke-width="0.55"/>
<path d="M385.1,657.2L386.74,656.99L388.38,656.78L390.02,656.57L391.66,656.35L393.29,656.14L394.93,655.93L396.57,655.71L398.21,655.49L399.85,655.27L401.49,655.05L403.13,654.83L404.77,654.6L406.4,654.37L408.04,654.14L409.68,653.91L411.32,653.67L412.96,653.43L414.6,653.2L416.24,653L417.88,652.83L419.51,652.71L421.15,652.65L422.79,652.67L424.43,652.79L426.07,653L427.71,653.3L429.35,653.66L430.99,654.08L432.62,654.52L434.26,654.98L435.9,655.44L437.54,655.88L439.18,656.28L440.82,656.64L442.46,656.96L444.1,657.25L445.73,657.5L447.37,657.73L449.01,657.92L450.65,658.09L452.29,658.22L453.93,658.31L455.57,658.35L457.21,658.32L458.84,658.2L460.48,657.99L462.12,657.66L463.76,657.2L465.4,656.61L467.04,655.88L468.68,655.03L470.32,654.06L471.95,652.99L473.59,651.83L475.23,650.58L476.87,649.25L478.51,647.86L480.15,646.4L481.79,644.87L483.43,643.27L485.06,641.58L486.7,639.81L488.34,637.95L489.98,636.01L491.62,633.98L493.26,631.9L494.9,629.8L496.54,627.73L498.17,625.74L499.81,623.85L501.45,622.11L503.09,620.56L504.73,619.23L506.37,618.1L508.01,617.14L509.65,616.33L511.28,615.63L512.92,615.02L514.56,614.46L516.2,613.93" stroke="#8a8a8a" stroke-width="0.55"/>
<path d="M385.1,657.64L386.74,657.54L388.38,657.43L390.02,657.32L391.66,657.2L393.29,657.07L394.93,656.94L396.57,656.79L398.21,656.63L399.85,656.46L401.49,656.28L403.13,656.1L404.77,655.92L406.4,655.74L408.04,655.58L409.68,655.42L411.32,655.27L412.96,655.14L414.6,655.02L416.24,654.91L417.88,654.81L419.51,654.71L421.15,654.62L422.79,654.53L424.43,654.44L426.07,654.36L427.71,654.28L429.35,654.22L430.99,654.17L432.62,654.13L434.26,654.11L435.9,654.11L437.54,654.14L439.18,654.17L440.82,654.2L442.46,654.23L444.1,654.25L445.73,654.25L447.37,654.23L449.01,654.17L450.65,654.07L452.29,653.92L453.93,653.73L455.57,653.49L457.21,653.2L458.84,652.87L460.48,652.49L462.12,652.07L463.76,651.6L465.4,651.08L467.04,650.51L468.68,649.88L470.32,649.2L471.95,648.46L473.59,647.66L475.23,646.79L476.87,645.85L478.51,644.83L480.15,643.72L481.79,642.51L483.43,641.18L485.06,639.72L486.7,638.13L488.34,636.38L489.98,634.47L491.62,632.44L493.26,630.3L494.9,628.1L496.54,625.86L498.17,623.62L499.81,621.4L501.45,619.25L503.09,617.17L504.73,615.17L506.37,613.24L508.01,611.35L509.65,609.52L511.28,607.72L512.92,605.95L514.56,604.2L516.2,602.46" stroke="#2472d4" stroke-width="1.55"/>
</g>
<line x1="385.1" y1="574.2" x2="385.1" y2="663.05" stroke="#333" stroke-width="1.1"/>
<line x1="384.55" y1="662.5" x2="516.4" y2="662.5" stroke="#333" stroke-width="1.1"/>
<line x1="381.1" y1="662.5" x2="385.1" y2="662.5" stroke="#333" stroke-width="0.9"/>
<text x="379.9" y="664.91" font-size="6.7" font-weight="bold" text-anchor="end" fill="#111" stroke="#111" stroke-width="0.2" font-family='"Liberation Sans", sans-serif' transform="translate(0 662.5) scale(1 1.1) translate(0 -662.5)" >0.0</text>
<line x1="381.1" y1="640.42" x2="385.1" y2="640.42" stroke="#333" stroke-width="0.9"/>
<text x="379.9" y="642.84" font-size="6.7" font-weight="bold" text-anchor="end" fill="#111" stroke="#111" stroke-width="0.2" font-family='"Liberation Sans", sans-serif' transform="translate(0 640.42) scale(1 1.1) translate(0 -640.42)" >0.5</text>
<line x1="381.1" y1="618.35" x2="385.1" y2="618.35" stroke="#333" stroke-width="0.9"/>
<text x="379.9" y="620.76" font-size="6.7" font-weight="bold" text-anchor="end" fill="#111" stroke="#111" stroke-width="0.2" font-family='"Liberation Sans", sans-serif' transform="translate(0 618.35) scale(1 1.1) translate(0 -618.35)" >1.0</text>
<line x1="381.1" y1="596.27" x2="385.1" y2="596.27" stroke="#333" stroke-width="0.9"/>
<text x="379.9" y="598.69" font-size="6.7" font-weight="bold" text-anchor="end" fill="#111" stroke="#111" stroke-width="0.2" font-family='"Liberation Sans", sans-serif' transform="translate(0 596.27) scale(1 1.1) translate(0 -596.27)" >1.5</text>
<line x1="381.1" y1="574.2" x2="385.1" y2="574.2" stroke="#333" stroke-width="0.9"/>
<text x="379.9" y="576.61" font-size="6.7" font-weight="bold" text-anchor="end" fill="#111" stroke="#111" stroke-width="0.2" font-family='"Liberation Sans", sans-serif' transform="translate(0 574.2) scale(1 1.1) translate(0 -574.2)" >2.0</text>
<line x1="411.32" y1="662.5" x2="411.32" y2="666.5" stroke="#333" stroke-width="0.9"/>
<text x="411.32" y="675.1" font-size="6.1" font-weight="normal" text-anchor="middle" fill="#222" font-family='"Liberation Sans", sans-serif' transform="translate(0 672.9) scale(1 1.1) translate(0 -672.9)" >20%</text>
<line x1="437.54" y1="662.5" x2="437.54" y2="666.5" stroke="#333" stroke-width="0.9"/>
<text x="437.54" y="675.1" font-size="6.1" font-weight="normal" text-anchor="middle" fill="#222" font-family='"Liberation Sans", sans-serif' transform="translate(0 672.9) scale(1 1.1) translate(0 -672.9)" >40%</text>
<line x1="463.76" y1="662.5" x2="463.76" y2="666.5" stroke="#333" stroke-width="0.9"/>
<text x="463.76" y="675.1" font-size="6.1" font-weight="normal" text-anchor="middle" fill="#222" font-family='"Liberation Sans", sans-serif' transform="translate(0 672.9) scale(1 1.1) translate(0 -672.9)" >60%</text>
<line x1="489.98" y1="662.5" x2="489.98" y2="666.5" stroke="#333" stroke-width="0.9"/>
<text x="489.98" y="675.1" font-size="6.1" font-weight="normal" text-anchor="middle" fill="#222" font-family='"Liberation Sans", sans-serif' transform="translate(0 672.9) scale(1 1.1) translate(0 -672.9)" >80%</text>
<line x1="516.2" y1="662.5" x2="516.2" y2="666.5" stroke="#333" stroke-width="0.9"/>
<text x="516.2" y="675.1" font-size="6.1" font-weight="normal" text-anchor="middle" fill="#222" font-family='"Liberation Sans", sans-serif' transform="translate(0 672.9) scale(1 1.1) translate(0 -672.9)" >100%</text>
<text x="364.3" y="618.6" font-size="7.14" font-weight="bold" text-anchor="middle" fill="#111" stroke="#111" stroke-width="0.2" font-family='"Liberation Sans", sans-serif' transform="translate(364.3 618.6) scale(1.1 1) rotate(-90) translate(-364.3 -618.6)" dominant-baseline="central">Muscle Activation-S4</text>
<rect x="212.5" y="5.2" width="36.7" height="4.6" fill="#fb6262"/>
<line x1="207.9" y1="7.5" x2="212.5" y2="7.5" stroke="#222" stroke-width="1"/>
<text x="205.62" y="10.38" font-size="8" font-weight="bold" text-anchor="end" fill="#111" stroke="#111" stroke-width="0.2" font-family='"Liberation Sans", sans-serif' transform="translate(0 7.5) scale(1 1.1) translate(0 -7.5)" >TB1</text>
<circle cx="251.8" cy="7.5" r="1.2" fill="#222"/>
<rect x="212.5" y="12.65" width="20.4" height="4.6" fill="#fb6262"/>
<line x1="207.9" y1="14.95" x2="212.5" y2="14.95" stroke="#222" stroke-width="1"/>
<text x="205.62" y="17.83" font-size="8" font-weight="bold" text-anchor="end" fill="#111" stroke="#111" stroke-width="0.2" font-family='"Liberation Sans", sans-serif' transform="translate(0 14.95) scale(1 1.1) translate(0 -14.95)" >TRA1</text>
<rect x="212.5" y="20.1" width="32.3" height="4.6" fill="#fb6262"/>
<line x1="207.9" y1="22.4" x2="212.5" y2="22.4" stroke="#222" stroke-width="1"/>
<text x="205.62" y="25.28" font-size="8" font-weight="bold" text-anchor="end" fill="#111" stroke="#111" stroke-width="0.2" font-family='"Liberation Sans", sans-serif' transform="translate(0 22.4) scale(1 1.1) translate(0 -22.4)" >LD1</text>
<rect x="212.5" y="27.55" width="31.5" height="4.6" fill="#fb6262"/>
<line x1="207.9" y1="29.85" x2="212.5" y2="29.85" stroke="#222" stroke-width="1"/>
<text x="205.62" y="32.73" font-size="8" font-weight="bold" text-anchor="end" fill="#111" stroke="#111" stroke-width="0.2" font-family='"Liberation Sans", sans-serif' transform="translate(0 29.85) scale(1 1.1) translate(0 -29.85)" >RA1</text>
<rect x="212.5" y="35" width="45.9" height="4.6" fill="#fb6262"/>
<line x1="207.9" y1="37.3" x2="212.5" y2="37.3" stroke="#222" stroke-width="1"/>
<text x="205.62" y="40.18" font-size="8" font-weight="bold" text-anchor="end" fill="#111" stroke="#111" stroke-width="0.2" font-family='"Liberation Sans", sans-serif' transform="translate(0 37.3) scale(1 1.1) translate(0 -37.3)" >GM1</text>
<rect x="212.5" y="42.45" width="39.6" height="4.6" fill="#fb6262"/>
<line x1="207.9" y1="44.75" x2="212.5" y2="44.75" stroke="#222" stroke-width="1"/>
<text x="205.62" y="47.63" font-size="8" font-weight="bold" text-anchor="end" fill="#111" stroke="#111" stroke-width="0.2" font-family='"Liberation Sans", sans-serif' transform="translate(0 44.75) scale(1 1.1) translate(0 -44.75)" >RF1</text>
<rect x="212.5" y="49.9" width="31.5" height="4.6" fill="#fb6262"/>
<line x1="207.9" y1="52.2" x2="212.5" y2="52.2" stroke="#222" stroke-width="1"/>
<text x="205.62" y="55.08" font-size="8" font-weight="bold" text-anchor="end" fill="#111" stroke="#111" stroke-width="0.2" font-family='"Liberation Sans", sans-serif' transform="translate(0 52.2) scale(1 1.1) translate(0 -52.2)" >BF1</text>
<rect x="212.5" y="57.35" width="64.9" height="4.6" fill="#840000"/>
<line x1="207.9" y1="59.65" x2="212.5" y2="59.65" stroke="#222" stroke-width="1"/>
<text x="205.62" y="62.53" font-size="8" font-weight="bold" text-anchor="end" fill="#111" stroke="#111" stroke-width="0.2" font-family='"Liberation Sans", sans-serif' transform="translate(0 59.65) scale(1 1.1) translate(0 -59.65)" >TB2</text>
<rect x="212.5" y="64.8" width="19.3" height="4.6" fill="#840000"/>
<line x1="207.9" y1="67.1" x2="212.5" y2="67.1" stroke="#222" stroke-width="1"/>
<text x="205.62" y="69.98" font-size="8" font-weight="bold" text-anchor="end" fill="#111" stroke="#111" stroke-width="0.2" font-family='"Liberation Sans", sans-serif' transform="translate(0 67.1) scale(1 1.1) translate(0 -67.1)" >TRA2</text>
<rect x="212.5" y="72.25" width="24.4" height="4.6" fill="#840000"/>
<line x1="207.9" y1="74.55" x2="212.5" y2="74.55" stroke="#222" stroke-width="1"/>
<text x="205.62" y="77.43" font-size="8" font-weight="bold" text-anchor="end" fill="#111" stroke="#111" stroke-width="0.2" font-family='"Liberation Sans", sans-serif' transform="translate(0 74.55) scale(1 1.1) translate(0 -74.55)" >LD2</text>
<rect x="212.5" y="79.7" width="39.9" height="4.6" fill="#840000"/>
<line x1="207.9" y1="82" x2="212.5" y2="82" stroke="#222" stroke-width="1"/>
<text x="205.62" y="84.88" font-size="8" font-weight="bold" text-anchor="end" fill="#111" stroke="#111" stroke-width="0.2" font-family='"Liberation Sans", sans-serif' transform="translate(0 82) scale(1 1.1) translate(0 -82)" >RA2</text>
<rect x="212.5" y="87.15" width="43.3" height="4.6" fill="#840000"/>
<line x1="207.9" y1="89.45" x2="212.5" y2="89.45" stroke="#222" stroke-width="1"/>
<text x="205.62" y="92.33" font-size="8" font-weight="bold" text-anchor="end" fill="#111" stroke="#111" stroke-width="0.2" font-family='"Liberation Sans", sans-serif' transform="translate(0 89.45) scale(1 1.1) translate(0 -89.45)" >GM2</text>
<rect x="212.5" y="94.6" width="39.9" height="4.6" fill="#840000"/>
<line x1="207.9" y1="96.9" x2="212.5" y2="96.9" stroke="#222" stroke-width="1"/>
<text x="205.62" y="99.78" font-size="8" font-weight="bold" text-anchor="end" fill="#111" stroke="#111" stroke-width="0.2" font-family='"Liberation Sans", sans-serif' transform="translate(0 96.9) scale(1 1.1) translate(0 -96.9)" >RF2</text>
<rect x="212.5" y="102.05" width="48.2" height="4.6" fill="#840000"/>
<line x1="207.9" y1="104.35" x2="212.5" y2="104.35" stroke="#222" stroke-width="1"/>
<text x="205.62" y="107.23" font-size="8" font-weight="bold" text-anchor="end" fill="#111" stroke="#111" stroke-width="0.2" font-family='"Liberation Sans", sans-serif' transform="translate(0 104.35) scale(1 1.1) translate(0 -104.35)" >BF2</text>
<line x1="212.5" y1="2" x2="212.5" y2="109.55" stroke="#222" stroke-width="1.1"/>
<line x1="211.95" y1="109" x2="288.6" y2="109" stroke="#222" stroke-width="1.1"/>
<line x1="212.5" y1="109" x2="212.5" y2="113.4" stroke="#222" stroke-width="0.9"/>
<text x="212.5" y="122.81" font-size="7.8" font-weight="bold" text-anchor="middle" fill="#111" stroke="#111" stroke-width="0.2" font-family='"Liberation Sans", sans-serif' transform="translate(0 120) scale(1 1.1) translate(0 -120)" >0.0</text>
<line x1="231.4" y1="109" x2="231.4" y2="113.4" stroke="#222" stroke-width="0.9"/>
<text x="231.4" y="122.81" font-size="7.8" font-weight="bold" text-anchor="middle" fill="#111" stroke="#111" stroke-width="0.2" font-family='"Liberation Sans", sans-serif' transform="translate(0 120) scale(1 1.1) translate(0 -120)" >0.1</text>
<line x1="250.3" y1="109" x2="250.3" y2="113.4" stroke="#222" stroke-width="0.9"/>
<text x="250.3" y="122.81" font-size="7.8" font-weight="bold" text-anchor="middle" fill="#111" stroke="#111" stroke-width="0.2" font-family='"Liberation Sans", sans-serif' transform="translate(0 120) scale(1 1.1) translate(0 -120)" >0.2</text>
<line x1="269.2" y1="109" x2="269.2" y2="113.4" stroke="#222" stroke-width="0.9"/>
<text x="269.2" y="122.81" font-size="7.8" font-weight="bold" text-anchor="middle" fill="#111" stroke="#111" stroke-width="0.2" font-family='"Liberation Sans", sans-serif' transform="translate(0 120) scale(1 1.1) translate(0 -120)" >0.3</text>
<line x1="288.1" y1="109" x2="288.1" y2="113.4" stroke="#222" stroke-width="0.9"/>
<text x="288.1" y="122.81" font-size="7.8" font-weight="bold" text-anchor="middle" fill="#111" stroke="#111" stroke-width="0.2" font-family='"Liberation Sans", sans-serif' transform="translate(0 120) scale(1 1.1) translate(0 -120)" >0.4</text>
<text x="250" y="135.71" font-size="8.65" font-weight="bold" text-anchor="middle" fill="#111" stroke="#111" stroke-width="0.2" font-family='"Liberation Sans", sans-serif' transform="translate(0 132.6) scale(1 1.1) translate(0 -132.6)" >Muscle Contribution -S1</text>
<text x="311.6" y="33.02" font-size="8.4" font-weight="normal" text-anchor="middle" fill="#111" stroke="#111" stroke-width="0.2" font-family='"Liberation Sans", sans-serif' transform="translate(0 30) scale(1 1.1) translate(0 -30)" >Left</text>
<text x="311.8" y="85.12" font-size="8.4" font-weight="normal" text-anchor="middle" fill="#111" stroke="#111" stroke-width="0.2" font-family='"Liberation Sans", sans-serif' transform="translate(0 82.1) scale(1 1.1) translate(0 -82.1)" >Right</text>
<rect x="567.6" y="6.8" width="57.1" height="4.5" fill="#fcc45e"/>
<line x1="563" y1="9.05" x2="567.6" y2="9.05" stroke="#222" stroke-width="1"/>
<text x="561.15" y="11.75" font-size="7.5" font-weight="bold" text-anchor="end" fill="#111" stroke="#111" stroke-width="0.2" font-family='"Liberation Sans", sans-serif' transform="translate(0 9.05) scale(1 1.1) translate(0 -9.05)" >TB1</text>
<rect x="567.6" y="14.13" width="44.4" height="4.5" fill="#fcc45e"/>
<line x1="563" y1="16.38" x2="567.6" y2="16.38" stroke="#222" stroke-width="1"/>
<text x="561.15" y="19.08" font-size="7.5" font-weight="bold" text-anchor="end" fill="#111" stroke="#111" stroke-width="0.2" font-family='"Liberation Sans", sans-serif' transform="translate(0 16.38) scale(1 1.1) translate(0 -16.38)" >TRA1</text>
<rect x="567.6" y="21.46" width="25.3" height="4.5" fill="#fcc45e"/>
<line x1="563" y1="23.71" x2="567.6" y2="23.71" stroke="#222" stroke-width="1"/>
<text x="561.15" y="26.41" font-size="7.5" font-weight="bold" text-anchor="end" fill="#111" stroke="#111" stroke-width="0.2" font-family='"Liberation Sans", sans-serif' transform="translate(0 23.71) scale(1 1.1) translate(0 -23.71)" >LD1</text>
<rect x="567.6" y="28.79" width="20.3" height="4.5" fill="#fcc45e"/>
<line x1="563" y1="31.04" x2="567.6" y2="31.04" stroke="#222" stroke-width="1"/>
<text x="561.15" y="33.74" font-size="7.5" font-weight="bold" text-anchor="end" fill="#111" stroke="#111" stroke-width="0.2" font-family='"Liberation Sans", sans-serif' transform="translate(0 31.04) scale(1 1.1) translate(0 -31.04)" >RA1</text>
<rect x="567.6" y="36.12" width="39.8" height="4.5" fill="#fcc45e"/>
<line x1="563" y1="38.37" x2="567.6" y2="38.37" stroke="#222" stroke-width="1"/>
<text x="561.15" y="41.07" font-size="7.5" font-weight="bold" text-anchor="end" fill="#111" stroke="#111" stroke-width="0.2" font-family='"Liberation Sans", sans-serif' transform="translate(0 38.37) scale(1 1.1) translate(0 -38.37)" >GM1</text>
<rect x="567.6" y="43.45" width="72.4" height="4.5" fill="#fcc45e"/>
<line x1="563" y1="45.7" x2="567.6" y2="45.7" stroke="#222" stroke-width="1"/>
<text x="561.15" y="48.4" font-size="7.5" font-weight="bold" text-anchor="end" fill="#111" stroke="#111" stroke-width="0.2" font-family='"Liberation Sans", sans-serif' transform="translate(0 45.7) scale(1 1.1) translate(0 -45.7)" >RF1</text>
<rect x="567.6" y="50.78" width="58.8" height="4.5" fill="#fcc45e"/>
<line x1="563" y1="53.03" x2="567.6" y2="53.03" stroke="#222" stroke-width="1"/>
<text x="561.15" y="55.73" font-size="7.5" font-weight="bold" text-anchor="end" fill="#111" stroke="#111" stroke-width="0.2" font-family='"Liberation Sans", sans-serif' transform="translate(0 53.03) scale(1 1.1) translate(0 -53.03)" >BF1</text>
<rect x="567.6" y="58.11" width="61.2" height="4.5" fill="#3b8004"/>
<line x1="563" y1="60.36" x2="567.6" y2="60.36" stroke="#222" stroke-width="1"/>
<text x="561.15" y="63.06" font-size="7.5" font-weight="bold" text-anchor="end" fill="#111" stroke="#111" stroke-width="0.2" font-family='"Liberation Sans", sans-serif' transform="translate(0 60.36) scale(1 1.1) translate(0 -60.36)" >TB2</text>
<rect x="567.6" y="65.44" width="42.4" height="4.5" fill="#3b8004"/>
<line x1="563" y1="67.69" x2="567.6" y2="67.69" stroke="#222" stroke-width="1"/>
<text x="561.15" y="70.39" font-size="7.5" font-weight="bold" text-anchor="end" fill="#111" stroke="#111" stroke-width="0.2" font-family='"Liberation Sans", sans-serif' transform="translate(0 67.69) scale(1 1.1) translate(0 -67.69)" >TRA2</text>
<rect x="567.6" y="72.77" width="27.5" height="4.5" fill="#3b8004"/>
<line x1="563" y1="75.02" x2="567.6" y2="75.02" stroke="#222" stroke-width="1"/>
<text x="561.15" y="77.72" font-size="7.5" font-weight="bold" text-anchor="end" fill="#111" stroke="#111" stroke-width="0.2" font-family='"Liberation Sans", sans-serif' transform="translate(0 75.02) scale(1 1.1) translate(0 -75.02)" >LD2</text>
<rect x="567.6" y="80.1" width="19.4" height="4.5" fill="#3b8004"/>
<line x1="563" y1="82.35" x2="567.6" y2="82.35" stroke="#222" stroke-width="1"/>
<text x="561.15" y="85.05" font-size="7.5" font-weight="bold" text-anchor="end" fill="#111" stroke="#111" stroke-width="0.2" font-family='"Liberation Sans", sans-serif' transform="translate(0 82.35) scale(1 1.1) translate(0 -82.35)" >RA2</text>
<rect x="567.6" y="87.43" width="30.6" height="4.5" fill="#3b8004"/>
<line x1="563" y1="89.68" x2="567.6" y2="89.68" stroke="#222" stroke-width="1"/>
<text x="561.15" y="92.38" font-size="7.5" font-weight="bold" text-anchor="end" fill="#111" stroke="#111" stroke-width="0.2" font-family='"Liberation Sans", sans-serif' transform="translate(0 89.68) scale(1 1.1) translate(0 -89.68)" >GM2</text>
<rect x="567.6" y="94.76" width="49.2" height="4.5" fill="#3b8004"/>
<line x1="563" y1="97.01" x2="567.6" y2="97.01" stroke="#222" stroke-width="1"/>
<text x="561.15" y="99.71" font-size="7.5" font-weight="bold" text-anchor="end" fill="#111" stroke="#111" stroke-width="0.2" font-family='"Liberation Sans", sans-serif' transform="translate(0 97.01) scale(1 1.1) translate(0 -97.01)" >RF2</text>
<rect x="567.6" y="102.09" width="51.1" height="4.5" fill="#3b8004"/>
<line x1="563" y1="104.34" x2="567.6" y2="104.34" stroke="#222" stroke-width="1"/>
<text x="561.15" y="107.04" font-size="7.5" font-weight="bold" text-anchor="end" fill="#111" stroke="#111" stroke-width="0.2" font-family='"Liberation Sans", sans-serif' transform="translate(0 104.34) scale(1 1.1) translate(0 -104.34)" >BF2</text>
<line x1="567.6" y1="3.2" x2="567.6" y2="109.25" stroke="#222" stroke-width="1.1"/>
<line x1="567.05" y1="108.7" x2="655.7" y2="108.7" stroke="#222" stroke-width="1.1"/>
<line x1="567.6" y1="108.7" x2="567.6" y2="113.1" stroke="#222" stroke-width="0.9"/>
<text x="567.6" y="122.74" font-size="7.6" font-weight="bold" text-anchor="middle" fill="#111" stroke="#111" stroke-width="0.2" font-family='"Liberation Sans", sans-serif' transform="translate(0 120) scale(1 1.1) translate(0 -120)" >0.0</text>
<line x1="589.5" y1="108.7" x2="589.5" y2="113.1" stroke="#222" stroke-width="0.9"/>
<text x="589.5" y="122.74" font-size="7.6" font-weight="bold" text-anchor="middle" fill="#111" stroke="#111" stroke-width="0.2" font-family='"Liberation Sans", sans-serif' transform="translate(0 120) scale(1 1.1) translate(0 -120)" >0.1</text>
<line x1="611.4" y1="108.7" x2="611.4" y2="113.1" stroke="#222" stroke-width="0.9"/>
<text x="611.4" y="122.74" font-size="7.6" font-weight="bold" text-anchor="middle" fill="#111" stroke="#111" stroke-width="0.2" font-family='"Liberation Sans", sans-serif' transform="translate(0 120) scale(1 1.1) translate(0 -120)" >0.2</text>
<line x1="633.3" y1="108.7" x2="633.3" y2="113.1" stroke="#222" stroke-width="0.9"/>
<text x="633.3" y="122.74" font-size="7.6" font-weight="bold" text-anchor="middle" fill="#111" stroke="#111" stroke-width="0.2" font-family='"Liberation Sans", sans-serif' transform="translate(0 120) scale(1 1.1) translate(0 -120)" >0.3</text>
<line x1="655.2" y1="108.7" x2="655.2" y2="113.1" stroke="#222" stroke-width="0.9"/>
<text x="655.2" y="122.74" font-size="7.6" font-weight="bold" text-anchor="middle" fill="#111" stroke="#111" stroke-width="0.2" font-family='"Liberation Sans", sans-serif' transform="translate(0 120) scale(1 1.1) translate(0 -120)" >0.4</text>
<text x="611.05" y="134.89" font-size="8.45" font-weight="bold" text-anchor="middle" fill="#111" stroke="#111" stroke-width="0.2" font-family='"Liberation Sans", sans-serif' transform="translate(0 131.85) scale(1 1.1) translate(0 -131.85)" >Muscle Contribution -S1</text>
<text x="653" y="33.7" font-size="8.2" font-weight="normal" text-anchor="middle" fill="#111" stroke="#111" stroke-width="0.2" font-family='"Liberation Sans", sans-serif' transform="translate(0 30.75) scale(1 1.1) translate(0 -30.75)" >Left</text>
<text x="653.9" y="84.6" font-size="8.2" font-weight="normal" text-anchor="middle" fill="#111" stroke="#111" stroke-width="0.2" font-family='"Liberation Sans", sans-serif' transform="translate(0 81.65) scale(1 1.1) translate(0 -81.65)" >Right</text>
<rect x="217.5" y="188.45" width="45.3" height="4.7" fill="#fb6262"/>
<line x1="212.9" y1="190.8" x2="217.5" y2="190.8" stroke="#222" stroke-width="1"/>
<text x="210.3" y="193.54" font-size="7.6" font-weight="bold" text-anchor="end" fill="#111" stroke="#111" stroke-width="0.2" font-family='"Liberation Sans", sans-serif' transform="translate(0 190.8) scale(1 1.1) translate(0 -190.8)" >TB1</text>
<rect x="217.5" y="196.02" width="33.7" height="4.7" fill="#fb6262"/>
<line x1="212.9" y1="198.37" x2="217.5" y2="198.37" stroke="#222" stroke-width="1"/>
<text x="210.3" y="201.11" font-size="7.6" font-weight="bold" text-anchor="end" fill="#111" stroke="#111" stroke-width="0.2" font-family='"Liberation Sans", sans-serif' transform="translate(0 198.37) scale(1 1.1) translate(0 -198.37)" >TRA1</text>
<rect x="217.5" y="203.59" width="21.6" height="4.7" fill="#fb6262"/>
<line x1="212.9" y1="205.94" x2="217.5" y2="205.94" stroke="#222" stroke-width="1"/>
<text x="210.3" y="208.68" font-size="7.6" font-weight="bold" text-anchor="end" fill="#111" stroke="#111" stroke-width="0.2" font-family='"Liberation Sans", sans-serif' transform="translate(0 205.94) scale(1 1.1) translate(0 -205.94)" >LD1</text>
<rect x="217.5" y="211.16" width="34.8" height="4.7" fill="#fb6262"/>
<line x1="212.9" y1="213.51" x2="217.5" y2="213.51" stroke="#222" stroke-width="1"/>
<text x="210.3" y="216.25" font-size="7.6" font-weight="bold" text-anchor="end" fill="#111" stroke="#111" stroke-width="0.2" font-family='"Liberation Sans", sans-serif' transform="translate(0 213.51) scale(1 1.1) translate(0 -213.51)" >RA1</text>
<rect x="217.5" y="218.73" width="31.9" height="4.7" fill="#fb6262"/>
<line x1="212.9" y1="221.08" x2="217.5" y2="221.08" stroke="#222" stroke-width="1"/>
<text x="210.3" y="223.82" font-size="7.6" font-weight="bold" text-anchor="end" fill="#111" stroke="#111" stroke-width="0.2" font-family='"Liberation Sans", sans-serif' transform="translate(0 221.08) scale(1 1.1) translate(0 -221.08)" >GM1</text>
<rect x="217.5" y="226.3" width="25.1" height="4.7" fill="#fb6262"/>
<line x1="212.9" y1="228.65" x2="217.5" y2="228.65" stroke="#222" stroke-width="1"/>
<text x="210.3" y="231.39" font-size="7.6" font-weight="bold" text-anchor="end" fill="#111" stroke="#111" stroke-width="0.2" font-family='"Liberation Sans", sans-serif' transform="translate(0 228.65) scale(1 1.1) translate(0 -228.65)" >RF1</text>
<rect x="217.5" y="233.87" width="16.7" height="4.7" fill="#fb6262"/>
<line x1="212.9" y1="236.22" x2="217.5" y2="236.22" stroke="#222" stroke-width="1"/>
<text x="210.3" y="238.96" font-size="7.6" font-weight="bold" text-anchor="end" fill="#111" stroke="#111" stroke-width="0.2" font-family='"Liberation Sans", sans-serif' transform="translate(0 236.22) scale(1 1.1) translate(0 -236.22)" >BF1</text>
<circle cx="236.8" cy="236.22" r="1.14" fill="#222"/>
<rect x="217.5" y="241.44" width="63.4" height="4.7" fill="#840000"/>
<line x1="212.9" y1="243.79" x2="217.5" y2="243.79" stroke="#222" stroke-width="1"/>
<text x="210.3" y="246.53" font-size="7.6" font-weight="bold" text-anchor="end" fill="#111" stroke="#111" stroke-width="0.2" font-family='"Liberation Sans", sans-serif' transform="translate(0 243.79) scale(1 1.1) translate(0 -243.79)" >TB2</text>
<rect x="217.5" y="249.01" width="37.9" height="4.7" fill="#840000"/>
<line x1="212.9" y1="251.36" x2="217.5" y2="251.36" stroke="#222" stroke-width="1"/>
<text x="210.3" y="254.1" font-size="7.6" font-weight="bold" text-anchor="end" fill="#111" stroke="#111" stroke-width="0.2" font-family='"Liberation Sans", sans-serif' transform="translate(0 251.36) scale(1 1.1) translate(0 -251.36)" >TRA2</text>
<rect x="217.5" y="256.58" width="28.1" height="4.7" fill="#840000"/>
<line x1="212.9" y1="258.93" x2="217.5" y2="258.93" stroke="#222" stroke-width="1"/>
<text x="210.3" y="261.67" font-size="7.6" font-weight="bold" text-anchor="end" fill="#111" stroke="#111" stroke-width="0.2" font-family='"Liberation Sans", sans-serif' transform="translate(0 258.93) scale(1 1.1) translate(0 -258.93)" >LD2</text>
<rect x="217.5" y="264.15" width="41.5" height="4.7" fill="#840000"/>
<line x1="212.9" y1="266.5" x2="217.5" y2="266.5" stroke="#222" stroke-width="1"/>
<text x="210.3" y="269.24" font-size="7.6" font-weight="bold" text-anchor="end" fill="#111" stroke="#111" stroke-width="0.2" font-family='"Liberation Sans", sans-serif' transform="translate(0 266.5) scale(1 1.1) translate(0 -266.5)" >RA2</text>
<rect x="217.5" y="271.72" width="39.5" height="4.7" fill="#840000"/>
<line x1="212.9" y1="274.07" x2="217.5" y2="274.07" stroke="#222" stroke-width="1"/>
<text x="210.3" y="276.81" font-size="7.6" font-weight="bold" text-anchor="end" fill="#111" stroke="#111" stroke-width="0.2" font-family='"Liberation Sans", sans-serif' transform="translate(0 274.07) scale(1 1.1) translate(0 -274.07)" >GM2</text>
<rect x="217.5" y="279.29" width="19.1" height="4.7" fill="#840000"/>
<line x1="212.9" y1="281.64" x2="217.5" y2="281.64" stroke="#222" stroke-width="1"/>
<text x="210.3" y="284.38" font-size="7.6" font-weight="bold" text-anchor="end" fill="#111" stroke="#111" stroke-width="0.2" font-family='"Liberation Sans", sans-serif' transform="translate(0 281.64) scale(1 1.1) translate(0 -281.64)" >RF2</text>
<rect x="217.5" y="286.86" width="38.5" height="4.7" fill="#840000"/>
<line x1="212.9" y1="289.21" x2="217.5" y2="289.21" stroke="#222" stroke-width="1"/>
<text x="210.3" y="291.95" font-size="7.6" font-weight="bold" text-anchor="end" fill="#111" stroke="#111" stroke-width="0.2" font-family='"Liberation Sans", sans-serif' transform="translate(0 289.21) scale(1 1.1) translate(0 -289.21)" >BF2</text>
<line x1="217.5" y1="183.5" x2="217.5" y2="294.55" stroke="#222" stroke-width="1.1"/>
<line x1="216.95" y1="294" x2="289.8" y2="294" stroke="#222" stroke-width="1.1"/>
<line x1="217.5" y1="294" x2="217.5" y2="298.4" stroke="#222" stroke-width="0.9"/>
<text x="217.5" y="308.12" font-size="8.1" font-weight="bold" text-anchor="middle" fill="#111" stroke="#111" stroke-width="0.2" font-family='"Liberation Sans", sans-serif' transform="translate(0 305.2) scale(1 1.1) translate(0 -305.2)" >0.0</text>
<line x1="235.45" y1="294" x2="235.45" y2="298.4" stroke="#222" stroke-width="0.9"/>
<text x="235.45" y="308.12" font-size="8.1" font-weight="bold" text-anchor="middle" fill="#111" stroke="#111" stroke-width="0.2" font-family='"Liberation Sans", sans-serif' transform="translate(0 305.2) scale(1 1.1) translate(0 -305.2)" >0.1</text>
<line x1="253.4" y1="294" x2="253.4" y2="298.4" stroke="#222" stroke-width="0.9"/>
<text x="253.4" y="308.12" font-size="8.1" font-weight="bold" text-anchor="middle" fill="#111" stroke="#111" stroke-width="0.2" font-family='"Liberation Sans", sans-serif' transform="translate(0 305.2) scale(1 1.1) translate(0 -305.2)" >0.2</text>
<line x1="271.35" y1="294" x2="271.35" y2="298.4" stroke="#222" stroke-width="0.9"/>
<text x="271.35" y="308.12" font-size="8.1" font-weight="bold" text-anchor="middle" fill="#111" stroke="#111" stroke-width="0.2" font-family='"Liberation Sans", sans-serif' transform="translate(0 305.2) scale(1 1.1) translate(0 -305.2)" >0.3</text>
<line x1="289.3" y1="294" x2="289.3" y2="298.4" stroke="#222" stroke-width="0.9"/>
<text x="289.3" y="308.12" font-size="8.1" font-weight="bold" text-anchor="middle" fill="#111" stroke="#111" stroke-width="0.2" font-family='"Liberation Sans", sans-serif' transform="translate(0 305.2) scale(1 1.1) translate(0 -305.2)" >0.4</text>
<text x="253.95" y="320.77" font-size="8.8" font-weight="bold" text-anchor="middle" fill="#111" stroke="#111" stroke-width="0.2" font-family='"Liberation Sans", sans-serif' transform="translate(0 317.6) scale(1 1.1) translate(0 -317.6)" >Muscle Contribution -S2</text>
<text x="311.95" y="216.74" font-size="8.45" font-weight="normal" text-anchor="middle" fill="#111" stroke="#111" stroke-width="0.2" font-family='"Liberation Sans", sans-serif' transform="translate(0 213.7) scale(1 1.1) translate(0 -213.7)" >Left</text>
<text x="312.05" y="269.54" font-size="8.45" font-weight="normal" text-anchor="middle" fill="#111" stroke="#111" stroke-width="0.2" font-family='"Liberation Sans", sans-serif' transform="translate(0 266.5) scale(1 1.1) translate(0 -266.5)" >Right</text>
<rect x="563.8" y="206.95" width="48.2" height="4.2" fill="#fcc45e"/>
<line x1="559.2" y1="209.05" x2="563.8" y2="209.05" stroke="#222" stroke-width="1"/>
<text x="557.78" y="211.57" font-size="7" font-weight="bold" text-anchor="end" fill="#111" stroke="#111" stroke-width="0.2" font-family='"Liberation Sans", sans-serif' transform="translate(0 209.05) scale(1 1.1) translate(0 -209.05)" >TB1</text>
<rect x="563.8" y="213.64" width="58.9" height="4.2" fill="#fcc45e"/>
<line x1="559.2" y1="215.74" x2="563.8" y2="215.74" stroke="#222" stroke-width="1"/>
<text x="557.78" y="218.26" font-size="7" font-weight="bold" text-anchor="end" fill="#111" stroke="#111" stroke-width="0.2" font-family='"Liberation Sans", sans-serif' transform="translate(0 215.74) scale(1 1.1) translate(0 -215.74)" >TRA1</text>
<rect x="563.8" y="220.33" width="48.7" height="4.2" fill="#fcc45e"/>
<line x1="559.2" y1="222.43" x2="563.8" y2="222.43" stroke="#222" stroke-width="1"/>
<text x="557.78" y="224.95" font-size="7" font-weight="bold" text-anchor="end" fill="#111" stroke="#111" stroke-width="0.2" font-family='"Liberation Sans", sans-serif' transform="translate(0 222.43) scale(1 1.1) translate(0 -222.43)" >LD1</text>
<rect x="563.8" y="227.02" width="38.3" height="4.2" fill="#fcc45e"/>
<line x1="559.2" y1="229.12" x2="563.8" y2="229.12" stroke="#222" stroke-width="1"/>
<text x="557.78" y="231.64" font-size="7" font-weight="bold" text-anchor="end" fill="#111" stroke="#111" stroke-width="0.2" font-family='"Liberation Sans", sans-serif' transform="translate(0 229.12) scale(1 1.1) translate(0 -229.12)" >RA1</text>
<rect x="563.8" y="233.71" width="37.5" height="4.2" fill="#fcc45e"/>
<line x1="559.2" y1="235.81" x2="563.8" y2="235.81" stroke="#222" stroke-width="1"/>
<text x="557.78" y="238.33" font-size="7" font-weight="bold" text-anchor="end" fill="#111" stroke="#111" stroke-width="0.2" font-family='"Liberation Sans", sans-serif' transform="translate(0 235.81) scale(1 1.1) translate(0 -235.81)" >GM1</text>
<rect x="563.8" y="240.4" width="84.6" height="4.2" fill="#fcc45e"/>
<line x1="559.2" y1="242.5" x2="563.8" y2="242.5" stroke="#222" stroke-width="1"/>
<text x="557.78" y="245.02" font-size="7" font-weight="bold" text-anchor="end" fill="#111" stroke="#111" stroke-width="0.2" font-family='"Liberation Sans", sans-serif' transform="translate(0 242.5) scale(1 1.1) translate(0 -242.5)" >RF1</text>
<circle cx="651" cy="242.5" r="1.05" fill="#222"/>
<circle cx="654.2" cy="242.5" r="1.05" fill="#222"/>
<rect x="563.8" y="247.09" width="55" height="4.2" fill="#fcc45e"/>
<line x1="559.2" y1="249.19" x2="563.8" y2="249.19" stroke="#222" stroke-width="1"/>
<text x="557.78" y="251.71" font-size="7" font-weight="bold" text-anchor="end" fill="#111" stroke="#111" stroke-width="0.2" font-family='"Liberation Sans", sans-serif' transform="translate(0 249.19) scale(1 1.1) translate(0 -249.19)" >BF1</text>
<rect x="563.8" y="253.78" width="74.9" height="4.2" fill="#3b8004"/>
<line x1="559.2" y1="255.88" x2="563.8" y2="255.88" stroke="#222" stroke-width="1"/>
<text x="557.78" y="258.4" font-size="7" font-weight="bold" text-anchor="end" fill="#111" stroke="#111" stroke-width="0.2" font-family='"Liberation Sans", sans-serif' transform="translate(0 255.88) scale(1 1.1) translate(0 -255.88)" >TB2</text>
<rect x="563.8" y="260.47" width="49.4" height="4.2" fill="#3b8004"/>
<line x1="559.2" y1="262.57" x2="563.8" y2="262.57" stroke="#222" stroke-width="1"/>
<text x="557.78" y="265.09" font-size="7" font-weight="bold" text-anchor="end" fill="#111" stroke="#111" stroke-width="0.2" font-family='"Liberation Sans", sans-serif' transform="translate(0 262.57) scale(1 1.1) translate(0 -262.57)" >TRA2</text>
<rect x="563.8" y="267.16" width="48.2" height="4.2" fill="#3b8004"/>
<line x1="559.2" y1="269.26" x2="563.8" y2="269.26" stroke="#222" stroke-width="1"/>
<text x="557.78" y="271.78" font-size="7" font-weight="bold" text-anchor="end" fill="#111" stroke="#111" stroke-width="0.2" font-family='"Liberation Sans", sans-serif' transform="translate(0 269.26) scale(1 1.1) translate(0 -269.26)" >LD2</text>
<rect x="563.8" y="273.85" width="46.5" height="4.2" fill="#3b8004"/>
<line x1="559.2" y1="275.95" x2="563.8" y2="275.95" stroke="#222" stroke-width="1"/>
<text x="557.78" y="278.47" font-size="7" font-weight="bold" text-anchor="end" fill="#111" stroke="#111" stroke-width="0.2" font-family='"Liberation Sans", sans-serif' transform="translate(0 275.95) scale(1 1.1) translate(0 -275.95)" >RA2</text>
<rect x="563.8" y="280.54" width="30" height="4.2" fill="#3b8004"/>
<line x1="559.2" y1="282.64" x2="563.8" y2="282.64" stroke="#222" stroke-width="1"/>
<text x="557.78" y="285.16" font-size="7" font-weight="bold" text-anchor="end" fill="#111" stroke="#111" stroke-width="0.2" font-family='"Liberation Sans", sans-serif' transform="translate(0 282.64) scale(1 1.1) translate(0 -282.64)" >GM2</text>
<rect x="563.8" y="287.23" width="36.8" height="4.2" fill="#3b8004"/>
<line x1="559.2" y1="289.33" x2="563.8" y2="289.33" stroke="#222" stroke-width="1"/>
<text x="557.78" y="291.85" font-size="7" font-weight="bold" text-anchor="end" fill="#111" stroke="#111" stroke-width="0.2" font-family='"Liberation Sans", sans-serif' transform="translate(0 289.33) scale(1 1.1) translate(0 -289.33)" >RF2</text>
<rect x="563.8" y="293.92" width="43.8" height="4.2" fill="#3b8004"/>
<line x1="559.2" y1="296.02" x2="563.8" y2="296.02" stroke="#222" stroke-width="1"/>
<text x="557.78" y="298.54" font-size="7" font-weight="bold" text-anchor="end" fill="#111" stroke="#111" stroke-width="0.2" font-family='"Liberation Sans", sans-serif' transform="translate(0 296.02) scale(1 1.1) translate(0 -296.02)" >BF2</text>
<line x1="563.8" y1="205" x2="563.8" y2="300.85" stroke="#222" stroke-width="1.1"/>
<line x1="563.25" y1="300.3" x2="661.1" y2="300.3" stroke="#222" stroke-width="1.1"/>
<line x1="563.8" y1="300.3" x2="563.8" y2="304.7" stroke="#222" stroke-width="0.9"/>
<text x="563.8" y="312.59" font-size="7.2" font-weight="bold" text-anchor="middle" fill="#111" stroke="#111" stroke-width="0.2" font-family='"Liberation Sans", sans-serif' transform="translate(0 310) scale(1 1.1) translate(0 -310)" >0.0</text>
<line x1="588" y1="300.3" x2="588" y2="304.7" stroke="#222" stroke-width="0.9"/>
<text x="588" y="312.59" font-size="7.2" font-weight="bold" text-anchor="middle" fill="#111" stroke="#111" stroke-width="0.2" font-family='"Liberation Sans", sans-serif' transform="translate(0 310) scale(1 1.1) translate(0 -310)" >0.1</text>
<line x1="612.2" y1="300.3" x2="612.2" y2="304.7" stroke="#222" stroke-width="0.9"/>
<text x="612.2" y="312.59" font-size="7.2" font-weight="bold" text-anchor="middle" fill="#111" stroke="#111" stroke-width="0.2" font-family='"Liberation Sans", sans-serif' transform="translate(0 310) scale(1 1.1) translate(0 -310)" >0.2</text>
<line x1="636.4" y1="300.3" x2="636.4" y2="304.7" stroke="#222" stroke-width="0.9"/>
<text x="636.4" y="312.59" font-size="7.2" font-weight="bold" text-anchor="middle" fill="#111" stroke="#111" stroke-width="0.2" font-family='"Liberation Sans", sans-serif' transform="translate(0 310) scale(1 1.1) translate(0 -310)" >0.3</text>
<line x1="660.6" y1="300.3" x2="660.6" y2="304.7" stroke="#222" stroke-width="0.9"/>
<text x="660.6" y="312.59" font-size="7.2" font-weight="bold" text-anchor="middle" fill="#111" stroke="#111" stroke-width="0.2" font-family='"Liberation Sans", sans-serif' transform="translate(0 310) scale(1 1.1) translate(0 -310)" >0.4</text>
<text x="612.2" y="323.56" font-size="7.68" font-weight="bold" text-anchor="middle" fill="#111" stroke="#111" stroke-width="0.2" font-family='"Liberation Sans", sans-serif' transform="translate(0 320.8) scale(1 1.1) translate(0 -320.8)" >Muscle Contribution -S2</text>
<text x="670" y="225.14" font-size="7.6" font-weight="normal" text-anchor="middle" fill="#111" stroke="#111" stroke-width="0.2" font-family='"Liberation Sans", sans-serif' transform="translate(0 222.4) scale(1 1.1) translate(0 -222.4)" >Left</text>
<text x="670.3" y="271.94" font-size="7.6" font-weight="normal" text-anchor="middle" fill="#111" stroke="#111" stroke-width="0.2" font-family='"Liberation Sans", sans-serif' transform="translate(0 269.2) scale(1 1.1) translate(0 -269.2)" >Right</text>
<rect x="217.3" y="381.25" width="38.8" height="4.7" fill="#fb6262"/>
<line x1="212.7" y1="383.6" x2="217.3" y2="383.6" stroke="#222" stroke-width="1"/>
<text x="210.42" y="386.48" font-size="8" font-weight="bold" text-anchor="end" fill="#111" stroke="#111" stroke-width="0.2" font-family='"Liberation Sans", sans-serif' transform="translate(0 383.6) scale(1 1.1) translate(0 -383.6)" >TB1</text>
<rect x="217.3" y="388.79" width="53.4" height="4.7" fill="#fb6262"/>
<line x1="212.7" y1="391.14" x2="217.3" y2="391.14" stroke="#222" stroke-width="1"/>
<text x="210.42" y="394.02" font-size="8" font-weight="bold" text-anchor="end" fill="#111" stroke="#111" stroke-width="0.2" font-family='"Liberation Sans", sans-serif' transform="translate(0 391.14) scale(1 1.1) translate(0 -391.14)" >TRA1</text>
<circle cx="273.3" cy="391.14" r="1.2" fill="#222"/>
<rect x="217.3" y="396.33" width="60.9" height="4.7" fill="#fb6262"/>
<line x1="212.7" y1="398.68" x2="217.3" y2="398.68" stroke="#222" stroke-width="1"/>
<text x="210.42" y="401.56" font-size="8" font-weight="bold" text-anchor="end" fill="#111" stroke="#111" stroke-width="0.2" font-family='"Liberation Sans", sans-serif' transform="translate(0 398.68) scale(1 1.1) translate(0 -398.68)" >LD1</text>
<rect x="217.3" y="403.87" width="32.2" height="4.7" fill="#fb6262"/>
<line x1="212.7" y1="406.22" x2="217.3" y2="406.22" stroke="#222" stroke-width="1"/>
<text x="210.42" y="409.1" font-size="8" font-weight="bold" text-anchor="end" fill="#111" stroke="#111" stroke-width="0.2" font-family='"Liberation Sans", sans-serif' transform="translate(0 406.22) scale(1 1.1) translate(0 -406.22)" >RA1</text>
<rect x="217.3" y="411.41" width="41.6" height="4.7" fill="#fb6262"/>
<line x1="212.7" y1="413.76" x2="217.3" y2="413.76" stroke="#222" stroke-width="1"/>
<text x="210.42" y="416.64" font-size="8" font-weight="bold" text-anchor="end" fill="#111" stroke="#111" stroke-width="0.2" font-family='"Liberation Sans", sans-serif' transform="translate(0 413.76) scale(1 1.1) translate(0 -413.76)" >GM1</text>
<rect x="217.3" y="418.95" width="73.3" height="4.7" fill="#fb6262"/>
<line x1="212.7" y1="421.3" x2="217.3" y2="421.3" stroke="#222" stroke-width="1"/>
<text x="210.42" y="424.18" font-size="8" font-weight="bold" text-anchor="end" fill="#111" stroke="#111" stroke-width="0.2" font-family='"Liberation Sans", sans-serif' transform="translate(0 421.3) scale(1 1.1) translate(0 -421.3)" >RF1</text>
<rect x="217.3" y="426.49" width="38.8" height="4.7" fill="#fb6262"/>
<line x1="212.7" y1="428.84" x2="217.3" y2="428.84" stroke="#222" stroke-width="1"/>
<text x="210.42" y="431.72" font-size="8" font-weight="bold" text-anchor="end" fill="#111" stroke="#111" stroke-width="0.2" font-family='"Liberation Sans", sans-serif' transform="translate(0 428.84) scale(1 1.1) translate(0 -428.84)" >BF1</text>
<rect x="217.3" y="434.03" width="44" height="4.7" fill="#840000"/>
<line x1="212.7" y1="436.38" x2="217.3" y2="436.38" stroke="#222" stroke-width="1"/>
<text x="210.42" y="439.26" font-size="8" font-weight="bold" text-anchor="end" fill="#111" stroke="#111" stroke-width="0.2" font-family='"Liberation Sans", sans-serif' transform="translate(0 436.38) scale(1 1.1) translate(0 -436.38)" >TB2</text>
<rect x="217.3" y="441.57" width="29" height="4.7" fill="#840000"/>
<line x1="212.7" y1="443.92" x2="217.3" y2="443.92" stroke="#222" stroke-width="1"/>
<text x="210.42" y="446.8" font-size="8" font-weight="bold" text-anchor="end" fill="#111" stroke="#111" stroke-width="0.2" font-family='"Liberation Sans", sans-serif' transform="translate(0 443.92) scale(1 1.1) translate(0 -443.92)" >TRA2</text>
<rect x="217.3" y="449.11" width="41.6" height="4.7" fill="#840000"/>
<line x1="212.7" y1="451.46" x2="217.3" y2="451.46" stroke="#222" stroke-width="1"/>
<text x="210.42" y="454.34" font-size="8" font-weight="bold" text-anchor="end" fill="#111" stroke="#111" stroke-width="0.2" font-family='"Liberation Sans", sans-serif' transform="translate(0 451.46) scale(1 1.1) translate(0 -451.46)" >LD2</text>
<rect x="217.3" y="456.65" width="52.5" height="4.7" fill="#840000"/>
<line x1="212.7" y1="459" x2="217.3" y2="459" stroke="#222" stroke-width="1"/>
<text x="210.42" y="461.88" font-size="8" font-weight="bold" text-anchor="end" fill="#111" stroke="#111" stroke-width="0.2" font-family='"Liberation Sans", sans-serif' transform="translate(0 459) scale(1 1.1) translate(0 -459)" >RA2</text>
<rect x="217.3" y="464.19" width="23.4" height="4.7" fill="#840000"/>
<line x1="212.7" y1="466.54" x2="217.3" y2="466.54" stroke="#222" stroke-width="1"/>
<text x="210.42" y="469.42" font-size="8" font-weight="bold" text-anchor="end" fill="#111" stroke="#111" stroke-width="0.2" font-family='"Liberation Sans", sans-serif' transform="translate(0 466.54) scale(1 1.1) translate(0 -466.54)" >GM2</text>
<rect x="217.3" y="471.73" width="61.9" height="4.7" fill="#840000"/>
<line x1="212.7" y1="474.08" x2="217.3" y2="474.08" stroke="#222" stroke-width="1"/>
<text x="210.42" y="476.96" font-size="8" font-weight="bold" text-anchor="end" fill="#111" stroke="#111" stroke-width="0.2" font-family='"Liberation Sans", sans-serif' transform="translate(0 474.08) scale(1 1.1) translate(0 -474.08)" >RF2</text>
<rect x="217.3" y="479.27" width="26.4" height="4.7" fill="#840000"/>
<line x1="212.7" y1="481.62" x2="217.3" y2="481.62" stroke="#222" stroke-width="1"/>
<text x="210.42" y="484.5" font-size="8" font-weight="bold" text-anchor="end" fill="#111" stroke="#111" stroke-width="0.2" font-family='"Liberation Sans", sans-serif' transform="translate(0 481.62) scale(1 1.1) translate(0 -481.62)" >BF2</text>
<line x1="217.3" y1="377.9" x2="217.3" y2="487.05" stroke="#222" stroke-width="1.1"/>
<line x1="216.75" y1="486.5" x2="303" y2="486.5" stroke="#222" stroke-width="1.1"/>
<line x1="217.3" y1="486.5" x2="217.3" y2="490.9" stroke="#222" stroke-width="0.9"/>
<text x="217.3" y="500.65" font-size="8.2" font-weight="bold" text-anchor="middle" fill="#111" stroke="#111" stroke-width="0.2" font-family='"Liberation Sans", sans-serif' transform="translate(0 497.7) scale(1 1.1) translate(0 -497.7)" >0.0</text>
<line x1="238.6" y1="486.5" x2="238.6" y2="490.9" stroke="#222" stroke-width="0.9"/>
<text x="238.6" y="500.65" font-size="8.2" font-weight="bold" text-anchor="middle" fill="#111" stroke="#111" stroke-width="0.2" font-family='"Liberation Sans", sans-serif' transform="translate(0 497.7) scale(1 1.1) translate(0 -497.7)" >0.1</text>
<line x1="259.9" y1="486.5" x2="259.9" y2="490.9" stroke="#222" stroke-width="0.9"/>
<text x="259.9" y="500.65" font-size="8.2" font-weight="bold" text-anchor="middle" fill="#111" stroke="#111" stroke-width="0.2" font-family='"Liberation Sans", sans-serif' transform="translate(0 497.7) scale(1 1.1) translate(0 -497.7)" >0.2</text>
<line x1="281.2" y1="486.5" x2="281.2" y2="490.9" stroke="#222" stroke-width="0.9"/>
<text x="281.2" y="500.65" font-size="8.2" font-weight="bold" text-anchor="middle" fill="#111" stroke="#111" stroke-width="0.2" font-family='"Liberation Sans", sans-serif' transform="translate(0 497.7) scale(1 1.1) translate(0 -497.7)" >0.3</text>
<line x1="302.5" y1="486.5" x2="302.5" y2="490.9" stroke="#222" stroke-width="0.9"/>
<text x="302.5" y="500.65" font-size="8.2" font-weight="bold" text-anchor="middle" fill="#111" stroke="#111" stroke-width="0.2" font-family='"Liberation Sans", sans-serif' transform="translate(0 497.7) scale(1 1.1) translate(0 -497.7)" >0.4</text>
<text x="260.4" y="512.49" font-size="8.85" font-weight="bold" text-anchor="middle" fill="#111" stroke="#111" stroke-width="0.2" font-family='"Liberation Sans", sans-serif' transform="translate(0 509.3) scale(1 1.1) translate(0 -509.3)" >Muscle Contribution -S3</text>
<text x="304.75" y="416.26" font-size="8.5" font-weight="normal" text-anchor="middle" fill="#111" stroke="#111" stroke-width="0.2" font-family='"Liberation Sans", sans-serif' transform="translate(0 413.2) scale(1 1.1) translate(0 -413.2)" >Left</text>
<text x="304.9" y="469.66" font-size="8.5" font-weight="normal" text-anchor="middle" fill="#111" stroke="#111" stroke-width="0.2" font-family='"Liberation Sans", sans-serif' transform="translate(0 466.6) scale(1 1.1) translate(0 -466.6)" >Right</text>
<rect x="564.2" y="367.95" width="26.4" height="5.1" fill="#fcc45e"/>
<line x1="559.6" y1="370.5" x2="564.2" y2="370.5" stroke="#222" stroke-width="1"/>
<text x="555.6" y="373.6" font-size="8.6" font-weight="bold" text-anchor="end" fill="#111" stroke="#111" stroke-width="0.2" font-family='"Liberation Sans", sans-serif' transform="translate(0 370.5) scale(1 1.1) translate(0 -370.5)" >TB1</text>
<rect x="564.2" y="376.21" width="53.8" height="5.1" fill="#fcc45e"/>
<line x1="559.6" y1="378.76" x2="564.2" y2="378.76" stroke="#222" stroke-width="1"/>
<text x="555.6" y="381.86" font-size="8.6" font-weight="bold" text-anchor="end" fill="#111" stroke="#111" stroke-width="0.2" font-family='"Liberation Sans", sans-serif' transform="translate(0 378.76) scale(1 1.1) translate(0 -378.76)" >TRA1</text>
<rect x="564.2" y="384.47" width="37.2" height="5.1" fill="#fcc45e"/>
<line x1="559.6" y1="387.02" x2="564.2" y2="387.02" stroke="#222" stroke-width="1"/>
<text x="555.6" y="390.12" font-size="8.6" font-weight="bold" text-anchor="end" fill="#111" stroke="#111" stroke-width="0.2" font-family='"Liberation Sans", sans-serif' transform="translate(0 387.02) scale(1 1.1) translate(0 -387.02)" >LD1</text>
<rect x="564.2" y="392.73" width="71.9" height="5.1" fill="#fcc45e"/>
<line x1="559.6" y1="395.28" x2="564.2" y2="395.28" stroke="#222" stroke-width="1"/>
<text x="555.6" y="398.38" font-size="8.6" font-weight="bold" text-anchor="end" fill="#111" stroke="#111" stroke-width="0.2" font-family='"Liberation Sans", sans-serif' transform="translate(0 395.28) scale(1 1.1) translate(0 -395.28)" >RA1</text>
<rect x="564.2" y="400.99" width="16" height="5.1" fill="#fcc45e"/>
<line x1="559.6" y1="403.54" x2="564.2" y2="403.54" stroke="#222" stroke-width="1"/>
<text x="555.6" y="406.64" font-size="8.6" font-weight="bold" text-anchor="end" fill="#111" stroke="#111" stroke-width="0.2" font-family='"Liberation Sans", sans-serif' transform="translate(0 403.54) scale(1 1.1) translate(0 -403.54)" >GM1</text>
<circle cx="582.8" cy="403.54" r="1.29" fill="#222"/>
<rect x="564.2" y="409.25" width="73.9" height="5.1" fill="#fcc45e"/>
<line x1="559.6" y1="411.8" x2="564.2" y2="411.8" stroke="#222" stroke-width="1"/>
<text x="555.6" y="414.9" font-size="8.6" font-weight="bold" text-anchor="end" fill="#111" stroke="#111" stroke-width="0.2" font-family='"Liberation Sans", sans-serif' transform="translate(0 411.8) scale(1 1.1) translate(0 -411.8)" >RF1</text>
<circle cx="640.7" cy="411.8" r="1.29" fill="#222"/>
<rect x="564.2" y="417.51" width="12.8" height="5.1" fill="#fcc45e"/>
<line x1="559.6" y1="420.06" x2="564.2" y2="420.06" stroke="#222" stroke-width="1"/>
<text x="555.6" y="423.16" font-size="8.6" font-weight="bold" text-anchor="end" fill="#111" stroke="#111" stroke-width="0.2" font-family='"Liberation Sans", sans-serif' transform="translate(0 420.06) scale(1 1.1) translate(0 -420.06)" >BF1</text>
<circle cx="579.6" cy="420.06" r="1.29" fill="#222"/>
<rect x="564.2" y="425.77" width="20.1" height="5.1" fill="#3b8004"/>
<line x1="559.6" y1="428.32" x2="564.2" y2="428.32" stroke="#222" stroke-width="1"/>
<text x="555.6" y="431.42" font-size="8.6" font-weight="bold" text-anchor="end" fill="#111" stroke="#111" stroke-width="0.2" font-family='"Liberation Sans", sans-serif' transform="translate(0 428.32) scale(1 1.1) translate(0 -428.32)" >TB2</text>
<rect x="564.2" y="434.03" width="27.6" height="5.1" fill="#3b8004"/>
<line x1="559.6" y1="436.58" x2="564.2" y2="436.58" stroke="#222" stroke-width="1"/>
<text x="555.6" y="439.68" font-size="8.6" font-weight="bold" text-anchor="end" fill="#111" stroke="#111" stroke-width="0.2" font-family='"Liberation Sans", sans-serif' transform="translate(0 436.58) scale(1 1.1) translate(0 -436.58)" >TRA2</text>
<rect x="564.2" y="442.29" width="41.8" height="5.1" fill="#3b8004"/>
<line x1="559.6" y1="444.84" x2="564.2" y2="444.84" stroke="#222" stroke-width="1"/>
<text x="555.6" y="447.94" font-size="8.6" font-weight="bold" text-anchor="end" fill="#111" stroke="#111" stroke-width="0.2" font-family='"Liberation Sans", sans-serif' transform="translate(0 444.84) scale(1 1.1) translate(0 -444.84)" >LD2</text>
<rect x="564.2" y="450.55" width="64.4" height="5.1" fill="#3b8004"/>
<line x1="559.6" y1="453.1" x2="564.2" y2="453.1" stroke="#222" stroke-width="1"/>
<text x="555.6" y="456.2" font-size="8.6" font-weight="bold" text-anchor="end" fill="#111" stroke="#111" stroke-width="0.2" font-family='"Liberation Sans", sans-serif' transform="translate(0 453.1) scale(1 1.1) translate(0 -453.1)" >RA2</text>
<rect x="564.2" y="458.81" width="45.9" height="5.1" fill="#3b8004"/>
<line x1="559.6" y1="461.36" x2="564.2" y2="461.36" stroke="#222" stroke-width="1"/>
<text x="555.6" y="464.46" font-size="8.6" font-weight="bold" text-anchor="end" fill="#111" stroke="#111" stroke-width="0.2" font-family='"Liberation Sans", sans-serif' transform="translate(0 461.36) scale(1 1.1) translate(0 -461.36)" >GM2</text>
<rect x="564.2" y="467.07" width="26.4" height="5.1" fill="#3b8004"/>
<line x1="559.6" y1="469.62" x2="564.2" y2="469.62" stroke="#222" stroke-width="1"/>
<text x="555.6" y="472.72" font-size="8.6" font-weight="bold" text-anchor="end" fill="#111" stroke="#111" stroke-width="0.2" font-family='"Liberation Sans", sans-serif' transform="translate(0 469.62) scale(1 1.1) translate(0 -469.62)" >RF2</text>
<rect x="564.2" y="475.33" width="37.6" height="5.1" fill="#3b8004"/>
<line x1="559.6" y1="477.88" x2="564.2" y2="477.88" stroke="#222" stroke-width="1"/>
<text x="555.6" y="480.98" font-size="8.6" font-weight="bold" text-anchor="end" fill="#111" stroke="#111" stroke-width="0.2" font-family='"Liberation Sans", sans-serif' transform="translate(0 477.88) scale(1 1.1) translate(0 -477.88)" >BF2</text>
<line x1="564.2" y1="364.1" x2="564.2" y2="483.65" stroke="#222" stroke-width="1.1"/>
<line x1="563.65" y1="483.1" x2="643.1" y2="483.1" stroke="#222" stroke-width="1.1"/>
<line x1="564.2" y1="483.1" x2="564.2" y2="487.5" stroke="#222" stroke-width="0.9"/>
<text x="564.2" y="498.05" font-size="8.9" font-weight="bold" text-anchor="middle" fill="#111" stroke="#111" stroke-width="0.2" font-family='"Liberation Sans", sans-serif' transform="translate(0 494.85) scale(1 1.1) translate(0 -494.85)" >0.0</text>
<line x1="583.8" y1="483.1" x2="583.8" y2="487.5" stroke="#222" stroke-width="0.9"/>
<text x="583.8" y="498.05" font-size="8.9" font-weight="bold" text-anchor="middle" fill="#111" stroke="#111" stroke-width="0.2" font-family='"Liberation Sans", sans-serif' transform="translate(0 494.85) scale(1 1.1) translate(0 -494.85)" >0.1</text>
<line x1="603.4" y1="483.1" x2="603.4" y2="487.5" stroke="#222" stroke-width="0.9"/>
<text x="603.4" y="498.05" font-size="8.9" font-weight="bold" text-anchor="middle" fill="#111" stroke="#111" stroke-width="0.2" font-family='"Liberation Sans", sans-serif' transform="translate(0 494.85) scale(1 1.1) translate(0 -494.85)" >0.2</text>
<line x1="623" y1="483.1" x2="623" y2="487.5" stroke="#222" stroke-width="0.9"/>
<text x="623" y="498.05" font-size="8.9" font-weight="bold" text-anchor="middle" fill="#111" stroke="#111" stroke-width="0.2" font-family='"Liberation Sans", sans-serif' transform="translate(0 494.85) scale(1 1.1) translate(0 -494.85)" >0.3</text>
<line x1="642.6" y1="483.1" x2="642.6" y2="487.5" stroke="#222" stroke-width="0.9"/>
<text x="642.6" y="498.05" font-size="8.9" font-weight="bold" text-anchor="middle" fill="#111" stroke="#111" stroke-width="0.2" font-family='"Liberation Sans", sans-serif' transform="translate(0 494.85) scale(1 1.1) translate(0 -494.85)" >0.4</text>
<text x="603.85" y="510.97" font-size="9.5" font-weight="bold" text-anchor="middle" fill="#111" stroke="#111" stroke-width="0.2" font-family='"Liberation Sans", sans-serif' transform="translate(0 507.55) scale(1 1.1) translate(0 -507.55)" >Muscle Contribution -S3</text>
<text x="671.9" y="398.6" font-size="9.3" font-weight="normal" text-anchor="middle" fill="#111" stroke="#111" stroke-width="0.2" font-family='"Liberation Sans", sans-serif' transform="translate(0 395.25) scale(1 1.1) translate(0 -395.25)" >Left</text>
<text x="672" y="455.85" font-size="9.3" font-weight="normal" text-anchor="middle" fill="#111" stroke="#111" stroke-width="0.2" font-family='"Liberation Sans", sans-serif' transform="translate(0 452.5) scale(1 1.1) translate(0 -452.5)" >Right</text>
<rect x="216.5" y="554.6" width="33.1" height="4.6" fill="#fb6262"/>
<line x1="211.9" y1="556.9" x2="216.5" y2="556.9" stroke="#222" stroke-width="1"/>
<text x="208.6" y="559.78" font-size="8" font-weight="bold" text-anchor="end" fill="#111" stroke="#111" stroke-width="0.2" font-family='"Liberation Sans", sans-serif' transform="translate(0 556.9) scale(1 1.1) translate(0 -556.9)" >TB1</text>
<rect x="216.5" y="562.35" width="34.5" height="4.6" fill="#fb6262"/>
<line x1="211.9" y1="564.65" x2="216.5" y2="564.65" stroke="#222" stroke-width="1"/>
<text x="208.6" y="567.53" font-size="8" font-weight="bold" text-anchor="end" fill="#111" stroke="#111" stroke-width="0.2" font-family='"Liberation Sans", sans-serif' transform="translate(0 564.65) scale(1 1.1) translate(0 -564.65)" >TRA1</text>
<circle cx="253.6" cy="564.65" r="1.2" fill="#222"/>
<rect x="216.5" y="570.1" width="12.3" height="4.6" fill="#fb6262"/>
<line x1="211.9" y1="572.4" x2="216.5" y2="572.4" stroke="#222" stroke-width="1"/>
<text x="208.6" y="575.28" font-size="8" font-weight="bold" text-anchor="end" fill="#111" stroke="#111" stroke-width="0.2" font-family='"Liberation Sans", sans-serif' transform="translate(0 572.4) scale(1 1.1) translate(0 -572.4)" >LD1</text>
<rect x="216.5" y="577.85" width="12" height="4.6" fill="#fb6262"/>
<line x1="211.9" y1="580.15" x2="216.5" y2="580.15" stroke="#222" stroke-width="1"/>
<text x="208.6" y="583.03" font-size="8" font-weight="bold" text-anchor="end" fill="#111" stroke="#111" stroke-width="0.2" font-family='"Liberation Sans", sans-serif' transform="translate(0 580.15) scale(1 1.1) translate(0 -580.15)" >RA1</text>
<rect x="216.5" y="585.6" width="25.5" height="4.6" fill="#fb6262"/>
<line x1="211.9" y1="587.9" x2="216.5" y2="587.9" stroke="#222" stroke-width="1"/>
<text x="208.6" y="590.78" font-size="8" font-weight="bold" text-anchor="end" fill="#111" stroke="#111" stroke-width="0.2" font-family='"Liberation Sans", sans-serif' transform="translate(0 587.9) scale(1 1.1) translate(0 -587.9)" >GM1</text>
<rect x="216.5" y="593.35" width="71.4" height="4.6" fill="#fb6262"/>
<line x1="211.9" y1="595.65" x2="216.5" y2="595.65" stroke="#222" stroke-width="1"/>
<text x="208.6" y="598.53" font-size="8" font-weight="bold" text-anchor="end" fill="#111" stroke="#111" stroke-width="0.2" font-family='"Liberation Sans", sans-serif' transform="translate(0 595.65) scale(1 1.1) translate(0 -595.65)" >RF1</text>
<circle cx="290.5" cy="595.65" r="1.2" fill="#222"/>
<rect x="216.5" y="601.1" width="68.6" height="4.6" fill="#fb6262"/>
<line x1="211.9" y1="603.4" x2="216.5" y2="603.4" stroke="#222" stroke-width="1"/>
<text x="208.6" y="606.28" font-size="8" font-weight="bold" text-anchor="end" fill="#111" stroke="#111" stroke-width="0.2" font-family='"Liberation Sans", sans-serif' transform="translate(0 603.4) scale(1 1.1) translate(0 -603.4)" >BF1</text>
<circle cx="287.7" cy="603.4" r="1.2" fill="#222"/>
<rect x="216.5" y="608.85" width="32.5" height="4.6" fill="#840000"/>
<line x1="211.9" y1="611.15" x2="216.5" y2="611.15" stroke="#222" stroke-width="1"/>
<text x="208.6" y="614.03" font-size="8" font-weight="bold" text-anchor="end" fill="#111" stroke="#111" stroke-width="0.2" font-family='"Liberation Sans", sans-serif' transform="translate(0 611.15) scale(1 1.1) translate(0 -611.15)" >TB2</text>
<rect x="216.5" y="616.6" width="62.2" height="4.6" fill="#840000"/>
<line x1="211.9" y1="618.9" x2="216.5" y2="618.9" stroke="#222" stroke-width="1"/>
<text x="208.6" y="621.78" font-size="8" font-weight="bold" text-anchor="end" fill="#111" stroke="#111" stroke-width="0.2" font-family='"Liberation Sans", sans-serif' transform="translate(0 618.9) scale(1 1.1) translate(0 -618.9)" >TRA2</text>
<rect x="216.5" y="624.35" width="22.2" height="4.6" fill="#840000"/>
<line x1="211.9" y1="626.65" x2="216.5" y2="626.65" stroke="#222" stroke-width="1"/>
<text x="208.6" y="629.53" font-size="8" font-weight="bold" text-anchor="end" fill="#111" stroke="#111" stroke-width="0.2" font-family='"Liberation Sans", sans-serif' transform="translate(0 626.65) scale(1 1.1) translate(0 -626.65)" >LD2</text>
<rect x="216.5" y="632.1" width="12.5" height="4.6" fill="#840000"/>
<line x1="211.9" y1="634.4" x2="216.5" y2="634.4" stroke="#222" stroke-width="1"/>
<text x="208.6" y="637.28" font-size="8" font-weight="bold" text-anchor="end" fill="#111" stroke="#111" stroke-width="0.2" font-family='"Liberation Sans", sans-serif' transform="translate(0 634.4) scale(1 1.1) translate(0 -634.4)" >RA2</text>
<rect x="216.5" y="639.85" width="32" height="4.6" fill="#840000"/>
<line x1="211.9" y1="642.15" x2="216.5" y2="642.15" stroke="#222" stroke-width="1"/>
<text x="208.6" y="645.03" font-size="8" font-weight="bold" text-anchor="end" fill="#111" stroke="#111" stroke-width="0.2" font-family='"Liberation Sans", sans-serif' transform="translate(0 642.15) scale(1 1.1) translate(0 -642.15)" >GM2</text>
<rect x="216.5" y="647.6" width="46.6" height="4.6" fill="#840000"/>
<line x1="211.9" y1="649.9" x2="216.5" y2="649.9" stroke="#222" stroke-width="1"/>
<text x="208.6" y="652.78" font-size="8" font-weight="bold" text-anchor="end" fill="#111" stroke="#111" stroke-width="0.2" font-family='"Liberation Sans", sans-serif' transform="translate(0 649.9) scale(1 1.1) translate(0 -649.9)" >RF2</text>
<rect x="216.5" y="655.35" width="36.8" height="4.6" fill="#840000"/>
<line x1="211.9" y1="657.65" x2="216.5" y2="657.65" stroke="#222" stroke-width="1"/>
<text x="208.6" y="660.53" font-size="8" font-weight="bold" text-anchor="end" fill="#111" stroke="#111" stroke-width="0.2" font-family='"Liberation Sans", sans-serif' transform="translate(0 657.65) scale(1 1.1) translate(0 -657.65)" >BF2</text>
<line x1="216.5" y1="551.2" x2="216.5" y2="663.05" stroke="#222" stroke-width="1.1"/>
<line x1="215.95" y1="662.5" x2="307" y2="662.5" stroke="#222" stroke-width="1.1"/>
<line x1="216.5" y1="662.5" x2="216.5" y2="666.9" stroke="#222" stroke-width="0.9"/>
<text x="216.5" y="676.75" font-size="8.2" font-weight="bold" text-anchor="middle" fill="#111" stroke="#111" stroke-width="0.2" font-family='"Liberation Sans", sans-serif' transform="translate(0 673.8) scale(1 1.1) translate(0 -673.8)" >0.0</text>
<line x1="234.5" y1="662.5" x2="234.5" y2="666.9" stroke="#222" stroke-width="0.9"/>
<text x="234.5" y="676.75" font-size="8.2" font-weight="bold" text-anchor="middle" fill="#111" stroke="#111" stroke-width="0.2" font-family='"Liberation Sans", sans-serif' transform="translate(0 673.8) scale(1 1.1) translate(0 -673.8)" >0.1</text>
<line x1="252.5" y1="662.5" x2="252.5" y2="666.9" stroke="#222" stroke-width="0.9"/>
<text x="252.5" y="676.75" font-size="8.2" font-weight="bold" text-anchor="middle" fill="#111" stroke="#111" stroke-width="0.2" font-family='"Liberation Sans", sans-serif' transform="translate(0 673.8) scale(1 1.1) translate(0 -673.8)" >0.2</text>
<line x1="270.5" y1="662.5" x2="270.5" y2="666.9" stroke="#222" stroke-width="0.9"/>
<text x="270.5" y="676.75" font-size="8.2" font-weight="bold" text-anchor="middle" fill="#111" stroke="#111" stroke-width="0.2" font-family='"Liberation Sans", sans-serif' transform="translate(0 673.8) scale(1 1.1) translate(0 -673.8)" >0.3</text>
<line x1="288.5" y1="662.5" x2="288.5" y2="666.9" stroke="#222" stroke-width="0.9"/>
<text x="288.5" y="676.75" font-size="8.2" font-weight="bold" text-anchor="middle" fill="#111" stroke="#111" stroke-width="0.2" font-family='"Liberation Sans", sans-serif' transform="translate(0 673.8) scale(1 1.1) translate(0 -673.8)" >0.4</text>
<line x1="306.5" y1="662.5" x2="306.5" y2="666.9" stroke="#222" stroke-width="0.9"/>
<text x="306.5" y="676.75" font-size="8.2" font-weight="bold" text-anchor="middle" fill="#111" stroke="#111" stroke-width="0.2" font-family='"Liberation Sans", sans-serif' transform="translate(0 673.8) scale(1 1.1) translate(0 -673.8)" >0.5</text>
<text x="253.4" y="693.44" font-size="9" font-weight="bold" text-anchor="middle" fill="#111" stroke="#111" stroke-width="0.2" font-family='"Liberation Sans", sans-serif' transform="translate(0 690.2) scale(1 1.1) translate(0 -690.2)" >Muscle Contribution -S4</text>
<rect x="561.5" y="571.45" width="19.6" height="4.3" fill="#fcc45e"/>
<line x1="556.9" y1="573.6" x2="561.5" y2="573.6" stroke="#222" stroke-width="1"/>
<text x="554.5" y="576.23" font-size="7.3" font-weight="bold" text-anchor="end" fill="#111" stroke="#111" stroke-width="0.2" font-family='"Liberation Sans", sans-serif' transform="translate(0 573.6) scale(1 1.1) translate(0 -573.6)" >TB1</text>
<circle cx="583.7" cy="573.6" r="1.09" fill="#222"/>
<circle cx="586.9" cy="573.6" r="1.09" fill="#222"/>
<rect x="561.5" y="578.54" width="23.1" height="4.3" fill="#fcc45e"/>
<line x1="556.9" y1="580.69" x2="561.5" y2="580.69" stroke="#222" stroke-width="1"/>
<text x="554.5" y="583.32" font-size="7.3" font-weight="bold" text-anchor="end" fill="#111" stroke="#111" stroke-width="0.2" font-family='"Liberation Sans", sans-serif' transform="translate(0 580.69) scale(1 1.1) translate(0 -580.69)" >TRA1</text>
<rect x="561.5" y="585.63" width="22.4" height="4.3" fill="#fcc45e"/>
<line x1="556.9" y1="587.78" x2="561.5" y2="587.78" stroke="#222" stroke-width="1"/>
<text x="554.5" y="590.41" font-size="7.3" font-weight="bold" text-anchor="end" fill="#111" stroke="#111" stroke-width="0.2" font-family='"Liberation Sans", sans-serif' transform="translate(0 587.78) scale(1 1.1) translate(0 -587.78)" >LD1</text>
<rect x="561.5" y="592.72" width="32.5" height="4.3" fill="#fcc45e"/>
<line x1="556.9" y1="594.87" x2="561.5" y2="594.87" stroke="#222" stroke-width="1"/>
<text x="554.5" y="597.5" font-size="7.3" font-weight="bold" text-anchor="end" fill="#111" stroke="#111" stroke-width="0.2" font-family='"Liberation Sans", sans-serif' transform="translate(0 594.87) scale(1 1.1) translate(0 -594.87)" >RA1</text>
<rect x="561.5" y="599.81" width="35.4" height="4.3" fill="#fcc45e"/>
<line x1="556.9" y1="601.96" x2="561.5" y2="601.96" stroke="#222" stroke-width="1"/>
<text x="554.5" y="604.59" font-size="7.3" font-weight="bold" text-anchor="end" fill="#111" stroke="#111" stroke-width="0.2" font-family='"Liberation Sans", sans-serif' transform="translate(0 601.96) scale(1 1.1) translate(0 -601.96)" >GM1</text>
<rect x="561.5" y="606.9" width="33.6" height="4.3" fill="#fcc45e"/>
<line x1="556.9" y1="609.05" x2="561.5" y2="609.05" stroke="#222" stroke-width="1"/>
<text x="554.5" y="611.68" font-size="7.3" font-weight="bold" text-anchor="end" fill="#111" stroke="#111" stroke-width="0.2" font-family='"Liberation Sans", sans-serif' transform="translate(0 609.05) scale(1 1.1) translate(0 -609.05)" >RF1</text>
<rect x="561.5" y="613.99" width="40.1" height="4.3" fill="#fcc45e"/>
<line x1="556.9" y1="616.14" x2="561.5" y2="616.14" stroke="#222" stroke-width="1"/>
<text x="554.5" y="618.77" font-size="7.3" font-weight="bold" text-anchor="end" fill="#111" stroke="#111" stroke-width="0.2" font-family='"Liberation Sans", sans-serif' transform="translate(0 616.14) scale(1 1.1) translate(0 -616.14)" >BF1</text>
<rect x="561.5" y="621.08" width="69.7" height="4.3" fill="#3b8004"/>
<line x1="556.9" y1="623.23" x2="561.5" y2="623.23" stroke="#222" stroke-width="1"/>
<text x="554.5" y="625.86" font-size="7.3" font-weight="bold" text-anchor="end" fill="#111" stroke="#111" stroke-width="0.2" font-family='"Liberation Sans", sans-serif' transform="translate(0 623.23) scale(1 1.1) translate(0 -623.23)" >TB2</text>
<rect x="561.5" y="628.17" width="15.4" height="4.3" fill="#3b8004"/>
<line x1="556.9" y1="630.32" x2="561.5" y2="630.32" stroke="#222" stroke-width="1"/>
<text x="554.5" y="632.95" font-size="7.3" font-weight="bold" text-anchor="end" fill="#111" stroke="#111" stroke-width="0.2" font-family='"Liberation Sans", sans-serif' transform="translate(0 630.32) scale(1 1.1) translate(0 -630.32)" >TRA2</text>
<rect x="561.5" y="635.26" width="24.7" height="4.3" fill="#3b8004"/>
<line x1="556.9" y1="637.41" x2="561.5" y2="637.41" stroke="#222" stroke-width="1"/>
<text x="554.5" y="640.04" font-size="7.3" font-weight="bold" text-anchor="end" fill="#111" stroke="#111" stroke-width="0.2" font-family='"Liberation Sans", sans-serif' transform="translate(0 637.41) scale(1 1.1) translate(0 -637.41)" >LD2</text>
<rect x="561.5" y="642.35" width="16.7" height="4.3" fill="#3b8004"/>
<line x1="556.9" y1="644.5" x2="561.5" y2="644.5" stroke="#222" stroke-width="1"/>
<text x="554.5" y="647.13" font-size="7.3" font-weight="bold" text-anchor="end" fill="#111" stroke="#111" stroke-width="0.2" font-family='"Liberation Sans", sans-serif' transform="translate(0 644.5) scale(1 1.1) translate(0 -644.5)" >RA2</text>
<rect x="561.5" y="649.44" width="22.4" height="4.3" fill="#3b8004"/>
<line x1="556.9" y1="651.59" x2="561.5" y2="651.59" stroke="#222" stroke-width="1"/>
<text x="554.5" y="654.22" font-size="7.3" font-weight="bold" text-anchor="end" fill="#111" stroke="#111" stroke-width="0.2" font-family='"Liberation Sans", sans-serif' transform="translate(0 651.59) scale(1 1.1) translate(0 -651.59)" >GM2</text>
<rect x="561.5" y="656.53" width="33.1" height="4.3" fill="#3b8004"/>
<line x1="556.9" y1="658.68" x2="561.5" y2="658.68" stroke="#222" stroke-width="1"/>
<text x="554.5" y="661.31" font-size="7.3" font-weight="bold" text-anchor="end" fill="#111" stroke="#111" stroke-width="0.2" font-family='"Liberation Sans", sans-serif' transform="translate(0 658.68) scale(1 1.1) translate(0 -658.68)" >RF2</text>
<rect x="561.5" y="663.62" width="29.3" height="4.3" fill="#3b8004"/>
<line x1="556.9" y1="665.77" x2="561.5" y2="665.77" stroke="#222" stroke-width="1"/>
<text x="554.5" y="668.4" font-size="7.3" font-weight="bold" text-anchor="end" fill="#111" stroke="#111" stroke-width="0.2" font-family='"Liberation Sans", sans-serif' transform="translate(0 665.77) scale(1 1.1) translate(0 -665.77)" >BF2</text>
<line x1="561.5" y1="568.2" x2="561.5" y2="670.95" stroke="#222" stroke-width="1.1"/>
<line x1="560.95" y1="670.4" x2="648.7" y2="670.4" stroke="#222" stroke-width="1.1"/>
<line x1="561.5" y1="670.4" x2="561.5" y2="674.8" stroke="#222" stroke-width="0.9"/>
<text x="561.5" y="683.42" font-size="7" font-weight="bold" text-anchor="middle" fill="#111" stroke="#111" stroke-width="0.2" font-family='"Liberation Sans", sans-serif' transform="translate(0 680.9) scale(1 1.1) translate(0 -680.9)" >0.0</text>
<line x1="590.4" y1="670.4" x2="590.4" y2="674.8" stroke="#222" stroke-width="0.9"/>
<text x="590.4" y="683.42" font-size="7" font-weight="bold" text-anchor="middle" fill="#111" stroke="#111" stroke-width="0.2" font-family='"Liberation Sans", sans-serif' transform="translate(0 680.9) scale(1 1.1) translate(0 -680.9)" >0.2</text>
<line x1="619.3" y1="670.4" x2="619.3" y2="674.8" stroke="#222" stroke-width="0.9"/>
<text x="619.3" y="683.42" font-size="7" font-weight="bold" text-anchor="middle" fill="#111" stroke="#111" stroke-width="0.2" font-family='"Liberation Sans", sans-serif' transform="translate(0 680.9) scale(1 1.1) translate(0 -680.9)" >0.4</text>
<line x1="648.2" y1="670.4" x2="648.2" y2="674.8" stroke="#222" stroke-width="0.9"/>
<text x="648.2" y="683.42" font-size="7" font-weight="bold" text-anchor="middle" fill="#111" stroke="#111" stroke-width="0.2" font-family='"Liberation Sans", sans-serif' transform="translate(0 680.9) scale(1 1.1) translate(0 -680.9)" >0.6</text>
<text x="605" y="694.4" font-size="8.2" font-weight="bold" text-anchor="middle" fill="#111" stroke="#111" stroke-width="0.2" font-family='"Liberation Sans", sans-serif' transform="translate(0 691.45) scale(1 1.1) translate(0 -691.45)" >Muscle Contribution -S4</text>
<text x="645.65" y="597.82" font-size="8.1" font-weight="normal" text-anchor="middle" fill="#111" stroke="#111" stroke-width="0.2" font-family='"Liberation Sans", sans-serif' transform="translate(0 594.9) scale(1 1.1) translate(0 -594.9)" >Left</text>
<text x="645.85" y="647.22" font-size="8.1" font-weight="normal" text-anchor="middle" fill="#111" stroke="#111" stroke-width="0.2" font-family='"Liberation Sans", sans-serif' transform="translate(0 644.3) scale(1 1.1) translate(0 -644.3)" >Right</text>
<text x="67.5" y="732.2" font-size="16.5" font-weight="normal" text-anchor="start" fill="#111" font-family='"Liberation Serif", serif' textLength="202.5" lengthAdjust="spacingAndGlyphs">Bend-knee cushioning phase</text>
<text x="457.3" y="732.3" font-size="16.5" font-weight="normal" text-anchor="start" fill="#111" font-family='"Liberation Serif", serif' textLength="94.3" lengthAdjust="spacingAndGlyphs">Extend phase</text>
</svg>
</body></html>
